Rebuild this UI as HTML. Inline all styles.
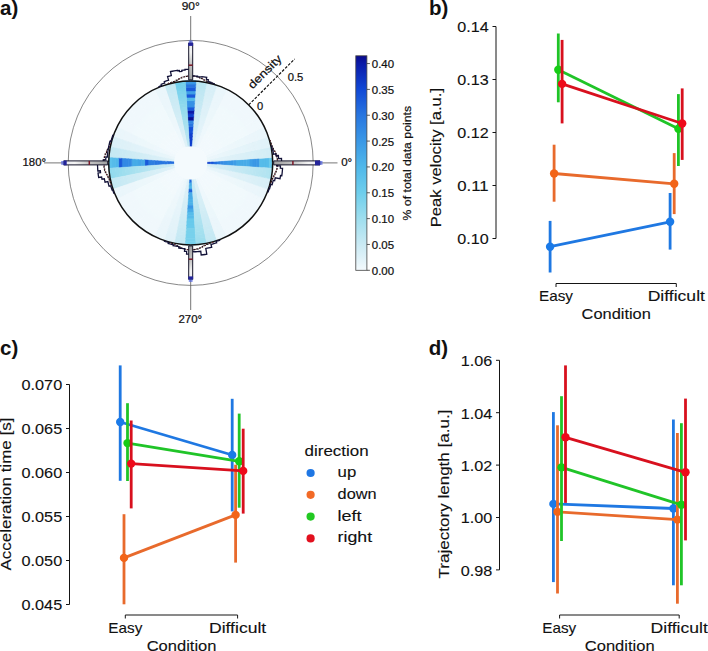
<!DOCTYPE html>
<html><head><meta charset="utf-8"><style>
html,body{margin:0;padding:0;background:#fff;}
svg{display:block;font-family:"Liberation Sans", sans-serif;}
</style></head><body>
<svg width="708" height="651" viewBox="0 0 708 651">
<rect width="708" height="651" fill="#fff"/>
<g>
<path d="M207.16,163.98 L210.73,164.21 L210.73,161.59 L207.16,161.82Z" fill="#0f3fcd" stroke="#0f3fcd" stroke-width="0.4"/>
<path d="M210.43,164.19 L214.00,164.43 L214.00,161.37 L210.43,161.61Z" fill="#1551d8" stroke="#1551d8" stroke-width="0.4"/>
<path d="M213.70,164.41 L217.27,164.64 L217.27,161.16 L213.70,161.39Z" fill="#236dde" stroke="#236dde" stroke-width="0.4"/>
<path d="M216.97,164.62 L220.54,164.86 L220.54,160.94 L216.97,161.18Z" fill="#2c7de1" stroke="#2c7de1" stroke-width="0.4"/>
<path d="M220.24,164.84 L223.80,165.07 L223.80,160.73 L220.24,160.96Z" fill="#338ae4" stroke="#338ae4" stroke-width="0.4"/>
<path d="M223.50,165.05 L227.07,165.28 L227.07,160.52 L223.50,160.75Z" fill="#3691e5" stroke="#3691e5" stroke-width="0.4"/>
<path d="M226.77,165.26 L230.34,165.50 L230.34,160.30 L226.77,160.54Z" fill="#3a98e6" stroke="#3a98e6" stroke-width="0.4"/>
<path d="M230.04,165.48 L233.61,165.71 L233.61,160.09 L230.04,160.32Z" fill="#3a98e6" stroke="#3a98e6" stroke-width="0.4"/>
<path d="M233.31,165.69 L236.88,165.93 L236.88,159.87 L233.31,160.11Z" fill="#3e9ee7" stroke="#3e9ee7" stroke-width="0.4"/>
<path d="M236.58,165.91 L240.14,166.14 L240.14,159.66 L236.58,159.89Z" fill="#47abe8" stroke="#47abe8" stroke-width="0.4"/>
<path d="M239.84,166.12 L243.41,166.35 L243.41,159.45 L239.84,159.68Z" fill="#47abe8" stroke="#47abe8" stroke-width="0.4"/>
<path d="M243.11,166.34 L246.68,166.57 L246.68,159.23 L243.11,159.46Z" fill="#47abe8" stroke="#47abe8" stroke-width="0.4"/>
<path d="M246.38,166.55 L249.95,166.78 L249.95,159.02 L246.38,159.25Z" fill="#47abe8" stroke="#47abe8" stroke-width="0.4"/>
<path d="M249.65,166.76 L253.22,167.00 L253.22,158.80 L249.65,159.04Z" fill="#3e9ee7" stroke="#3e9ee7" stroke-width="0.4"/>
<path d="M252.92,166.98 L256.48,167.21 L256.48,158.59 L252.92,158.82Z" fill="#3a98e6" stroke="#3a98e6" stroke-width="0.4"/>
<path d="M256.18,167.19 L259.75,167.43 L259.75,158.37 L256.18,158.61Z" fill="#3a98e6" stroke="#3a98e6" stroke-width="0.4"/>
<path d="M259.45,167.41 L263.02,167.64 L263.02,158.16 L259.45,158.39Z" fill="#56bcea" stroke="#56bcea" stroke-width="0.4"/>
<path d="M262.72,167.62 L266.29,167.85 L266.29,157.95 L262.72,158.18Z" fill="#56bcea" stroke="#56bcea" stroke-width="0.4"/>
<path d="M265.99,167.83 L269.56,168.07 L269.56,157.73 L265.99,157.97Z" fill="#56bcea" stroke="#56bcea" stroke-width="0.4"/>
<path d="M269.26,168.05 L272.82,168.28 L272.82,157.52 L269.26,157.75Z" fill="#68caec" stroke="#68caec" stroke-width="0.4"/>
<path d="M207.16,161.82 L210.73,161.59 L210.39,158.98 L206.88,159.68Z" fill="#e6f4fa" stroke="#e6f4fa" stroke-width="0.4"/>
<path d="M210.43,161.61 L214.00,161.37 L213.60,158.34 L210.10,159.04Z" fill="#e5f4f9" stroke="#e5f4f9" stroke-width="0.4"/>
<path d="M213.70,161.39 L217.27,161.16 L216.81,157.71 L213.31,158.40Z" fill="#e3f3f9" stroke="#e3f3f9" stroke-width="0.4"/>
<path d="M216.97,161.18 L220.54,160.94 L220.03,157.07 L216.52,157.76Z" fill="#e2f3f9" stroke="#e2f3f9" stroke-width="0.4"/>
<path d="M220.24,160.96 L223.80,160.73 L223.24,156.43 L219.73,157.13Z" fill="#e1f2f9" stroke="#e1f2f9" stroke-width="0.4"/>
<path d="M223.50,160.75 L227.07,160.52 L226.45,155.79 L222.94,156.49Z" fill="#e0f2f9" stroke="#e0f2f9" stroke-width="0.4"/>
<path d="M226.77,160.54 L230.34,160.30 L229.66,155.15 L226.16,155.85Z" fill="#dff1f8" stroke="#dff1f8" stroke-width="0.4"/>
<path d="M230.04,160.32 L233.61,160.09 L232.87,154.51 L229.37,155.21Z" fill="#def1f8" stroke="#def1f8" stroke-width="0.4"/>
<path d="M233.31,160.11 L236.88,159.87 L236.09,153.87 L232.58,154.57Z" fill="#ddf1f8" stroke="#ddf1f8" stroke-width="0.4"/>
<path d="M236.58,159.89 L240.14,159.66 L239.30,153.23 L235.79,153.93Z" fill="#dcf0f8" stroke="#dcf0f8" stroke-width="0.4"/>
<path d="M239.84,159.68 L243.41,159.45 L242.51,152.59 L239.00,153.29Z" fill="#dbf0f7" stroke="#dbf0f7" stroke-width="0.4"/>
<path d="M243.11,159.46 L246.68,159.23 L245.72,151.96 L242.22,152.65Z" fill="#daf0f7" stroke="#daf0f7" stroke-width="0.4"/>
<path d="M246.38,159.25 L249.95,159.02 L248.93,151.32 L245.43,152.01Z" fill="#d9eff7" stroke="#d9eff7" stroke-width="0.4"/>
<path d="M249.65,159.04 L253.22,158.80 L252.15,150.68 L248.64,151.38Z" fill="#d8eff7" stroke="#d8eff7" stroke-width="0.4"/>
<path d="M252.92,158.82 L256.48,158.59 L255.36,150.04 L251.85,150.74Z" fill="#d7eff7" stroke="#d7eff7" stroke-width="0.4"/>
<path d="M256.18,158.61 L259.75,158.37 L258.57,149.40 L255.06,150.10Z" fill="#d6eef6" stroke="#d6eef6" stroke-width="0.4"/>
<path d="M259.45,158.39 L263.02,158.16 L261.78,148.76 L258.28,149.46Z" fill="#d5eef6" stroke="#d5eef6" stroke-width="0.4"/>
<path d="M262.72,158.18 L266.29,157.95 L264.99,148.12 L261.49,148.82Z" fill="#d4eef6" stroke="#d4eef6" stroke-width="0.4"/>
<path d="M265.99,157.97 L269.56,157.73 L268.21,147.48 L264.70,148.18Z" fill="#d3edf6" stroke="#d3edf6" stroke-width="0.4"/>
<path d="M269.26,157.75 L272.82,157.52 L271.42,146.84 L267.91,147.54Z" fill="#d2edf6" stroke="#d2edf6" stroke-width="0.4"/>
<path d="M206.88,159.68 L210.39,158.98 L209.71,156.45 L206.32,157.60Z" fill="#ecf7fb" stroke="#ecf7fb" stroke-width="0.4"/>
<path d="M210.10,159.04 L213.60,158.34 L212.81,155.39 L209.43,156.54Z" fill="#ebf6fb" stroke="#ebf6fb" stroke-width="0.4"/>
<path d="M213.31,158.40 L216.81,157.71 L215.91,154.34 L212.53,155.49Z" fill="#ebf6fb" stroke="#ebf6fb" stroke-width="0.4"/>
<path d="M216.52,157.76 L220.03,157.07 L219.01,153.29 L215.63,154.44Z" fill="#eaf6fb" stroke="#eaf6fb" stroke-width="0.4"/>
<path d="M219.73,157.13 L223.24,156.43 L222.11,152.24 L218.73,153.39Z" fill="#e9f6fb" stroke="#e9f6fb" stroke-width="0.4"/>
<path d="M222.94,156.49 L226.45,155.79 L225.22,151.18 L221.83,152.33Z" fill="#e9f5fa" stroke="#e9f5fa" stroke-width="0.4"/>
<path d="M226.16,155.85 L229.66,155.15 L228.32,150.13 L224.93,151.28Z" fill="#e8f5fa" stroke="#e8f5fa" stroke-width="0.4"/>
<path d="M229.37,155.21 L232.87,154.51 L231.42,149.08 L228.03,150.23Z" fill="#e7f5fa" stroke="#e7f5fa" stroke-width="0.4"/>
<path d="M232.58,154.57 L236.09,153.87 L234.52,148.03 L231.13,149.17Z" fill="#e7f5fa" stroke="#e7f5fa" stroke-width="0.4"/>
<path d="M235.79,153.93 L239.30,153.23 L237.62,146.97 L234.24,148.12Z" fill="#e6f4fa" stroke="#e6f4fa" stroke-width="0.4"/>
<path d="M239.00,153.29 L242.51,152.59 L240.72,145.92 L237.34,147.07Z" fill="#e6f4fa" stroke="#e6f4fa" stroke-width="0.4"/>
<path d="M242.22,152.65 L245.72,151.96 L243.82,144.87 L240.44,146.02Z" fill="#e5f4fa" stroke="#e5f4fa" stroke-width="0.4"/>
<path d="M245.43,152.01 L248.93,151.32 L246.92,143.81 L243.54,144.96Z" fill="#e4f4f9" stroke="#e4f4f9" stroke-width="0.4"/>
<path d="M248.64,151.38 L252.15,150.68 L250.03,142.76 L246.64,143.91Z" fill="#e4f3f9" stroke="#e4f3f9" stroke-width="0.4"/>
<path d="M251.85,150.74 L255.36,150.04 L253.13,141.71 L249.74,142.86Z" fill="#e3f3f9" stroke="#e3f3f9" stroke-width="0.4"/>
<path d="M255.06,150.10 L258.57,149.40 L256.23,140.66 L252.84,141.81Z" fill="#e3f3f9" stroke="#e3f3f9" stroke-width="0.4"/>
<path d="M258.28,149.46 L261.78,148.76 L259.33,139.60 L255.94,140.75Z" fill="#e2f3f9" stroke="#e2f3f9" stroke-width="0.4"/>
<path d="M261.49,148.82 L264.99,148.12 L262.43,138.55 L259.04,139.70Z" fill="#e1f2f9" stroke="#e1f2f9" stroke-width="0.4"/>
<path d="M264.70,148.18 L268.21,147.48 L265.53,137.50 L262.15,138.65Z" fill="#e1f2f9" stroke="#e1f2f9" stroke-width="0.4"/>
<path d="M267.91,147.54 L271.42,146.84 L268.63,136.45 L265.25,137.59Z" fill="#e0f2f8" stroke="#e0f2f8" stroke-width="0.4"/>
<path d="M206.32,157.60 L209.71,156.45 L208.70,154.02 L205.50,155.60Z" fill="#eff8fc" stroke="#eff8fc" stroke-width="0.4"/>
<path d="M209.43,156.54 L212.81,155.39 L211.64,152.57 L208.44,154.15Z" fill="#eff8fc" stroke="#eff8fc" stroke-width="0.4"/>
<path d="M212.53,155.49 L215.91,154.34 L214.58,151.12 L211.37,152.71Z" fill="#eff8fc" stroke="#eff8fc" stroke-width="0.4"/>
<path d="M215.63,154.44 L219.01,153.29 L217.52,149.68 L214.31,151.26Z" fill="#eff8fc" stroke="#eff8fc" stroke-width="0.4"/>
<path d="M218.73,153.39 L222.11,152.24 L220.45,148.23 L217.25,149.81Z" fill="#eef8fc" stroke="#eef8fc" stroke-width="0.4"/>
<path d="M221.83,152.33 L225.22,151.18 L223.39,146.78 L220.18,148.36Z" fill="#eef8fc" stroke="#eef8fc" stroke-width="0.4"/>
<path d="M224.93,151.28 L228.32,150.13 L226.33,145.33 L223.12,146.91Z" fill="#eef7fc" stroke="#eef7fc" stroke-width="0.4"/>
<path d="M228.03,150.23 L231.42,149.08 L229.27,143.88 L226.06,145.46Z" fill="#edf7fb" stroke="#edf7fb" stroke-width="0.4"/>
<path d="M231.13,149.17 L234.52,148.03 L232.20,142.43 L229.00,144.01Z" fill="#edf7fb" stroke="#edf7fb" stroke-width="0.4"/>
<path d="M234.24,148.12 L237.62,146.97 L235.14,140.98 L231.93,142.57Z" fill="#edf7fb" stroke="#edf7fb" stroke-width="0.4"/>
<path d="M237.34,147.07 L240.72,145.92 L238.08,139.54 L234.87,141.12Z" fill="#ecf7fb" stroke="#ecf7fb" stroke-width="0.4"/>
<path d="M240.44,146.02 L243.82,144.87 L241.01,138.09 L237.81,139.67Z" fill="#ecf7fb" stroke="#ecf7fb" stroke-width="0.4"/>
<path d="M243.54,144.96 L246.92,143.81 L243.95,136.64 L240.75,138.22Z" fill="#ecf7fb" stroke="#ecf7fb" stroke-width="0.4"/>
<path d="M246.64,143.91 L250.03,142.76 L246.89,135.19 L243.68,136.77Z" fill="#ebf6fb" stroke="#ebf6fb" stroke-width="0.4"/>
<path d="M249.74,142.86 L253.13,141.71 L249.83,133.74 L246.62,135.32Z" fill="#ebf6fb" stroke="#ebf6fb" stroke-width="0.4"/>
<path d="M252.84,141.81 L256.23,140.66 L252.76,132.29 L249.56,133.87Z" fill="#ebf6fb" stroke="#ebf6fb" stroke-width="0.4"/>
<path d="M255.94,140.75 L259.33,139.60 L255.70,130.85 L252.49,132.43Z" fill="#ebf6fb" stroke="#ebf6fb" stroke-width="0.4"/>
<path d="M259.04,139.70 L262.43,138.55 L258.64,129.40 L255.43,130.98Z" fill="#eaf6fb" stroke="#eaf6fb" stroke-width="0.4"/>
<path d="M262.15,138.65 L265.53,137.50 L261.58,127.95 L258.37,129.53Z" fill="#eaf6fb" stroke="#eaf6fb" stroke-width="0.4"/>
<path d="M265.25,137.59 L268.63,136.45 L264.51,126.50 L261.31,128.08Z" fill="#eaf6fb" stroke="#eaf6fb" stroke-width="0.4"/>
<path d="M205.50,155.60 L208.70,154.02 L207.39,151.75 L204.42,153.73Z" fill="#f2f9fd" stroke="#f2f9fd" stroke-width="0.4"/>
<path d="M208.44,154.15 L211.64,152.57 L210.11,149.93 L207.14,151.91Z" fill="#f2f9fd" stroke="#f2f9fd" stroke-width="0.4"/>
<path d="M211.37,152.71 L214.58,151.12 L212.84,148.11 L209.87,150.09Z" fill="#f2f9fd" stroke="#f2f9fd" stroke-width="0.4"/>
<path d="M214.31,151.26 L217.52,149.68 L215.56,146.29 L212.59,148.27Z" fill="#f2f9fd" stroke="#f2f9fd" stroke-width="0.4"/>
<path d="M217.25,149.81 L220.45,148.23 L218.28,144.47 L215.31,146.46Z" fill="#f2f9fc" stroke="#f2f9fc" stroke-width="0.4"/>
<path d="M220.18,148.36 L223.39,146.78 L221.01,142.65 L218.03,144.64Z" fill="#f2f9fc" stroke="#f2f9fc" stroke-width="0.4"/>
<path d="M223.12,146.91 L226.33,145.33 L223.73,140.83 L220.76,142.82Z" fill="#f1f9fc" stroke="#f1f9fc" stroke-width="0.4"/>
<path d="M226.06,145.46 L229.27,143.88 L226.45,139.01 L223.48,141.00Z" fill="#f1f9fc" stroke="#f1f9fc" stroke-width="0.4"/>
<path d="M229.00,144.01 L232.20,142.43 L229.18,137.19 L226.20,139.18Z" fill="#f1f9fc" stroke="#f1f9fc" stroke-width="0.4"/>
<path d="M231.93,142.57 L235.14,140.98 L231.90,135.37 L228.93,137.36Z" fill="#f1f9fc" stroke="#f1f9fc" stroke-width="0.4"/>
<path d="M234.87,141.12 L238.08,139.54 L234.62,133.55 L231.65,135.54Z" fill="#f1f9fc" stroke="#f1f9fc" stroke-width="0.4"/>
<path d="M237.81,139.67 L241.01,138.09 L237.35,131.73 L234.37,133.72Z" fill="#f1f9fc" stroke="#f1f9fc" stroke-width="0.4"/>
<path d="M240.75,138.22 L243.95,136.64 L240.07,129.91 L237.10,131.90Z" fill="#f1f9fc" stroke="#f1f9fc" stroke-width="0.4"/>
<path d="M243.68,136.77 L246.89,135.19 L242.79,128.09 L239.82,130.08Z" fill="#f1f9fc" stroke="#f1f9fc" stroke-width="0.4"/>
<path d="M246.62,135.32 L249.83,133.74 L245.51,126.27 L242.54,128.26Z" fill="#f0f9fc" stroke="#f0f9fc" stroke-width="0.4"/>
<path d="M249.56,133.87 L252.76,132.29 L248.24,124.45 L245.27,126.44Z" fill="#f0f8fc" stroke="#f0f8fc" stroke-width="0.4"/>
<path d="M252.49,132.43 L255.70,130.85 L250.96,122.64 L247.99,124.62Z" fill="#f0f8fc" stroke="#f0f8fc" stroke-width="0.4"/>
<path d="M255.43,130.98 L258.64,129.40 L253.68,120.82 L250.71,122.80Z" fill="#f0f8fc" stroke="#f0f8fc" stroke-width="0.4"/>
<path d="M258.37,129.53 L261.58,127.95 L256.41,119.00 L253.43,120.98Z" fill="#f0f8fc" stroke="#f0f8fc" stroke-width="0.4"/>
<path d="M261.31,128.08 L264.51,126.50 L259.13,117.18 L256.16,119.16Z" fill="#f0f8fc" stroke="#f0f8fc" stroke-width="0.4"/>
<path d="M204.42,153.73 L207.39,151.75 L205.79,149.66 L203.11,152.02Z" fill="#f2f9fd" stroke="#f2f9fd" stroke-width="0.4"/>
<path d="M207.14,151.91 L210.11,149.93 L208.26,147.50 L205.57,149.86Z" fill="#f2f9fd" stroke="#f2f9fd" stroke-width="0.4"/>
<path d="M209.87,150.09 L212.84,148.11 L210.72,145.34 L208.03,147.70Z" fill="#f2f9fd" stroke="#f2f9fd" stroke-width="0.4"/>
<path d="M212.59,148.27 L215.56,146.29 L213.18,143.19 L210.49,145.54Z" fill="#f2f9fd" stroke="#f2f9fd" stroke-width="0.4"/>
<path d="M215.31,146.46 L218.28,144.47 L215.64,141.03 L212.95,143.38Z" fill="#f2f9fc" stroke="#f2f9fc" stroke-width="0.4"/>
<path d="M218.03,144.64 L221.01,142.65 L218.10,138.87 L215.42,141.22Z" fill="#f2f9fc" stroke="#f2f9fc" stroke-width="0.4"/>
<path d="M220.76,142.82 L223.73,140.83 L220.57,136.71 L217.88,139.06Z" fill="#f1f9fc" stroke="#f1f9fc" stroke-width="0.4"/>
<path d="M223.48,141.00 L226.45,139.01 L223.03,134.55 L220.34,136.91Z" fill="#f1f9fc" stroke="#f1f9fc" stroke-width="0.4"/>
<path d="M226.20,139.18 L229.18,137.19 L225.49,132.39 L222.80,134.75Z" fill="#f1f9fc" stroke="#f1f9fc" stroke-width="0.4"/>
<path d="M228.93,137.36 L231.90,135.37 L227.95,130.23 L225.27,132.59Z" fill="#f1f9fc" stroke="#f1f9fc" stroke-width="0.4"/>
<path d="M231.65,135.54 L234.62,133.55 L230.42,128.07 L227.73,130.43Z" fill="#f1f9fc" stroke="#f1f9fc" stroke-width="0.4"/>
<path d="M234.37,133.72 L237.35,131.73 L232.88,125.91 L230.19,128.27Z" fill="#f1f9fc" stroke="#f1f9fc" stroke-width="0.4"/>
<path d="M237.10,131.90 L240.07,129.91 L235.34,123.75 L232.65,126.11Z" fill="#f1f9fc" stroke="#f1f9fc" stroke-width="0.4"/>
<path d="M239.82,130.08 L242.79,128.09 L237.80,121.59 L235.11,123.95Z" fill="#f1f9fc" stroke="#f1f9fc" stroke-width="0.4"/>
<path d="M242.54,128.26 L245.51,126.27 L240.27,119.43 L237.58,121.79Z" fill="#f0f9fc" stroke="#f0f9fc" stroke-width="0.4"/>
<path d="M245.27,126.44 L248.24,124.45 L242.73,117.27 L240.04,119.63Z" fill="#f0f8fc" stroke="#f0f8fc" stroke-width="0.4"/>
<path d="M247.99,124.62 L250.96,122.64 L245.19,115.11 L242.50,117.47Z" fill="#f0f8fc" stroke="#f0f8fc" stroke-width="0.4"/>
<path d="M250.71,122.80 L253.68,120.82 L247.65,112.95 L244.96,115.31Z" fill="#f0f8fc" stroke="#f0f8fc" stroke-width="0.4"/>
<path d="M253.43,120.98 L256.41,119.00 L250.11,110.80 L247.43,113.15Z" fill="#f0f8fc" stroke="#f0f8fc" stroke-width="0.4"/>
<path d="M256.16,119.16 L259.13,117.18 L252.58,108.64 L249.89,110.99Z" fill="#f0f8fc" stroke="#f0f8fc" stroke-width="0.4"/>
<path d="M203.11,152.02 L205.79,149.66 L203.94,147.81 L201.58,150.49Z" fill="#f2f9fd" stroke="#f2f9fd" stroke-width="0.4"/>
<path d="M205.57,149.86 L208.26,147.50 L206.10,145.34 L203.74,148.03Z" fill="#f2f9fd" stroke="#f2f9fd" stroke-width="0.4"/>
<path d="M208.03,147.70 L210.72,145.34 L208.26,142.88 L205.90,145.57Z" fill="#f2f9fd" stroke="#f2f9fd" stroke-width="0.4"/>
<path d="M210.49,145.54 L213.18,143.19 L210.41,140.42 L208.06,143.11Z" fill="#f2f9fd" stroke="#f2f9fd" stroke-width="0.4"/>
<path d="M212.95,143.38 L215.64,141.03 L212.57,137.96 L210.22,140.65Z" fill="#f2f9fc" stroke="#f2f9fc" stroke-width="0.4"/>
<path d="M215.42,141.22 L218.10,138.87 L214.73,135.50 L212.38,138.18Z" fill="#f2f9fc" stroke="#f2f9fc" stroke-width="0.4"/>
<path d="M217.88,139.06 L220.57,136.71 L216.89,133.03 L214.54,135.72Z" fill="#f1f9fc" stroke="#f1f9fc" stroke-width="0.4"/>
<path d="M220.34,136.91 L223.03,134.55 L219.05,130.57 L216.69,133.26Z" fill="#f1f9fc" stroke="#f1f9fc" stroke-width="0.4"/>
<path d="M222.80,134.75 L225.49,132.39 L221.21,128.11 L218.85,130.80Z" fill="#f1f9fc" stroke="#f1f9fc" stroke-width="0.4"/>
<path d="M225.27,132.59 L227.95,130.23 L223.37,125.65 L221.01,128.33Z" fill="#f1f9fc" stroke="#f1f9fc" stroke-width="0.4"/>
<path d="M227.73,130.43 L230.42,128.07 L225.53,123.18 L223.17,125.87Z" fill="#f1f9fc" stroke="#f1f9fc" stroke-width="0.4"/>
<path d="M230.19,128.27 L232.88,125.91 L227.69,120.72 L225.33,123.41Z" fill="#f1f9fc" stroke="#f1f9fc" stroke-width="0.4"/>
<path d="M232.65,126.11 L235.34,123.75 L229.85,118.26 L227.49,120.95Z" fill="#f1f9fc" stroke="#f1f9fc" stroke-width="0.4"/>
<path d="M235.11,123.95 L237.80,121.59 L232.01,115.80 L229.65,118.49Z" fill="#f1f9fc" stroke="#f1f9fc" stroke-width="0.4"/>
<path d="M237.58,121.79 L240.27,119.43 L234.17,113.33 L231.81,116.02Z" fill="#f0f9fc" stroke="#f0f9fc" stroke-width="0.4"/>
<path d="M240.04,119.63 L242.73,117.27 L236.33,110.87 L233.97,113.56Z" fill="#f0f8fc" stroke="#f0f8fc" stroke-width="0.4"/>
<path d="M242.50,117.47 L245.19,115.11 L238.49,108.41 L236.13,111.10Z" fill="#f0f8fc" stroke="#f0f8fc" stroke-width="0.4"/>
<path d="M244.96,115.31 L247.65,112.95 L240.65,105.95 L238.29,108.64Z" fill="#f0f8fc" stroke="#f0f8fc" stroke-width="0.4"/>
<path d="M247.43,113.15 L250.11,110.80 L242.80,103.49 L240.45,106.17Z" fill="#f0f8fc" stroke="#f0f8fc" stroke-width="0.4"/>
<path d="M249.89,110.99 L252.58,108.64 L244.96,101.02 L242.61,103.71Z" fill="#f0f8fc" stroke="#f0f8fc" stroke-width="0.4"/>
<path d="M201.58,150.49 L203.94,147.81 L201.85,146.21 L199.87,149.18Z" fill="#f2f9fd" stroke="#f2f9fd" stroke-width="0.4"/>
<path d="M203.74,148.03 L206.10,145.34 L203.67,143.49 L201.69,146.46Z" fill="#f2f9fd" stroke="#f2f9fd" stroke-width="0.4"/>
<path d="M205.90,145.57 L208.26,142.88 L205.49,140.76 L203.51,143.73Z" fill="#f2f9fd" stroke="#f2f9fd" stroke-width="0.4"/>
<path d="M208.06,143.11 L210.41,140.42 L207.31,138.04 L205.33,141.01Z" fill="#f2f9fd" stroke="#f2f9fd" stroke-width="0.4"/>
<path d="M210.22,140.65 L212.57,137.96 L209.13,135.32 L207.14,138.29Z" fill="#f2f9fc" stroke="#f2f9fc" stroke-width="0.4"/>
<path d="M212.38,138.18 L214.73,135.50 L210.95,132.59 L208.96,135.57Z" fill="#f2f9fc" stroke="#f2f9fc" stroke-width="0.4"/>
<path d="M214.54,135.72 L216.89,133.03 L212.77,129.87 L210.78,132.84Z" fill="#f1f9fc" stroke="#f1f9fc" stroke-width="0.4"/>
<path d="M216.69,133.26 L219.05,130.57 L214.59,127.15 L212.60,130.12Z" fill="#f1f9fc" stroke="#f1f9fc" stroke-width="0.4"/>
<path d="M218.85,130.80 L221.21,128.11 L216.41,124.42 L214.42,127.40Z" fill="#f1f9fc" stroke="#f1f9fc" stroke-width="0.4"/>
<path d="M221.01,128.33 L223.37,125.65 L218.23,121.70 L216.24,124.67Z" fill="#f1f9fc" stroke="#f1f9fc" stroke-width="0.4"/>
<path d="M223.17,125.87 L225.53,123.18 L220.05,118.98 L218.06,121.95Z" fill="#f1f9fc" stroke="#f1f9fc" stroke-width="0.4"/>
<path d="M225.33,123.41 L227.69,120.72 L221.87,116.25 L219.88,119.23Z" fill="#f1f9fc" stroke="#f1f9fc" stroke-width="0.4"/>
<path d="M227.49,120.95 L229.85,118.26 L223.69,113.53 L221.70,116.50Z" fill="#f1f9fc" stroke="#f1f9fc" stroke-width="0.4"/>
<path d="M229.65,118.49 L232.01,115.80 L225.51,110.81 L223.52,113.78Z" fill="#f1f9fc" stroke="#f1f9fc" stroke-width="0.4"/>
<path d="M231.81,116.02 L234.17,113.33 L227.33,108.09 L225.34,111.06Z" fill="#f0f9fc" stroke="#f0f9fc" stroke-width="0.4"/>
<path d="M233.97,113.56 L236.33,110.87 L229.15,105.36 L227.16,108.33Z" fill="#f0f8fc" stroke="#f0f8fc" stroke-width="0.4"/>
<path d="M236.13,111.10 L238.49,108.41 L230.96,102.64 L228.98,105.61Z" fill="#f0f8fc" stroke="#f0f8fc" stroke-width="0.4"/>
<path d="M238.29,108.64 L240.65,105.95 L232.78,99.92 L230.80,102.89Z" fill="#f0f8fc" stroke="#f0f8fc" stroke-width="0.4"/>
<path d="M240.45,106.17 L242.80,103.49 L234.60,97.19 L232.62,100.17Z" fill="#f0f8fc" stroke="#f0f8fc" stroke-width="0.4"/>
<path d="M242.61,103.71 L244.96,101.02 L236.42,94.47 L234.44,97.44Z" fill="#f0f8fc" stroke="#f0f8fc" stroke-width="0.4"/>
<path d="M199.87,149.18 L201.85,146.21 L199.58,144.90 L198.00,148.10Z" fill="#f2f9fd" stroke="#f2f9fd" stroke-width="0.4"/>
<path d="M201.69,146.46 L203.67,143.49 L201.03,141.96 L199.45,145.16Z" fill="#f2f9fd" stroke="#f2f9fd" stroke-width="0.4"/>
<path d="M203.51,143.73 L205.49,140.76 L202.48,139.02 L200.89,142.23Z" fill="#f2f9fd" stroke="#f2f9fd" stroke-width="0.4"/>
<path d="M205.33,141.01 L207.31,138.04 L203.92,136.08 L202.34,139.29Z" fill="#f2f9fd" stroke="#f2f9fd" stroke-width="0.4"/>
<path d="M207.14,138.29 L209.13,135.32 L205.37,133.15 L203.79,136.35Z" fill="#f2f9fc" stroke="#f2f9fc" stroke-width="0.4"/>
<path d="M208.96,135.57 L210.95,132.59 L206.82,130.21 L205.24,133.42Z" fill="#f2f9fc" stroke="#f2f9fc" stroke-width="0.4"/>
<path d="M210.78,132.84 L212.77,129.87 L208.27,127.27 L206.69,130.48Z" fill="#f1f9fc" stroke="#f1f9fc" stroke-width="0.4"/>
<path d="M212.60,130.12 L214.59,127.15 L209.72,124.33 L208.14,127.54Z" fill="#f1f9fc" stroke="#f1f9fc" stroke-width="0.4"/>
<path d="M214.42,127.40 L216.41,124.42 L211.17,121.40 L209.59,124.60Z" fill="#f1f9fc" stroke="#f1f9fc" stroke-width="0.4"/>
<path d="M216.24,124.67 L218.23,121.70 L212.62,118.46 L211.03,121.67Z" fill="#f1f9fc" stroke="#f1f9fc" stroke-width="0.4"/>
<path d="M218.06,121.95 L220.05,118.98 L214.06,115.52 L212.48,118.73Z" fill="#f1f9fc" stroke="#f1f9fc" stroke-width="0.4"/>
<path d="M219.88,119.23 L221.87,116.25 L215.51,112.59 L213.93,115.79Z" fill="#f1f9fc" stroke="#f1f9fc" stroke-width="0.4"/>
<path d="M221.70,116.50 L223.69,113.53 L216.96,109.65 L215.38,112.85Z" fill="#f1f9fc" stroke="#f1f9fc" stroke-width="0.4"/>
<path d="M223.52,113.78 L225.51,110.81 L218.41,106.71 L216.83,109.92Z" fill="#f1f9fc" stroke="#f1f9fc" stroke-width="0.4"/>
<path d="M225.34,111.06 L227.33,108.09 L219.86,103.77 L218.28,106.98Z" fill="#f0f9fc" stroke="#f0f9fc" stroke-width="0.4"/>
<path d="M227.16,108.33 L229.15,105.36 L221.31,100.84 L219.73,104.04Z" fill="#f0f8fc" stroke="#f0f8fc" stroke-width="0.4"/>
<path d="M228.98,105.61 L230.96,102.64 L222.75,97.90 L221.17,101.11Z" fill="#f0f8fc" stroke="#f0f8fc" stroke-width="0.4"/>
<path d="M230.80,102.89 L232.78,99.92 L224.20,94.96 L222.62,98.17Z" fill="#f0f8fc" stroke="#f0f8fc" stroke-width="0.4"/>
<path d="M232.62,100.17 L234.60,97.19 L225.65,92.02 L224.07,95.23Z" fill="#f0f8fc" stroke="#f0f8fc" stroke-width="0.4"/>
<path d="M234.44,97.44 L236.42,94.47 L227.10,89.09 L225.52,92.29Z" fill="#f0f8fc" stroke="#f0f8fc" stroke-width="0.4"/>
<path d="M198.00,148.10 L199.58,144.90 L197.15,143.89 L196.00,147.28Z" fill="#eff8fc" stroke="#eff8fc" stroke-width="0.4"/>
<path d="M199.45,145.16 L201.03,141.96 L198.21,140.79 L197.06,144.17Z" fill="#eff8fc" stroke="#eff8fc" stroke-width="0.4"/>
<path d="M200.89,142.23 L202.48,139.02 L199.26,137.69 L198.11,141.07Z" fill="#eff8fc" stroke="#eff8fc" stroke-width="0.4"/>
<path d="M202.34,139.29 L203.92,136.08 L200.31,134.59 L199.16,137.97Z" fill="#eff8fc" stroke="#eff8fc" stroke-width="0.4"/>
<path d="M203.79,136.35 L205.37,133.15 L201.36,131.49 L200.21,134.87Z" fill="#eef8fc" stroke="#eef8fc" stroke-width="0.4"/>
<path d="M205.24,133.42 L206.82,130.21 L202.42,128.38 L201.27,131.77Z" fill="#eef8fc" stroke="#eef8fc" stroke-width="0.4"/>
<path d="M206.69,130.48 L208.27,127.27 L203.47,125.28 L202.32,128.67Z" fill="#eef7fc" stroke="#eef7fc" stroke-width="0.4"/>
<path d="M208.14,127.54 L209.72,124.33 L204.52,122.18 L203.37,125.57Z" fill="#edf7fb" stroke="#edf7fb" stroke-width="0.4"/>
<path d="M209.59,124.60 L211.17,121.40 L205.57,119.08 L204.43,122.47Z" fill="#edf7fb" stroke="#edf7fb" stroke-width="0.4"/>
<path d="M211.03,121.67 L212.62,118.46 L206.63,115.98 L205.48,119.36Z" fill="#edf7fb" stroke="#edf7fb" stroke-width="0.4"/>
<path d="M212.48,118.73 L214.06,115.52 L207.68,112.88 L206.53,116.26Z" fill="#ecf7fb" stroke="#ecf7fb" stroke-width="0.4"/>
<path d="M213.93,115.79 L215.51,112.59 L208.73,109.78 L207.58,113.16Z" fill="#ecf7fb" stroke="#ecf7fb" stroke-width="0.4"/>
<path d="M215.38,112.85 L216.96,109.65 L209.79,106.68 L208.64,110.06Z" fill="#ecf7fb" stroke="#ecf7fb" stroke-width="0.4"/>
<path d="M216.83,109.92 L218.41,106.71 L210.84,103.57 L209.69,106.96Z" fill="#ebf6fb" stroke="#ebf6fb" stroke-width="0.4"/>
<path d="M218.28,106.98 L219.86,103.77 L211.89,100.47 L210.74,103.86Z" fill="#ebf6fb" stroke="#ebf6fb" stroke-width="0.4"/>
<path d="M219.73,104.04 L221.31,100.84 L212.94,97.37 L211.79,100.76Z" fill="#ebf6fb" stroke="#ebf6fb" stroke-width="0.4"/>
<path d="M221.17,101.11 L222.75,97.90 L214.00,94.27 L212.85,97.66Z" fill="#ebf6fb" stroke="#ebf6fb" stroke-width="0.4"/>
<path d="M222.62,98.17 L224.20,94.96 L215.05,91.17 L213.90,94.56Z" fill="#eaf6fb" stroke="#eaf6fb" stroke-width="0.4"/>
<path d="M224.07,95.23 L225.65,92.02 L216.10,88.07 L214.95,91.45Z" fill="#eaf6fb" stroke="#eaf6fb" stroke-width="0.4"/>
<path d="M225.52,92.29 L227.10,89.09 L217.15,84.97 L216.01,88.35Z" fill="#eaf6fb" stroke="#eaf6fb" stroke-width="0.4"/>
<path d="M196.00,147.28 L197.15,143.89 L194.62,143.21 L193.92,146.72Z" fill="#e8f5fa" stroke="#e8f5fa" stroke-width="0.4"/>
<path d="M197.06,144.17 L198.21,140.79 L195.26,140.00 L194.56,143.50Z" fill="#e7f5fa" stroke="#e7f5fa" stroke-width="0.4"/>
<path d="M198.11,141.07 L199.26,137.69 L195.89,136.79 L195.20,140.29Z" fill="#e6f4fa" stroke="#e6f4fa" stroke-width="0.4"/>
<path d="M199.16,137.97 L200.31,134.59 L196.53,133.57 L195.84,137.08Z" fill="#e5f4fa" stroke="#e5f4fa" stroke-width="0.4"/>
<path d="M200.21,134.87 L201.36,131.49 L197.17,130.36 L196.47,133.87Z" fill="#e4f3f9" stroke="#e4f3f9" stroke-width="0.4"/>
<path d="M201.27,131.77 L202.42,128.38 L197.81,127.15 L197.11,130.66Z" fill="#e3f3f9" stroke="#e3f3f9" stroke-width="0.4"/>
<path d="M202.32,128.67 L203.47,125.28 L198.45,123.94 L197.75,127.44Z" fill="#e2f3f9" stroke="#e2f3f9" stroke-width="0.4"/>
<path d="M203.37,125.57 L204.52,122.18 L199.09,120.73 L198.39,124.23Z" fill="#e1f2f9" stroke="#e1f2f9" stroke-width="0.4"/>
<path d="M204.43,122.47 L205.57,119.08 L199.73,117.51 L199.03,121.02Z" fill="#e0f2f9" stroke="#e0f2f9" stroke-width="0.4"/>
<path d="M205.48,119.36 L206.63,115.98 L200.37,114.30 L199.67,117.81Z" fill="#dff2f8" stroke="#dff2f8" stroke-width="0.4"/>
<path d="M206.53,116.26 L207.68,112.88 L201.01,111.09 L200.31,114.60Z" fill="#def1f8" stroke="#def1f8" stroke-width="0.4"/>
<path d="M207.58,113.16 L208.73,109.78 L201.64,107.88 L200.95,111.38Z" fill="#def1f8" stroke="#def1f8" stroke-width="0.4"/>
<path d="M208.64,110.06 L209.79,106.68 L202.28,104.67 L201.59,108.17Z" fill="#ddf1f8" stroke="#ddf1f8" stroke-width="0.4"/>
<path d="M209.69,106.96 L210.84,103.57 L202.92,101.45 L202.22,104.96Z" fill="#dcf0f8" stroke="#dcf0f8" stroke-width="0.4"/>
<path d="M210.74,103.86 L211.89,100.47 L203.56,98.24 L202.86,101.75Z" fill="#dbf0f7" stroke="#dbf0f7" stroke-width="0.4"/>
<path d="M211.79,100.76 L212.94,97.37 L204.20,95.03 L203.50,98.54Z" fill="#daf0f7" stroke="#daf0f7" stroke-width="0.4"/>
<path d="M212.85,97.66 L214.00,94.27 L204.84,91.82 L204.14,95.32Z" fill="#d9eff7" stroke="#d9eff7" stroke-width="0.4"/>
<path d="M213.90,94.56 L215.05,91.17 L205.48,88.61 L204.78,92.11Z" fill="#d8eff7" stroke="#d8eff7" stroke-width="0.4"/>
<path d="M214.95,91.45 L216.10,88.07 L206.12,85.39 L205.42,88.90Z" fill="#d8eff7" stroke="#d8eff7" stroke-width="0.4"/>
<path d="M216.01,88.35 L217.15,84.97 L206.76,82.18 L206.06,85.69Z" fill="#d7eef7" stroke="#d7eef7" stroke-width="0.4"/>
<path d="M193.92,146.72 L194.62,143.21 L192.01,142.87 L191.78,146.44Z" fill="#dcf0f8" stroke="#dcf0f8" stroke-width="0.4"/>
<path d="M194.56,143.50 L195.26,140.00 L192.23,139.60 L191.99,143.17Z" fill="#daf0f7" stroke="#daf0f7" stroke-width="0.4"/>
<path d="M195.20,140.29 L195.89,136.79 L192.44,136.33 L192.21,139.90Z" fill="#d8eff7" stroke="#d8eff7" stroke-width="0.4"/>
<path d="M195.84,137.08 L196.53,133.57 L192.66,133.06 L192.42,136.63Z" fill="#d7eef7" stroke="#d7eef7" stroke-width="0.4"/>
<path d="M196.47,133.87 L197.17,130.36 L192.87,129.80 L192.64,133.36Z" fill="#d5eef6" stroke="#d5eef6" stroke-width="0.4"/>
<path d="M197.11,130.66 L197.81,127.15 L193.08,126.53 L192.85,130.10Z" fill="#d3edf6" stroke="#d3edf6" stroke-width="0.4"/>
<path d="M197.75,127.44 L198.45,123.94 L193.30,123.26 L193.06,126.83Z" fill="#d1edf5" stroke="#d1edf5" stroke-width="0.4"/>
<path d="M198.39,124.23 L199.09,120.73 L193.51,119.99 L193.28,123.56Z" fill="#d0ecf5" stroke="#d0ecf5" stroke-width="0.4"/>
<path d="M199.03,121.02 L199.73,117.51 L193.73,116.72 L193.49,120.29Z" fill="#ceebf5" stroke="#ceebf5" stroke-width="0.4"/>
<path d="M199.67,117.81 L200.37,114.30 L193.94,113.46 L193.71,117.02Z" fill="#ccebf4" stroke="#ccebf4" stroke-width="0.4"/>
<path d="M200.31,114.60 L201.01,111.09 L194.15,110.19 L193.92,113.76Z" fill="#cbeaf4" stroke="#cbeaf4" stroke-width="0.4"/>
<path d="M200.95,111.38 L201.64,107.88 L194.37,106.92 L194.14,110.49Z" fill="#c9eaf4" stroke="#c9eaf4" stroke-width="0.4"/>
<path d="M201.59,108.17 L202.28,104.67 L194.58,103.65 L194.35,107.22Z" fill="#c7e9f4" stroke="#c7e9f4" stroke-width="0.4"/>
<path d="M202.22,104.96 L202.92,101.45 L194.80,100.38 L194.56,103.95Z" fill="#c5e9f3" stroke="#c5e9f3" stroke-width="0.4"/>
<path d="M202.86,101.75 L203.56,98.24 L195.01,97.12 L194.78,100.68Z" fill="#c3e8f3" stroke="#c3e8f3" stroke-width="0.4"/>
<path d="M203.50,98.54 L204.20,95.03 L195.23,93.85 L194.99,97.42Z" fill="#c2e8f3" stroke="#c2e8f3" stroke-width="0.4"/>
<path d="M204.14,95.32 L204.84,91.82 L195.44,90.58 L195.21,94.15Z" fill="#c0e7f3" stroke="#c0e7f3" stroke-width="0.4"/>
<path d="M204.78,92.11 L205.48,88.61 L195.65,87.31 L195.42,90.88Z" fill="#bee7f2" stroke="#bee7f2" stroke-width="0.4"/>
<path d="M205.42,88.90 L206.12,85.39 L195.87,84.04 L195.63,87.61Z" fill="#bce6f2" stroke="#bce6f2" stroke-width="0.4"/>
<path d="M206.06,85.69 L206.76,82.18 L196.08,80.78 L195.85,84.34Z" fill="#bae6f2" stroke="#bae6f2" stroke-width="0.4"/>
<path d="M191.78,146.44 L192.01,142.87 L189.39,142.87 L189.62,146.44Z" fill="#0f3fcd" stroke="#0f3fcd" stroke-width="0.4"/>
<path d="M191.99,143.17 L192.23,139.60 L189.17,139.60 L189.41,143.17Z" fill="#0f3fcd" stroke="#0f3fcd" stroke-width="0.4"/>
<path d="M192.21,139.90 L192.44,136.33 L188.96,136.33 L189.19,139.90Z" fill="#0f3fcd" stroke="#0f3fcd" stroke-width="0.4"/>
<path d="M192.42,136.63 L192.66,133.06 L188.74,133.06 L188.98,136.63Z" fill="#0f3fcd" stroke="#0f3fcd" stroke-width="0.4"/>
<path d="M192.64,133.36 L192.87,129.80 L188.53,129.80 L188.76,133.36Z" fill="#1551d8" stroke="#1551d8" stroke-width="0.4"/>
<path d="M192.85,130.10 L193.08,126.53 L188.32,126.53 L188.55,130.10Z" fill="#1551d8" stroke="#1551d8" stroke-width="0.4"/>
<path d="M193.06,126.83 L193.30,123.26 L188.10,123.26 L188.34,126.83Z" fill="#2876e0" stroke="#2876e0" stroke-width="0.4"/>
<path d="M193.28,123.56 L193.51,119.99 L187.89,119.99 L188.12,123.56Z" fill="#2f84e2" stroke="#2f84e2" stroke-width="0.4"/>
<path d="M193.49,120.29 L193.73,116.72 L187.67,116.72 L187.91,120.29Z" fill="#0a0f94" stroke="#0a0f94" stroke-width="0.4"/>
<path d="M193.71,117.02 L193.94,113.46 L187.46,113.46 L187.69,117.02Z" fill="#0f3fcd" stroke="#0f3fcd" stroke-width="0.4"/>
<path d="M193.92,113.76 L194.15,110.19 L187.25,110.19 L187.48,113.76Z" fill="#0a1aa8" stroke="#0a1aa8" stroke-width="0.4"/>
<path d="M194.14,110.49 L194.37,106.92 L187.03,106.92 L187.26,110.49Z" fill="#1a5ada" stroke="#1a5ada" stroke-width="0.4"/>
<path d="M194.35,107.22 L194.58,103.65 L186.82,103.65 L187.05,107.22Z" fill="#3691e5" stroke="#3691e5" stroke-width="0.4"/>
<path d="M194.56,103.95 L194.80,100.38 L186.60,100.38 L186.84,103.95Z" fill="#3691e5" stroke="#3691e5" stroke-width="0.4"/>
<path d="M194.78,100.68 L195.01,97.12 L186.39,97.12 L186.62,100.68Z" fill="#50b8ea" stroke="#50b8ea" stroke-width="0.4"/>
<path d="M194.99,97.42 L195.23,93.85 L186.17,93.85 L186.41,97.42Z" fill="#1a5ada" stroke="#1a5ada" stroke-width="0.4"/>
<path d="M195.21,94.15 L195.44,90.58 L185.96,90.58 L186.19,94.15Z" fill="#3e9ee7" stroke="#3e9ee7" stroke-width="0.4"/>
<path d="M195.42,90.88 L195.65,87.31 L185.75,87.31 L185.98,90.88Z" fill="#1a5ada" stroke="#1a5ada" stroke-width="0.4"/>
<path d="M195.63,87.61 L195.87,84.04 L185.53,84.04 L185.77,87.61Z" fill="#2876e0" stroke="#2876e0" stroke-width="0.4"/>
<path d="M195.85,84.34 L196.08,80.78 L185.32,80.78 L185.55,84.34Z" fill="#3a98e6" stroke="#3a98e6" stroke-width="0.4"/>
<path d="M189.62,146.44 L189.39,142.87 L186.78,143.21 L187.48,146.72Z" fill="#c1e7f3" stroke="#c1e7f3" stroke-width="0.4"/>
<path d="M189.41,143.17 L189.17,139.60 L186.14,140.00 L186.84,143.50Z" fill="#bde6f2" stroke="#bde6f2" stroke-width="0.4"/>
<path d="M189.19,139.90 L188.96,136.33 L185.51,136.79 L186.20,140.29Z" fill="#b9e5f2" stroke="#b9e5f2" stroke-width="0.4"/>
<path d="M188.98,136.63 L188.74,133.06 L184.87,133.57 L185.56,137.08Z" fill="#b5e4f1" stroke="#b5e4f1" stroke-width="0.4"/>
<path d="M188.76,133.36 L188.53,129.80 L184.23,130.36 L184.93,133.87Z" fill="#b1e3f1" stroke="#b1e3f1" stroke-width="0.4"/>
<path d="M188.55,130.10 L188.32,126.53 L183.59,127.15 L184.29,130.66Z" fill="#ace2f0" stroke="#ace2f0" stroke-width="0.4"/>
<path d="M188.34,126.83 L188.10,123.26 L182.95,123.94 L183.65,127.44Z" fill="#a8e1ef" stroke="#a8e1ef" stroke-width="0.4"/>
<path d="M188.12,123.56 L187.89,119.99 L182.31,120.73 L183.01,124.23Z" fill="#a4e0ef" stroke="#a4e0ef" stroke-width="0.4"/>
<path d="M187.91,120.29 L187.67,116.72 L181.67,117.51 L182.37,121.02Z" fill="#a0dfee" stroke="#a0dfee" stroke-width="0.4"/>
<path d="M187.69,117.02 L187.46,113.46 L181.03,114.30 L181.73,117.81Z" fill="#9cddee" stroke="#9cddee" stroke-width="0.4"/>
<path d="M187.48,113.76 L187.25,110.19 L180.39,111.09 L181.09,114.60Z" fill="#98dcee" stroke="#98dcee" stroke-width="0.4"/>
<path d="M187.26,110.49 L187.03,106.92 L179.76,107.88 L180.45,111.38Z" fill="#94dbee" stroke="#94dbee" stroke-width="0.4"/>
<path d="M187.05,107.22 L186.82,103.65 L179.12,104.67 L179.81,108.17Z" fill="#8fd9ed" stroke="#8fd9ed" stroke-width="0.4"/>
<path d="M186.84,103.95 L186.60,100.38 L178.48,101.45 L179.18,104.96Z" fill="#8bd8ed" stroke="#8bd8ed" stroke-width="0.4"/>
<path d="M186.62,100.68 L186.39,97.12 L177.84,98.24 L178.54,101.75Z" fill="#87d6ed" stroke="#87d6ed" stroke-width="0.4"/>
<path d="M186.41,97.42 L186.17,93.85 L177.20,95.03 L177.90,98.54Z" fill="#82d5ed" stroke="#82d5ed" stroke-width="0.4"/>
<path d="M186.19,94.15 L185.96,90.58 L176.56,91.82 L177.26,95.32Z" fill="#7ed3ed" stroke="#7ed3ed" stroke-width="0.4"/>
<path d="M185.98,90.88 L185.75,87.31 L175.92,88.61 L176.62,92.11Z" fill="#79d2ec" stroke="#79d2ec" stroke-width="0.4"/>
<path d="M185.77,87.61 L185.53,84.04 L175.28,85.39 L175.98,88.90Z" fill="#75d0ec" stroke="#75d0ec" stroke-width="0.4"/>
<path d="M185.55,84.34 L185.32,80.78 L174.64,82.18 L175.34,85.69Z" fill="#71cfec" stroke="#71cfec" stroke-width="0.4"/>
<path d="M187.48,146.72 L186.78,143.21 L184.25,143.89 L185.40,147.28Z" fill="#dff2f8" stroke="#dff2f8" stroke-width="0.4"/>
<path d="M186.84,143.50 L186.14,140.00 L183.19,140.79 L184.34,144.17Z" fill="#def1f8" stroke="#def1f8" stroke-width="0.4"/>
<path d="M186.20,140.29 L185.51,136.79 L182.14,137.69 L183.29,141.07Z" fill="#dcf0f8" stroke="#dcf0f8" stroke-width="0.4"/>
<path d="M185.56,137.08 L184.87,133.57 L181.09,134.59 L182.24,137.97Z" fill="#dbf0f7" stroke="#dbf0f7" stroke-width="0.4"/>
<path d="M184.93,133.87 L184.23,130.36 L180.04,131.49 L181.19,134.87Z" fill="#daeff7" stroke="#daeff7" stroke-width="0.4"/>
<path d="M184.29,130.66 L183.59,127.15 L178.98,128.38 L180.13,131.77Z" fill="#d8eff7" stroke="#d8eff7" stroke-width="0.4"/>
<path d="M183.65,127.44 L182.95,123.94 L177.93,125.28 L179.08,128.67Z" fill="#d7eff7" stroke="#d7eff7" stroke-width="0.4"/>
<path d="M183.01,124.23 L182.31,120.73 L176.88,122.18 L178.03,125.57Z" fill="#d6eef6" stroke="#d6eef6" stroke-width="0.4"/>
<path d="M182.37,121.02 L181.67,117.51 L175.83,119.08 L176.97,122.47Z" fill="#d4eef6" stroke="#d4eef6" stroke-width="0.4"/>
<path d="M181.73,117.81 L181.03,114.30 L174.77,115.98 L175.92,119.36Z" fill="#d3edf6" stroke="#d3edf6" stroke-width="0.4"/>
<path d="M181.09,114.60 L180.39,111.09 L173.72,112.88 L174.87,116.26Z" fill="#d1edf5" stroke="#d1edf5" stroke-width="0.4"/>
<path d="M180.45,111.38 L179.76,107.88 L172.67,109.78 L173.82,113.16Z" fill="#d0ecf5" stroke="#d0ecf5" stroke-width="0.4"/>
<path d="M179.81,108.17 L179.12,104.67 L171.61,106.68 L172.76,110.06Z" fill="#ceecf5" stroke="#ceecf5" stroke-width="0.4"/>
<path d="M179.18,104.96 L178.48,101.45 L170.56,103.57 L171.71,106.96Z" fill="#cdebf5" stroke="#cdebf5" stroke-width="0.4"/>
<path d="M178.54,101.75 L177.84,98.24 L169.51,100.47 L170.66,103.86Z" fill="#ccebf4" stroke="#ccebf4" stroke-width="0.4"/>
<path d="M177.90,98.54 L177.20,95.03 L168.46,97.37 L169.61,100.76Z" fill="#caeaf4" stroke="#caeaf4" stroke-width="0.4"/>
<path d="M177.26,95.32 L176.56,91.82 L167.40,94.27 L168.55,97.66Z" fill="#c9eaf4" stroke="#c9eaf4" stroke-width="0.4"/>
<path d="M176.62,92.11 L175.92,88.61 L166.35,91.17 L167.50,94.56Z" fill="#c7e9f4" stroke="#c7e9f4" stroke-width="0.4"/>
<path d="M175.98,88.90 L175.28,85.39 L165.30,88.07 L166.45,91.45Z" fill="#c6e9f3" stroke="#c6e9f3" stroke-width="0.4"/>
<path d="M175.34,85.69 L174.64,82.18 L164.25,84.97 L165.39,88.35Z" fill="#c4e8f3" stroke="#c4e8f3" stroke-width="0.4"/>
<path d="M185.40,147.28 L184.25,143.89 L181.82,144.90 L183.40,148.10Z" fill="#eff8fc" stroke="#eff8fc" stroke-width="0.4"/>
<path d="M184.34,144.17 L183.19,140.79 L180.37,141.96 L181.95,145.16Z" fill="#eff8fc" stroke="#eff8fc" stroke-width="0.4"/>
<path d="M183.29,141.07 L182.14,137.69 L178.92,139.02 L180.51,142.23Z" fill="#eff8fc" stroke="#eff8fc" stroke-width="0.4"/>
<path d="M182.24,137.97 L181.09,134.59 L177.48,136.08 L179.06,139.29Z" fill="#eff8fc" stroke="#eff8fc" stroke-width="0.4"/>
<path d="M181.19,134.87 L180.04,131.49 L176.03,133.15 L177.61,136.35Z" fill="#eef8fc" stroke="#eef8fc" stroke-width="0.4"/>
<path d="M180.13,131.77 L178.98,128.38 L174.58,130.21 L176.16,133.42Z" fill="#eef8fc" stroke="#eef8fc" stroke-width="0.4"/>
<path d="M179.08,128.67 L177.93,125.28 L173.13,127.27 L174.71,130.48Z" fill="#eef7fc" stroke="#eef7fc" stroke-width="0.4"/>
<path d="M178.03,125.57 L176.88,122.18 L171.68,124.33 L173.26,127.54Z" fill="#edf7fb" stroke="#edf7fb" stroke-width="0.4"/>
<path d="M176.97,122.47 L175.83,119.08 L170.23,121.40 L171.81,124.60Z" fill="#edf7fb" stroke="#edf7fb" stroke-width="0.4"/>
<path d="M175.92,119.36 L174.77,115.98 L168.78,118.46 L170.37,121.67Z" fill="#edf7fb" stroke="#edf7fb" stroke-width="0.4"/>
<path d="M174.87,116.26 L173.72,112.88 L167.34,115.52 L168.92,118.73Z" fill="#ecf7fb" stroke="#ecf7fb" stroke-width="0.4"/>
<path d="M173.82,113.16 L172.67,109.78 L165.89,112.59 L167.47,115.79Z" fill="#ecf7fb" stroke="#ecf7fb" stroke-width="0.4"/>
<path d="M172.76,110.06 L171.61,106.68 L164.44,109.65 L166.02,112.85Z" fill="#ecf7fb" stroke="#ecf7fb" stroke-width="0.4"/>
<path d="M171.71,106.96 L170.56,103.57 L162.99,106.71 L164.57,109.92Z" fill="#ebf6fb" stroke="#ebf6fb" stroke-width="0.4"/>
<path d="M170.66,103.86 L169.51,100.47 L161.54,103.77 L163.12,106.98Z" fill="#ebf6fb" stroke="#ebf6fb" stroke-width="0.4"/>
<path d="M169.61,100.76 L168.46,97.37 L160.09,100.84 L161.67,104.04Z" fill="#ebf6fb" stroke="#ebf6fb" stroke-width="0.4"/>
<path d="M168.55,97.66 L167.40,94.27 L158.65,97.90 L160.23,101.11Z" fill="#ebf6fb" stroke="#ebf6fb" stroke-width="0.4"/>
<path d="M167.50,94.56 L166.35,91.17 L157.20,94.96 L158.78,98.17Z" fill="#eaf6fb" stroke="#eaf6fb" stroke-width="0.4"/>
<path d="M166.45,91.45 L165.30,88.07 L155.75,92.02 L157.33,95.23Z" fill="#eaf6fb" stroke="#eaf6fb" stroke-width="0.4"/>
<path d="M165.39,88.35 L164.25,84.97 L154.30,89.09 L155.88,92.29Z" fill="#eaf6fb" stroke="#eaf6fb" stroke-width="0.4"/>
<path d="M183.40,148.10 L181.82,144.90 L179.55,146.21 L181.53,149.18Z" fill="#f2f9fd" stroke="#f2f9fd" stroke-width="0.4"/>
<path d="M181.95,145.16 L180.37,141.96 L177.73,143.49 L179.71,146.46Z" fill="#f2f9fd" stroke="#f2f9fd" stroke-width="0.4"/>
<path d="M180.51,142.23 L178.92,139.02 L175.91,140.76 L177.89,143.73Z" fill="#f2f9fd" stroke="#f2f9fd" stroke-width="0.4"/>
<path d="M179.06,139.29 L177.48,136.08 L174.09,138.04 L176.07,141.01Z" fill="#f2f9fd" stroke="#f2f9fd" stroke-width="0.4"/>
<path d="M177.61,136.35 L176.03,133.15 L172.27,135.32 L174.26,138.29Z" fill="#f2f9fc" stroke="#f2f9fc" stroke-width="0.4"/>
<path d="M176.16,133.42 L174.58,130.21 L170.45,132.59 L172.44,135.57Z" fill="#f2f9fc" stroke="#f2f9fc" stroke-width="0.4"/>
<path d="M174.71,130.48 L173.13,127.27 L168.63,129.87 L170.62,132.84Z" fill="#f1f9fc" stroke="#f1f9fc" stroke-width="0.4"/>
<path d="M173.26,127.54 L171.68,124.33 L166.81,127.15 L168.80,130.12Z" fill="#f1f9fc" stroke="#f1f9fc" stroke-width="0.4"/>
<path d="M171.81,124.60 L170.23,121.40 L164.99,124.42 L166.98,127.40Z" fill="#f1f9fc" stroke="#f1f9fc" stroke-width="0.4"/>
<path d="M170.37,121.67 L168.78,118.46 L163.17,121.70 L165.16,124.67Z" fill="#f1f9fc" stroke="#f1f9fc" stroke-width="0.4"/>
<path d="M168.92,118.73 L167.34,115.52 L161.35,118.98 L163.34,121.95Z" fill="#f1f9fc" stroke="#f1f9fc" stroke-width="0.4"/>
<path d="M167.47,115.79 L165.89,112.59 L159.53,116.25 L161.52,119.23Z" fill="#f1f9fc" stroke="#f1f9fc" stroke-width="0.4"/>
<path d="M166.02,112.85 L164.44,109.65 L157.71,113.53 L159.70,116.50Z" fill="#f1f9fc" stroke="#f1f9fc" stroke-width="0.4"/>
<path d="M164.57,109.92 L162.99,106.71 L155.89,110.81 L157.88,113.78Z" fill="#f1f9fc" stroke="#f1f9fc" stroke-width="0.4"/>
<path d="M163.12,106.98 L161.54,103.77 L154.07,108.09 L156.06,111.06Z" fill="#f0f9fc" stroke="#f0f9fc" stroke-width="0.4"/>
<path d="M161.67,104.04 L160.09,100.84 L152.25,105.36 L154.24,108.33Z" fill="#f0f8fc" stroke="#f0f8fc" stroke-width="0.4"/>
<path d="M160.23,101.11 L158.65,97.90 L150.44,102.64 L152.42,105.61Z" fill="#f0f8fc" stroke="#f0f8fc" stroke-width="0.4"/>
<path d="M158.78,98.17 L157.20,94.96 L148.62,99.92 L150.60,102.89Z" fill="#f0f8fc" stroke="#f0f8fc" stroke-width="0.4"/>
<path d="M157.33,95.23 L155.75,92.02 L146.80,97.19 L148.78,100.17Z" fill="#f0f8fc" stroke="#f0f8fc" stroke-width="0.4"/>
<path d="M155.88,92.29 L154.30,89.09 L144.98,94.47 L146.96,97.44Z" fill="#f0f8fc" stroke="#f0f8fc" stroke-width="0.4"/>
<path d="M181.53,149.18 L179.55,146.21 L177.46,147.81 L179.82,150.49Z" fill="#f2f9fd" stroke="#f2f9fd" stroke-width="0.4"/>
<path d="M179.71,146.46 L177.73,143.49 L175.30,145.34 L177.66,148.03Z" fill="#f2f9fd" stroke="#f2f9fd" stroke-width="0.4"/>
<path d="M177.89,143.73 L175.91,140.76 L173.14,142.88 L175.50,145.57Z" fill="#f2f9fd" stroke="#f2f9fd" stroke-width="0.4"/>
<path d="M176.07,141.01 L174.09,138.04 L170.99,140.42 L173.34,143.11Z" fill="#f2f9fd" stroke="#f2f9fd" stroke-width="0.4"/>
<path d="M174.26,138.29 L172.27,135.32 L168.83,137.96 L171.18,140.65Z" fill="#f2f9fc" stroke="#f2f9fc" stroke-width="0.4"/>
<path d="M172.44,135.57 L170.45,132.59 L166.67,135.50 L169.02,138.18Z" fill="#f2f9fc" stroke="#f2f9fc" stroke-width="0.4"/>
<path d="M170.62,132.84 L168.63,129.87 L164.51,133.03 L166.86,135.72Z" fill="#f1f9fc" stroke="#f1f9fc" stroke-width="0.4"/>
<path d="M168.80,130.12 L166.81,127.15 L162.35,130.57 L164.71,133.26Z" fill="#f1f9fc" stroke="#f1f9fc" stroke-width="0.4"/>
<path d="M166.98,127.40 L164.99,124.42 L160.19,128.11 L162.55,130.80Z" fill="#f1f9fc" stroke="#f1f9fc" stroke-width="0.4"/>
<path d="M165.16,124.67 L163.17,121.70 L158.03,125.65 L160.39,128.33Z" fill="#f1f9fc" stroke="#f1f9fc" stroke-width="0.4"/>
<path d="M163.34,121.95 L161.35,118.98 L155.87,123.18 L158.23,125.87Z" fill="#f1f9fc" stroke="#f1f9fc" stroke-width="0.4"/>
<path d="M161.52,119.23 L159.53,116.25 L153.71,120.72 L156.07,123.41Z" fill="#f1f9fc" stroke="#f1f9fc" stroke-width="0.4"/>
<path d="M159.70,116.50 L157.71,113.53 L151.55,118.26 L153.91,120.95Z" fill="#f1f9fc" stroke="#f1f9fc" stroke-width="0.4"/>
<path d="M157.88,113.78 L155.89,110.81 L149.39,115.80 L151.75,118.49Z" fill="#f1f9fc" stroke="#f1f9fc" stroke-width="0.4"/>
<path d="M156.06,111.06 L154.07,108.09 L147.23,113.33 L149.59,116.02Z" fill="#f0f9fc" stroke="#f0f9fc" stroke-width="0.4"/>
<path d="M154.24,108.33 L152.25,105.36 L145.07,110.87 L147.43,113.56Z" fill="#f0f8fc" stroke="#f0f8fc" stroke-width="0.4"/>
<path d="M152.42,105.61 L150.44,102.64 L142.91,108.41 L145.27,111.10Z" fill="#f0f8fc" stroke="#f0f8fc" stroke-width="0.4"/>
<path d="M150.60,102.89 L148.62,99.92 L140.75,105.95 L143.11,108.64Z" fill="#f0f8fc" stroke="#f0f8fc" stroke-width="0.4"/>
<path d="M148.78,100.17 L146.80,97.19 L138.60,103.49 L140.95,106.17Z" fill="#f0f8fc" stroke="#f0f8fc" stroke-width="0.4"/>
<path d="M146.96,97.44 L144.98,94.47 L136.44,101.02 L138.79,103.71Z" fill="#f0f8fc" stroke="#f0f8fc" stroke-width="0.4"/>
<path d="M179.82,150.49 L177.46,147.81 L175.61,149.66 L178.29,152.02Z" fill="#f2f9fd" stroke="#f2f9fd" stroke-width="0.4"/>
<path d="M177.66,148.03 L175.30,145.34 L173.14,147.50 L175.83,149.86Z" fill="#f2f9fd" stroke="#f2f9fd" stroke-width="0.4"/>
<path d="M175.50,145.57 L173.14,142.88 L170.68,145.34 L173.37,147.70Z" fill="#f2f9fd" stroke="#f2f9fd" stroke-width="0.4"/>
<path d="M173.34,143.11 L170.99,140.42 L168.22,143.19 L170.91,145.54Z" fill="#f2f9fd" stroke="#f2f9fd" stroke-width="0.4"/>
<path d="M171.18,140.65 L168.83,137.96 L165.76,141.03 L168.45,143.38Z" fill="#f2f9fc" stroke="#f2f9fc" stroke-width="0.4"/>
<path d="M169.02,138.18 L166.67,135.50 L163.30,138.87 L165.98,141.22Z" fill="#f2f9fc" stroke="#f2f9fc" stroke-width="0.4"/>
<path d="M166.86,135.72 L164.51,133.03 L160.83,136.71 L163.52,139.06Z" fill="#f1f9fc" stroke="#f1f9fc" stroke-width="0.4"/>
<path d="M164.71,133.26 L162.35,130.57 L158.37,134.55 L161.06,136.91Z" fill="#f1f9fc" stroke="#f1f9fc" stroke-width="0.4"/>
<path d="M162.55,130.80 L160.19,128.11 L155.91,132.39 L158.60,134.75Z" fill="#f1f9fc" stroke="#f1f9fc" stroke-width="0.4"/>
<path d="M160.39,128.33 L158.03,125.65 L153.45,130.23 L156.13,132.59Z" fill="#f1f9fc" stroke="#f1f9fc" stroke-width="0.4"/>
<path d="M158.23,125.87 L155.87,123.18 L150.98,128.07 L153.67,130.43Z" fill="#f1f9fc" stroke="#f1f9fc" stroke-width="0.4"/>
<path d="M156.07,123.41 L153.71,120.72 L148.52,125.91 L151.21,128.27Z" fill="#f1f9fc" stroke="#f1f9fc" stroke-width="0.4"/>
<path d="M153.91,120.95 L151.55,118.26 L146.06,123.75 L148.75,126.11Z" fill="#f1f9fc" stroke="#f1f9fc" stroke-width="0.4"/>
<path d="M151.75,118.49 L149.39,115.80 L143.60,121.59 L146.29,123.95Z" fill="#f1f9fc" stroke="#f1f9fc" stroke-width="0.4"/>
<path d="M149.59,116.02 L147.23,113.33 L141.13,119.43 L143.82,121.79Z" fill="#f0f9fc" stroke="#f0f9fc" stroke-width="0.4"/>
<path d="M147.43,113.56 L145.07,110.87 L138.67,117.27 L141.36,119.63Z" fill="#f0f8fc" stroke="#f0f8fc" stroke-width="0.4"/>
<path d="M145.27,111.10 L142.91,108.41 L136.21,115.11 L138.90,117.47Z" fill="#f0f8fc" stroke="#f0f8fc" stroke-width="0.4"/>
<path d="M143.11,108.64 L140.75,105.95 L133.75,112.95 L136.44,115.31Z" fill="#f0f8fc" stroke="#f0f8fc" stroke-width="0.4"/>
<path d="M140.95,106.17 L138.60,103.49 L131.29,110.80 L133.97,113.15Z" fill="#f0f8fc" stroke="#f0f8fc" stroke-width="0.4"/>
<path d="M138.79,103.71 L136.44,101.02 L128.82,108.64 L131.51,110.99Z" fill="#f0f8fc" stroke="#f0f8fc" stroke-width="0.4"/>
<path d="M178.29,152.02 L175.61,149.66 L174.01,151.75 L176.98,153.73Z" fill="#f2f9fd" stroke="#f2f9fd" stroke-width="0.4"/>
<path d="M175.83,149.86 L173.14,147.50 L171.29,149.93 L174.26,151.91Z" fill="#f2f9fd" stroke="#f2f9fd" stroke-width="0.4"/>
<path d="M173.37,147.70 L170.68,145.34 L168.56,148.11 L171.53,150.09Z" fill="#f2f9fd" stroke="#f2f9fd" stroke-width="0.4"/>
<path d="M170.91,145.54 L168.22,143.19 L165.84,146.29 L168.81,148.27Z" fill="#f2f9fd" stroke="#f2f9fd" stroke-width="0.4"/>
<path d="M168.45,143.38 L165.76,141.03 L163.12,144.47 L166.09,146.46Z" fill="#f2f9fc" stroke="#f2f9fc" stroke-width="0.4"/>
<path d="M165.98,141.22 L163.30,138.87 L160.39,142.65 L163.37,144.64Z" fill="#f2f9fc" stroke="#f2f9fc" stroke-width="0.4"/>
<path d="M163.52,139.06 L160.83,136.71 L157.67,140.83 L160.64,142.82Z" fill="#f1f9fc" stroke="#f1f9fc" stroke-width="0.4"/>
<path d="M161.06,136.91 L158.37,134.55 L154.95,139.01 L157.92,141.00Z" fill="#f1f9fc" stroke="#f1f9fc" stroke-width="0.4"/>
<path d="M158.60,134.75 L155.91,132.39 L152.22,137.19 L155.20,139.18Z" fill="#f1f9fc" stroke="#f1f9fc" stroke-width="0.4"/>
<path d="M156.13,132.59 L153.45,130.23 L149.50,135.37 L152.47,137.36Z" fill="#f1f9fc" stroke="#f1f9fc" stroke-width="0.4"/>
<path d="M153.67,130.43 L150.98,128.07 L146.78,133.55 L149.75,135.54Z" fill="#f1f9fc" stroke="#f1f9fc" stroke-width="0.4"/>
<path d="M151.21,128.27 L148.52,125.91 L144.05,131.73 L147.03,133.72Z" fill="#f1f9fc" stroke="#f1f9fc" stroke-width="0.4"/>
<path d="M148.75,126.11 L146.06,123.75 L141.33,129.91 L144.30,131.90Z" fill="#f1f9fc" stroke="#f1f9fc" stroke-width="0.4"/>
<path d="M146.29,123.95 L143.60,121.59 L138.61,128.09 L141.58,130.08Z" fill="#f1f9fc" stroke="#f1f9fc" stroke-width="0.4"/>
<path d="M143.82,121.79 L141.13,119.43 L135.89,126.27 L138.86,128.26Z" fill="#f0f9fc" stroke="#f0f9fc" stroke-width="0.4"/>
<path d="M141.36,119.63 L138.67,117.27 L133.16,124.45 L136.13,126.44Z" fill="#f0f8fc" stroke="#f0f8fc" stroke-width="0.4"/>
<path d="M138.90,117.47 L136.21,115.11 L130.44,122.64 L133.41,124.62Z" fill="#f0f8fc" stroke="#f0f8fc" stroke-width="0.4"/>
<path d="M136.44,115.31 L133.75,112.95 L127.72,120.82 L130.69,122.80Z" fill="#f0f8fc" stroke="#f0f8fc" stroke-width="0.4"/>
<path d="M133.97,113.15 L131.29,110.80 L124.99,119.00 L127.97,120.98Z" fill="#f0f8fc" stroke="#f0f8fc" stroke-width="0.4"/>
<path d="M131.51,110.99 L128.82,108.64 L122.27,117.18 L125.24,119.16Z" fill="#f0f8fc" stroke="#f0f8fc" stroke-width="0.4"/>
<path d="M176.98,153.73 L174.01,151.75 L172.70,154.02 L175.90,155.60Z" fill="#f2f9fd" stroke="#f2f9fd" stroke-width="0.4"/>
<path d="M174.26,151.91 L171.29,149.93 L169.76,152.57 L172.96,154.15Z" fill="#f2f9fd" stroke="#f2f9fd" stroke-width="0.4"/>
<path d="M171.53,150.09 L168.56,148.11 L166.82,151.12 L170.03,152.71Z" fill="#f2f9fd" stroke="#f2f9fd" stroke-width="0.4"/>
<path d="M168.81,148.27 L165.84,146.29 L163.88,149.68 L167.09,151.26Z" fill="#f2f9fd" stroke="#f2f9fd" stroke-width="0.4"/>
<path d="M166.09,146.46 L163.12,144.47 L160.95,148.23 L164.15,149.81Z" fill="#f2f9fc" stroke="#f2f9fc" stroke-width="0.4"/>
<path d="M163.37,144.64 L160.39,142.65 L158.01,146.78 L161.22,148.36Z" fill="#f2f9fc" stroke="#f2f9fc" stroke-width="0.4"/>
<path d="M160.64,142.82 L157.67,140.83 L155.07,145.33 L158.28,146.91Z" fill="#f1f9fc" stroke="#f1f9fc" stroke-width="0.4"/>
<path d="M157.92,141.00 L154.95,139.01 L152.13,143.88 L155.34,145.46Z" fill="#f1f9fc" stroke="#f1f9fc" stroke-width="0.4"/>
<path d="M155.20,139.18 L152.22,137.19 L149.20,142.43 L152.40,144.01Z" fill="#f1f9fc" stroke="#f1f9fc" stroke-width="0.4"/>
<path d="M152.47,137.36 L149.50,135.37 L146.26,140.98 L149.47,142.57Z" fill="#f1f9fc" stroke="#f1f9fc" stroke-width="0.4"/>
<path d="M149.75,135.54 L146.78,133.55 L143.32,139.54 L146.53,141.12Z" fill="#f1f9fc" stroke="#f1f9fc" stroke-width="0.4"/>
<path d="M147.03,133.72 L144.05,131.73 L140.39,138.09 L143.59,139.67Z" fill="#f1f9fc" stroke="#f1f9fc" stroke-width="0.4"/>
<path d="M144.30,131.90 L141.33,129.91 L137.45,136.64 L140.65,138.22Z" fill="#f1f9fc" stroke="#f1f9fc" stroke-width="0.4"/>
<path d="M141.58,130.08 L138.61,128.09 L134.51,135.19 L137.72,136.77Z" fill="#f1f9fc" stroke="#f1f9fc" stroke-width="0.4"/>
<path d="M138.86,128.26 L135.89,126.27 L131.57,133.74 L134.78,135.32Z" fill="#f0f9fc" stroke="#f0f9fc" stroke-width="0.4"/>
<path d="M136.13,126.44 L133.16,124.45 L128.64,132.29 L131.84,133.87Z" fill="#f0f8fc" stroke="#f0f8fc" stroke-width="0.4"/>
<path d="M133.41,124.62 L130.44,122.64 L125.70,130.85 L128.91,132.43Z" fill="#f0f8fc" stroke="#f0f8fc" stroke-width="0.4"/>
<path d="M130.69,122.80 L127.72,120.82 L122.76,129.40 L125.97,130.98Z" fill="#f0f8fc" stroke="#f0f8fc" stroke-width="0.4"/>
<path d="M127.97,120.98 L124.99,119.00 L119.82,127.95 L123.03,129.53Z" fill="#f0f8fc" stroke="#f0f8fc" stroke-width="0.4"/>
<path d="M125.24,119.16 L122.27,117.18 L116.89,126.50 L120.09,128.08Z" fill="#f0f8fc" stroke="#f0f8fc" stroke-width="0.4"/>
<path d="M175.90,155.60 L172.70,154.02 L171.69,156.45 L175.08,157.60Z" fill="#eff8fc" stroke="#eff8fc" stroke-width="0.4"/>
<path d="M172.96,154.15 L169.76,152.57 L168.59,155.39 L171.97,156.54Z" fill="#eff8fc" stroke="#eff8fc" stroke-width="0.4"/>
<path d="M170.03,152.71 L166.82,151.12 L165.49,154.34 L168.87,155.49Z" fill="#eff8fc" stroke="#eff8fc" stroke-width="0.4"/>
<path d="M167.09,151.26 L163.88,149.68 L162.39,153.29 L165.77,154.44Z" fill="#eff8fc" stroke="#eff8fc" stroke-width="0.4"/>
<path d="M164.15,149.81 L160.95,148.23 L159.29,152.24 L162.67,153.39Z" fill="#eef8fc" stroke="#eef8fc" stroke-width="0.4"/>
<path d="M161.22,148.36 L158.01,146.78 L156.18,151.18 L159.57,152.33Z" fill="#eef8fc" stroke="#eef8fc" stroke-width="0.4"/>
<path d="M158.28,146.91 L155.07,145.33 L153.08,150.13 L156.47,151.28Z" fill="#eef7fc" stroke="#eef7fc" stroke-width="0.4"/>
<path d="M155.34,145.46 L152.13,143.88 L149.98,149.08 L153.37,150.23Z" fill="#edf7fb" stroke="#edf7fb" stroke-width="0.4"/>
<path d="M152.40,144.01 L149.20,142.43 L146.88,148.03 L150.27,149.17Z" fill="#edf7fb" stroke="#edf7fb" stroke-width="0.4"/>
<path d="M149.47,142.57 L146.26,140.98 L143.78,146.97 L147.16,148.12Z" fill="#edf7fb" stroke="#edf7fb" stroke-width="0.4"/>
<path d="M146.53,141.12 L143.32,139.54 L140.68,145.92 L144.06,147.07Z" fill="#ecf7fb" stroke="#ecf7fb" stroke-width="0.4"/>
<path d="M143.59,139.67 L140.39,138.09 L137.58,144.87 L140.96,146.02Z" fill="#ecf7fb" stroke="#ecf7fb" stroke-width="0.4"/>
<path d="M140.65,138.22 L137.45,136.64 L134.48,143.81 L137.86,144.96Z" fill="#ecf7fb" stroke="#ecf7fb" stroke-width="0.4"/>
<path d="M137.72,136.77 L134.51,135.19 L131.37,142.76 L134.76,143.91Z" fill="#ebf6fb" stroke="#ebf6fb" stroke-width="0.4"/>
<path d="M134.78,135.32 L131.57,133.74 L128.27,141.71 L131.66,142.86Z" fill="#ebf6fb" stroke="#ebf6fb" stroke-width="0.4"/>
<path d="M131.84,133.87 L128.64,132.29 L125.17,140.66 L128.56,141.81Z" fill="#ebf6fb" stroke="#ebf6fb" stroke-width="0.4"/>
<path d="M128.91,132.43 L125.70,130.85 L122.07,139.60 L125.46,140.75Z" fill="#ebf6fb" stroke="#ebf6fb" stroke-width="0.4"/>
<path d="M125.97,130.98 L122.76,129.40 L118.97,138.55 L122.36,139.70Z" fill="#eaf6fb" stroke="#eaf6fb" stroke-width="0.4"/>
<path d="M123.03,129.53 L119.82,127.95 L115.87,137.50 L119.25,138.65Z" fill="#eaf6fb" stroke="#eaf6fb" stroke-width="0.4"/>
<path d="M120.09,128.08 L116.89,126.50 L112.77,136.45 L116.15,137.59Z" fill="#eaf6fb" stroke="#eaf6fb" stroke-width="0.4"/>
<path d="M175.08,157.60 L171.69,156.45 L171.01,158.98 L174.52,159.68Z" fill="#eaf6fb" stroke="#eaf6fb" stroke-width="0.4"/>
<path d="M171.97,156.54 L168.59,155.39 L167.80,158.34 L171.30,159.04Z" fill="#e9f5fa" stroke="#e9f5fa" stroke-width="0.4"/>
<path d="M168.87,155.49 L165.49,154.34 L164.59,157.71 L168.09,158.40Z" fill="#e8f5fa" stroke="#e8f5fa" stroke-width="0.4"/>
<path d="M165.77,154.44 L162.39,153.29 L161.37,157.07 L164.88,157.76Z" fill="#e7f5fa" stroke="#e7f5fa" stroke-width="0.4"/>
<path d="M162.67,153.39 L159.29,152.24 L158.16,156.43 L161.67,157.13Z" fill="#e7f5fa" stroke="#e7f5fa" stroke-width="0.4"/>
<path d="M159.57,152.33 L156.18,151.18 L154.95,155.79 L158.46,156.49Z" fill="#e6f4fa" stroke="#e6f4fa" stroke-width="0.4"/>
<path d="M156.47,151.28 L153.08,150.13 L151.74,155.15 L155.24,155.85Z" fill="#e5f4fa" stroke="#e5f4fa" stroke-width="0.4"/>
<path d="M153.37,150.23 L149.98,149.08 L148.53,154.51 L152.03,155.21Z" fill="#e4f4f9" stroke="#e4f4f9" stroke-width="0.4"/>
<path d="M150.27,149.17 L146.88,148.03 L145.31,153.87 L148.82,154.57Z" fill="#e4f3f9" stroke="#e4f3f9" stroke-width="0.4"/>
<path d="M147.16,148.12 L143.78,146.97 L142.10,153.23 L145.61,153.93Z" fill="#e3f3f9" stroke="#e3f3f9" stroke-width="0.4"/>
<path d="M144.06,147.07 L140.68,145.92 L138.89,152.59 L142.40,153.29Z" fill="#e2f3f9" stroke="#e2f3f9" stroke-width="0.4"/>
<path d="M140.96,146.02 L137.58,144.87 L135.68,151.96 L139.18,152.65Z" fill="#e1f2f9" stroke="#e1f2f9" stroke-width="0.4"/>
<path d="M137.86,144.96 L134.48,143.81 L132.47,151.32 L135.97,152.01Z" fill="#e0f2f9" stroke="#e0f2f9" stroke-width="0.4"/>
<path d="M134.76,143.91 L131.37,142.76 L129.25,150.68 L132.76,151.38Z" fill="#e0f2f8" stroke="#e0f2f8" stroke-width="0.4"/>
<path d="M131.66,142.86 L128.27,141.71 L126.04,150.04 L129.55,150.74Z" fill="#dff1f8" stroke="#dff1f8" stroke-width="0.4"/>
<path d="M128.56,141.81 L125.17,140.66 L122.83,149.40 L126.34,150.10Z" fill="#def1f8" stroke="#def1f8" stroke-width="0.4"/>
<path d="M125.46,140.75 L122.07,139.60 L119.62,148.76 L123.12,149.46Z" fill="#ddf1f8" stroke="#ddf1f8" stroke-width="0.4"/>
<path d="M122.36,139.70 L118.97,138.55 L116.41,148.12 L119.91,148.82Z" fill="#ddf1f8" stroke="#ddf1f8" stroke-width="0.4"/>
<path d="M119.25,138.65 L115.87,137.50 L113.19,147.48 L116.70,148.18Z" fill="#dcf0f8" stroke="#dcf0f8" stroke-width="0.4"/>
<path d="M116.15,137.59 L112.77,136.45 L109.98,146.84 L113.49,147.54Z" fill="#dbf0f7" stroke="#dbf0f7" stroke-width="0.4"/>
<path d="M174.52,159.68 L171.01,158.98 L170.67,161.59 L174.24,161.82Z" fill="#dff2f8" stroke="#dff2f8" stroke-width="0.4"/>
<path d="M171.30,159.04 L167.80,158.34 L167.40,161.37 L170.97,161.61Z" fill="#def1f8" stroke="#def1f8" stroke-width="0.4"/>
<path d="M168.09,158.40 L164.59,157.71 L164.13,161.16 L167.70,161.39Z" fill="#dcf0f8" stroke="#dcf0f8" stroke-width="0.4"/>
<path d="M164.88,157.76 L161.37,157.07 L160.86,160.94 L164.43,161.18Z" fill="#dbf0f7" stroke="#dbf0f7" stroke-width="0.4"/>
<path d="M161.67,157.13 L158.16,156.43 L157.60,160.73 L161.16,160.96Z" fill="#daeff7" stroke="#daeff7" stroke-width="0.4"/>
<path d="M158.46,156.49 L154.95,155.79 L154.33,160.52 L157.90,160.75Z" fill="#d8eff7" stroke="#d8eff7" stroke-width="0.4"/>
<path d="M155.24,155.85 L151.74,155.15 L151.06,160.30 L154.63,160.54Z" fill="#d7eff7" stroke="#d7eff7" stroke-width="0.4"/>
<path d="M152.03,155.21 L148.53,154.51 L147.79,160.09 L151.36,160.32Z" fill="#d6eef6" stroke="#d6eef6" stroke-width="0.4"/>
<path d="M148.82,154.57 L145.31,153.87 L144.52,159.87 L148.09,160.11Z" fill="#d4eef6" stroke="#d4eef6" stroke-width="0.4"/>
<path d="M145.61,153.93 L142.10,153.23 L141.26,159.66 L144.82,159.89Z" fill="#d3edf6" stroke="#d3edf6" stroke-width="0.4"/>
<path d="M142.40,153.29 L138.89,152.59 L137.99,159.45 L141.56,159.68Z" fill="#d1edf5" stroke="#d1edf5" stroke-width="0.4"/>
<path d="M139.18,152.65 L135.68,151.96 L134.72,159.23 L138.29,159.46Z" fill="#d0ecf5" stroke="#d0ecf5" stroke-width="0.4"/>
<path d="M135.97,152.01 L132.47,151.32 L131.45,159.02 L135.02,159.25Z" fill="#ceecf5" stroke="#ceecf5" stroke-width="0.4"/>
<path d="M132.76,151.38 L129.25,150.68 L128.18,158.80 L131.75,159.04Z" fill="#cdebf5" stroke="#cdebf5" stroke-width="0.4"/>
<path d="M129.55,150.74 L126.04,150.04 L124.92,158.59 L128.48,158.82Z" fill="#ccebf4" stroke="#ccebf4" stroke-width="0.4"/>
<path d="M126.34,150.10 L122.83,149.40 L121.65,158.37 L125.22,158.61Z" fill="#caeaf4" stroke="#caeaf4" stroke-width="0.4"/>
<path d="M123.12,149.46 L119.62,148.76 L118.38,158.16 L121.95,158.39Z" fill="#c9eaf4" stroke="#c9eaf4" stroke-width="0.4"/>
<path d="M119.91,148.82 L116.41,148.12 L115.11,157.95 L118.68,158.18Z" fill="#c7e9f4" stroke="#c7e9f4" stroke-width="0.4"/>
<path d="M116.70,148.18 L113.19,147.48 L111.84,157.73 L115.41,157.97Z" fill="#c6e9f3" stroke="#c6e9f3" stroke-width="0.4"/>
<path d="M113.49,147.54 L109.98,146.84 L108.58,157.52 L112.14,157.75Z" fill="#c4e8f3" stroke="#c4e8f3" stroke-width="0.4"/>
<path d="M174.24,161.82 L170.67,161.59 L170.67,164.21 L174.24,163.98Z" fill="#236dde" stroke="#236dde" stroke-width="0.4"/>
<path d="M170.97,161.61 L167.40,161.37 L167.40,164.43 L170.97,164.19Z" fill="#236dde" stroke="#236dde" stroke-width="0.4"/>
<path d="M167.70,161.39 L164.13,161.16 L164.13,164.64 L167.70,164.41Z" fill="#2876e0" stroke="#2876e0" stroke-width="0.4"/>
<path d="M164.43,161.18 L160.86,160.94 L160.86,164.86 L164.43,164.62Z" fill="#2876e0" stroke="#2876e0" stroke-width="0.4"/>
<path d="M161.16,160.96 L157.60,160.73 L157.60,165.07 L161.16,164.84Z" fill="#2876e0" stroke="#2876e0" stroke-width="0.4"/>
<path d="M157.90,160.75 L154.33,160.52 L154.33,165.28 L157.90,165.05Z" fill="#2876e0" stroke="#2876e0" stroke-width="0.4"/>
<path d="M154.63,160.54 L151.06,160.30 L151.06,165.50 L154.63,165.26Z" fill="#2c7de1" stroke="#2c7de1" stroke-width="0.4"/>
<path d="M151.36,160.32 L147.79,160.09 L147.79,165.71 L151.36,165.48Z" fill="#2c7de1" stroke="#2c7de1" stroke-width="0.4"/>
<path d="M148.09,160.11 L144.52,159.87 L144.52,165.93 L148.09,165.69Z" fill="#1a5ada" stroke="#1a5ada" stroke-width="0.4"/>
<path d="M144.82,159.89 L141.26,159.66 L141.26,166.14 L144.82,165.91Z" fill="#47abe8" stroke="#47abe8" stroke-width="0.4"/>
<path d="M141.56,159.68 L137.99,159.45 L137.99,166.35 L141.56,166.12Z" fill="#43a5e8" stroke="#43a5e8" stroke-width="0.4"/>
<path d="M138.29,159.46 L134.72,159.23 L134.72,166.57 L138.29,166.34Z" fill="#47abe8" stroke="#47abe8" stroke-width="0.4"/>
<path d="M135.02,159.25 L131.45,159.02 L131.45,166.78 L135.02,166.55Z" fill="#47abe8" stroke="#47abe8" stroke-width="0.4"/>
<path d="M131.75,159.04 L128.18,158.80 L128.18,167.00 L131.75,166.76Z" fill="#338ae4" stroke="#338ae4" stroke-width="0.4"/>
<path d="M128.48,158.82 L124.92,158.59 L124.92,167.21 L128.48,166.98Z" fill="#338ae4" stroke="#338ae4" stroke-width="0.4"/>
<path d="M125.22,158.61 L121.65,158.37 L121.65,167.43 L125.22,167.19Z" fill="#338ae4" stroke="#338ae4" stroke-width="0.4"/>
<path d="M121.95,158.39 L118.38,158.16 L118.38,167.64 L121.95,167.41Z" fill="#1a5ada" stroke="#1a5ada" stroke-width="0.4"/>
<path d="M118.68,158.18 L115.11,157.95 L115.11,167.85 L118.68,167.62Z" fill="#50b8ea" stroke="#50b8ea" stroke-width="0.4"/>
<path d="M115.41,157.97 L111.84,157.73 L111.84,168.07 L115.41,167.83Z" fill="#56bcea" stroke="#56bcea" stroke-width="0.4"/>
<path d="M112.14,157.75 L108.58,157.52 L108.58,168.28 L112.14,168.05Z" fill="#5cc1eb" stroke="#5cc1eb" stroke-width="0.4"/>
<path d="M174.24,163.98 L170.67,164.21 L171.01,166.82 L174.52,166.12Z" fill="#cdebf5" stroke="#cdebf5" stroke-width="0.4"/>
<path d="M170.97,164.19 L167.40,164.43 L167.80,167.46 L171.30,166.76Z" fill="#caeaf4" stroke="#caeaf4" stroke-width="0.4"/>
<path d="M167.70,164.41 L164.13,164.64 L164.59,168.09 L168.09,167.40Z" fill="#c7e9f4" stroke="#c7e9f4" stroke-width="0.4"/>
<path d="M164.43,164.62 L160.86,164.86 L161.37,168.73 L164.88,168.04Z" fill="#c4e8f3" stroke="#c4e8f3" stroke-width="0.4"/>
<path d="M161.16,164.84 L157.60,165.07 L158.16,169.37 L161.67,168.67Z" fill="#c1e7f3" stroke="#c1e7f3" stroke-width="0.4"/>
<path d="M157.90,165.05 L154.33,165.28 L154.95,170.01 L158.46,169.31Z" fill="#bde7f2" stroke="#bde7f2" stroke-width="0.4"/>
<path d="M154.63,165.26 L151.06,165.50 L151.74,170.65 L155.24,169.95Z" fill="#bae6f2" stroke="#bae6f2" stroke-width="0.4"/>
<path d="M151.36,165.48 L147.79,165.71 L148.53,171.29 L152.03,170.59Z" fill="#b7e5f1" stroke="#b7e5f1" stroke-width="0.4"/>
<path d="M148.09,165.69 L144.52,165.93 L145.31,171.93 L148.82,171.23Z" fill="#b4e4f1" stroke="#b4e4f1" stroke-width="0.4"/>
<path d="M144.82,165.91 L141.26,166.14 L142.10,172.57 L145.61,171.87Z" fill="#b1e3f1" stroke="#b1e3f1" stroke-width="0.4"/>
<path d="M141.56,166.12 L137.99,166.35 L138.89,173.21 L142.40,172.51Z" fill="#aee2f0" stroke="#aee2f0" stroke-width="0.4"/>
<path d="M138.29,166.34 L134.72,166.57 L135.68,173.84 L139.18,173.15Z" fill="#abe2f0" stroke="#abe2f0" stroke-width="0.4"/>
<path d="M135.02,166.55 L131.45,166.78 L132.47,174.48 L135.97,173.79Z" fill="#a8e1ef" stroke="#a8e1ef" stroke-width="0.4"/>
<path d="M131.75,166.76 L128.18,167.00 L129.25,175.12 L132.76,174.42Z" fill="#a5e0ef" stroke="#a5e0ef" stroke-width="0.4"/>
<path d="M128.48,166.98 L124.92,167.21 L126.04,175.76 L129.55,175.06Z" fill="#a2dfef" stroke="#a2dfef" stroke-width="0.4"/>
<path d="M125.22,167.19 L121.65,167.43 L122.83,176.40 L126.34,175.70Z" fill="#9fdeee" stroke="#9fdeee" stroke-width="0.4"/>
<path d="M121.95,167.41 L118.38,167.64 L119.62,177.04 L123.12,176.34Z" fill="#9bddee" stroke="#9bddee" stroke-width="0.4"/>
<path d="M118.68,167.62 L115.11,167.85 L116.41,177.68 L119.91,176.98Z" fill="#98dcee" stroke="#98dcee" stroke-width="0.4"/>
<path d="M115.41,167.83 L111.84,168.07 L113.19,178.32 L116.70,177.62Z" fill="#95dbee" stroke="#95dbee" stroke-width="0.4"/>
<path d="M112.14,168.05 L108.58,168.28 L109.98,178.96 L113.49,178.26Z" fill="#91daed" stroke="#91daed" stroke-width="0.4"/>
<path d="M174.52,166.12 L171.01,166.82 L171.69,169.35 L175.08,168.20Z" fill="#dff2f8" stroke="#dff2f8" stroke-width="0.4"/>
<path d="M171.30,166.76 L167.80,167.46 L168.59,170.41 L171.97,169.26Z" fill="#def1f8" stroke="#def1f8" stroke-width="0.4"/>
<path d="M168.09,167.40 L164.59,168.09 L165.49,171.46 L168.87,170.31Z" fill="#dcf0f8" stroke="#dcf0f8" stroke-width="0.4"/>
<path d="M164.88,168.04 L161.37,168.73 L162.39,172.51 L165.77,171.36Z" fill="#dbf0f7" stroke="#dbf0f7" stroke-width="0.4"/>
<path d="M161.67,168.67 L158.16,169.37 L159.29,173.56 L162.67,172.41Z" fill="#daeff7" stroke="#daeff7" stroke-width="0.4"/>
<path d="M158.46,169.31 L154.95,170.01 L156.18,174.62 L159.57,173.47Z" fill="#d8eff7" stroke="#d8eff7" stroke-width="0.4"/>
<path d="M155.24,169.95 L151.74,170.65 L153.08,175.67 L156.47,174.52Z" fill="#d7eff7" stroke="#d7eff7" stroke-width="0.4"/>
<path d="M152.03,170.59 L148.53,171.29 L149.98,176.72 L153.37,175.57Z" fill="#d6eef6" stroke="#d6eef6" stroke-width="0.4"/>
<path d="M148.82,171.23 L145.31,171.93 L146.88,177.77 L150.27,176.63Z" fill="#d4eef6" stroke="#d4eef6" stroke-width="0.4"/>
<path d="M145.61,171.87 L142.10,172.57 L143.78,178.83 L147.16,177.68Z" fill="#d3edf6" stroke="#d3edf6" stroke-width="0.4"/>
<path d="M142.40,172.51 L138.89,173.21 L140.68,179.88 L144.06,178.73Z" fill="#d1edf5" stroke="#d1edf5" stroke-width="0.4"/>
<path d="M139.18,173.15 L135.68,173.84 L137.58,180.93 L140.96,179.78Z" fill="#d0ecf5" stroke="#d0ecf5" stroke-width="0.4"/>
<path d="M135.97,173.79 L132.47,174.48 L134.48,181.99 L137.86,180.84Z" fill="#ceecf5" stroke="#ceecf5" stroke-width="0.4"/>
<path d="M132.76,174.42 L129.25,175.12 L131.37,183.04 L134.76,181.89Z" fill="#cdebf5" stroke="#cdebf5" stroke-width="0.4"/>
<path d="M129.55,175.06 L126.04,175.76 L128.27,184.09 L131.66,182.94Z" fill="#ccebf4" stroke="#ccebf4" stroke-width="0.4"/>
<path d="M126.34,175.70 L122.83,176.40 L125.17,185.14 L128.56,183.99Z" fill="#caeaf4" stroke="#caeaf4" stroke-width="0.4"/>
<path d="M123.12,176.34 L119.62,177.04 L122.07,186.20 L125.46,185.05Z" fill="#c9eaf4" stroke="#c9eaf4" stroke-width="0.4"/>
<path d="M119.91,176.98 L116.41,177.68 L118.97,187.25 L122.36,186.10Z" fill="#c7e9f4" stroke="#c7e9f4" stroke-width="0.4"/>
<path d="M116.70,177.62 L113.19,178.32 L115.87,188.30 L119.25,187.15Z" fill="#c6e9f3" stroke="#c6e9f3" stroke-width="0.4"/>
<path d="M113.49,178.26 L109.98,178.96 L112.77,189.35 L116.15,188.21Z" fill="#c4e8f3" stroke="#c4e8f3" stroke-width="0.4"/>
<path d="M175.08,168.20 L171.69,169.35 L172.70,171.78 L175.90,170.20Z" fill="#eff8fc" stroke="#eff8fc" stroke-width="0.4"/>
<path d="M171.97,169.26 L168.59,170.41 L169.76,173.23 L172.96,171.65Z" fill="#eff8fc" stroke="#eff8fc" stroke-width="0.4"/>
<path d="M168.87,170.31 L165.49,171.46 L166.82,174.68 L170.03,173.09Z" fill="#eff8fc" stroke="#eff8fc" stroke-width="0.4"/>
<path d="M165.77,171.36 L162.39,172.51 L163.88,176.12 L167.09,174.54Z" fill="#eff8fc" stroke="#eff8fc" stroke-width="0.4"/>
<path d="M162.67,172.41 L159.29,173.56 L160.95,177.57 L164.15,175.99Z" fill="#eef8fc" stroke="#eef8fc" stroke-width="0.4"/>
<path d="M159.57,173.47 L156.18,174.62 L158.01,179.02 L161.22,177.44Z" fill="#eef8fc" stroke="#eef8fc" stroke-width="0.4"/>
<path d="M156.47,174.52 L153.08,175.67 L155.07,180.47 L158.28,178.89Z" fill="#eef7fc" stroke="#eef7fc" stroke-width="0.4"/>
<path d="M153.37,175.57 L149.98,176.72 L152.13,181.92 L155.34,180.34Z" fill="#edf7fb" stroke="#edf7fb" stroke-width="0.4"/>
<path d="M150.27,176.63 L146.88,177.77 L149.20,183.37 L152.40,181.79Z" fill="#edf7fb" stroke="#edf7fb" stroke-width="0.4"/>
<path d="M147.16,177.68 L143.78,178.83 L146.26,184.82 L149.47,183.23Z" fill="#edf7fb" stroke="#edf7fb" stroke-width="0.4"/>
<path d="M144.06,178.73 L140.68,179.88 L143.32,186.26 L146.53,184.68Z" fill="#ecf7fb" stroke="#ecf7fb" stroke-width="0.4"/>
<path d="M140.96,179.78 L137.58,180.93 L140.39,187.71 L143.59,186.13Z" fill="#ecf7fb" stroke="#ecf7fb" stroke-width="0.4"/>
<path d="M137.86,180.84 L134.48,181.99 L137.45,189.16 L140.65,187.58Z" fill="#ecf7fb" stroke="#ecf7fb" stroke-width="0.4"/>
<path d="M134.76,181.89 L131.37,183.04 L134.51,190.61 L137.72,189.03Z" fill="#ebf6fb" stroke="#ebf6fb" stroke-width="0.4"/>
<path d="M131.66,182.94 L128.27,184.09 L131.57,192.06 L134.78,190.48Z" fill="#ebf6fb" stroke="#ebf6fb" stroke-width="0.4"/>
<path d="M128.56,183.99 L125.17,185.14 L128.64,193.51 L131.84,191.93Z" fill="#ebf6fb" stroke="#ebf6fb" stroke-width="0.4"/>
<path d="M125.46,185.05 L122.07,186.20 L125.70,194.95 L128.91,193.37Z" fill="#ebf6fb" stroke="#ebf6fb" stroke-width="0.4"/>
<path d="M122.36,186.10 L118.97,187.25 L122.76,196.40 L125.97,194.82Z" fill="#eaf6fb" stroke="#eaf6fb" stroke-width="0.4"/>
<path d="M119.25,187.15 L115.87,188.30 L119.82,197.85 L123.03,196.27Z" fill="#eaf6fb" stroke="#eaf6fb" stroke-width="0.4"/>
<path d="M116.15,188.21 L112.77,189.35 L116.89,199.30 L120.09,197.72Z" fill="#eaf6fb" stroke="#eaf6fb" stroke-width="0.4"/>
<path d="M175.90,170.20 L172.70,171.78 L174.01,174.05 L176.98,172.07Z" fill="#f2f9fd" stroke="#f2f9fd" stroke-width="0.4"/>
<path d="M172.96,171.65 L169.76,173.23 L171.29,175.87 L174.26,173.89Z" fill="#f2f9fd" stroke="#f2f9fd" stroke-width="0.4"/>
<path d="M170.03,173.09 L166.82,174.68 L168.56,177.69 L171.53,175.71Z" fill="#f2f9fd" stroke="#f2f9fd" stroke-width="0.4"/>
<path d="M167.09,174.54 L163.88,176.12 L165.84,179.51 L168.81,177.53Z" fill="#f2f9fd" stroke="#f2f9fd" stroke-width="0.4"/>
<path d="M164.15,175.99 L160.95,177.57 L163.12,181.33 L166.09,179.34Z" fill="#f2f9fc" stroke="#f2f9fc" stroke-width="0.4"/>
<path d="M161.22,177.44 L158.01,179.02 L160.39,183.15 L163.37,181.16Z" fill="#f2f9fc" stroke="#f2f9fc" stroke-width="0.4"/>
<path d="M158.28,178.89 L155.07,180.47 L157.67,184.97 L160.64,182.98Z" fill="#f1f9fc" stroke="#f1f9fc" stroke-width="0.4"/>
<path d="M155.34,180.34 L152.13,181.92 L154.95,186.79 L157.92,184.80Z" fill="#f1f9fc" stroke="#f1f9fc" stroke-width="0.4"/>
<path d="M152.40,181.79 L149.20,183.37 L152.22,188.61 L155.20,186.62Z" fill="#f1f9fc" stroke="#f1f9fc" stroke-width="0.4"/>
<path d="M149.47,183.23 L146.26,184.82 L149.50,190.43 L152.47,188.44Z" fill="#f1f9fc" stroke="#f1f9fc" stroke-width="0.4"/>
<path d="M146.53,184.68 L143.32,186.26 L146.78,192.25 L149.75,190.26Z" fill="#f1f9fc" stroke="#f1f9fc" stroke-width="0.4"/>
<path d="M143.59,186.13 L140.39,187.71 L144.05,194.07 L147.03,192.08Z" fill="#f1f9fc" stroke="#f1f9fc" stroke-width="0.4"/>
<path d="M140.65,187.58 L137.45,189.16 L141.33,195.89 L144.30,193.90Z" fill="#f1f9fc" stroke="#f1f9fc" stroke-width="0.4"/>
<path d="M137.72,189.03 L134.51,190.61 L138.61,197.71 L141.58,195.72Z" fill="#f1f9fc" stroke="#f1f9fc" stroke-width="0.4"/>
<path d="M134.78,190.48 L131.57,192.06 L135.89,199.53 L138.86,197.54Z" fill="#f0f9fc" stroke="#f0f9fc" stroke-width="0.4"/>
<path d="M131.84,191.93 L128.64,193.51 L133.16,201.35 L136.13,199.36Z" fill="#f0f8fc" stroke="#f0f8fc" stroke-width="0.4"/>
<path d="M128.91,193.37 L125.70,194.95 L130.44,203.16 L133.41,201.18Z" fill="#f0f8fc" stroke="#f0f8fc" stroke-width="0.4"/>
<path d="M125.97,194.82 L122.76,196.40 L127.72,204.98 L130.69,203.00Z" fill="#f0f8fc" stroke="#f0f8fc" stroke-width="0.4"/>
<path d="M123.03,196.27 L119.82,197.85 L124.99,206.80 L127.97,204.82Z" fill="#f0f8fc" stroke="#f0f8fc" stroke-width="0.4"/>
<path d="M120.09,197.72 L116.89,199.30 L122.27,208.62 L125.24,206.64Z" fill="#f0f8fc" stroke="#f0f8fc" stroke-width="0.4"/>
<path d="M176.98,172.07 L174.01,174.05 L175.61,176.14 L178.29,173.78Z" fill="#f2f9fd" stroke="#f2f9fd" stroke-width="0.4"/>
<path d="M174.26,173.89 L171.29,175.87 L173.14,178.30 L175.83,175.94Z" fill="#f2f9fd" stroke="#f2f9fd" stroke-width="0.4"/>
<path d="M171.53,175.71 L168.56,177.69 L170.68,180.46 L173.37,178.10Z" fill="#f2f9fd" stroke="#f2f9fd" stroke-width="0.4"/>
<path d="M168.81,177.53 L165.84,179.51 L168.22,182.61 L170.91,180.26Z" fill="#f2f9fd" stroke="#f2f9fd" stroke-width="0.4"/>
<path d="M166.09,179.34 L163.12,181.33 L165.76,184.77 L168.45,182.42Z" fill="#f2f9fc" stroke="#f2f9fc" stroke-width="0.4"/>
<path d="M163.37,181.16 L160.39,183.15 L163.30,186.93 L165.98,184.58Z" fill="#f2f9fc" stroke="#f2f9fc" stroke-width="0.4"/>
<path d="M160.64,182.98 L157.67,184.97 L160.83,189.09 L163.52,186.74Z" fill="#f1f9fc" stroke="#f1f9fc" stroke-width="0.4"/>
<path d="M157.92,184.80 L154.95,186.79 L158.37,191.25 L161.06,188.89Z" fill="#f1f9fc" stroke="#f1f9fc" stroke-width="0.4"/>
<path d="M155.20,186.62 L152.22,188.61 L155.91,193.41 L158.60,191.05Z" fill="#f1f9fc" stroke="#f1f9fc" stroke-width="0.4"/>
<path d="M152.47,188.44 L149.50,190.43 L153.45,195.57 L156.13,193.21Z" fill="#f1f9fc" stroke="#f1f9fc" stroke-width="0.4"/>
<path d="M149.75,190.26 L146.78,192.25 L150.98,197.73 L153.67,195.37Z" fill="#f1f9fc" stroke="#f1f9fc" stroke-width="0.4"/>
<path d="M147.03,192.08 L144.05,194.07 L148.52,199.89 L151.21,197.53Z" fill="#f1f9fc" stroke="#f1f9fc" stroke-width="0.4"/>
<path d="M144.30,193.90 L141.33,195.89 L146.06,202.05 L148.75,199.69Z" fill="#f1f9fc" stroke="#f1f9fc" stroke-width="0.4"/>
<path d="M141.58,195.72 L138.61,197.71 L143.60,204.21 L146.29,201.85Z" fill="#f1f9fc" stroke="#f1f9fc" stroke-width="0.4"/>
<path d="M138.86,197.54 L135.89,199.53 L141.13,206.37 L143.82,204.01Z" fill="#f0f9fc" stroke="#f0f9fc" stroke-width="0.4"/>
<path d="M136.13,199.36 L133.16,201.35 L138.67,208.53 L141.36,206.17Z" fill="#f0f8fc" stroke="#f0f8fc" stroke-width="0.4"/>
<path d="M133.41,201.18 L130.44,203.16 L136.21,210.69 L138.90,208.33Z" fill="#f0f8fc" stroke="#f0f8fc" stroke-width="0.4"/>
<path d="M130.69,203.00 L127.72,204.98 L133.75,212.85 L136.44,210.49Z" fill="#f0f8fc" stroke="#f0f8fc" stroke-width="0.4"/>
<path d="M127.97,204.82 L124.99,206.80 L131.29,215.00 L133.97,212.65Z" fill="#f0f8fc" stroke="#f0f8fc" stroke-width="0.4"/>
<path d="M125.24,206.64 L122.27,208.62 L128.82,217.16 L131.51,214.81Z" fill="#f0f8fc" stroke="#f0f8fc" stroke-width="0.4"/>
<path d="M178.29,173.78 L175.61,176.14 L177.46,177.99 L179.82,175.31Z" fill="#f2f9fd" stroke="#f2f9fd" stroke-width="0.4"/>
<path d="M175.83,175.94 L173.14,178.30 L175.30,180.46 L177.66,177.77Z" fill="#f2f9fd" stroke="#f2f9fd" stroke-width="0.4"/>
<path d="M173.37,178.10 L170.68,180.46 L173.14,182.92 L175.50,180.23Z" fill="#f2f9fd" stroke="#f2f9fd" stroke-width="0.4"/>
<path d="M170.91,180.26 L168.22,182.61 L170.99,185.38 L173.34,182.69Z" fill="#f2f9fd" stroke="#f2f9fd" stroke-width="0.4"/>
<path d="M168.45,182.42 L165.76,184.77 L168.83,187.84 L171.18,185.15Z" fill="#f2f9fc" stroke="#f2f9fc" stroke-width="0.4"/>
<path d="M165.98,184.58 L163.30,186.93 L166.67,190.30 L169.02,187.62Z" fill="#f2f9fc" stroke="#f2f9fc" stroke-width="0.4"/>
<path d="M163.52,186.74 L160.83,189.09 L164.51,192.77 L166.86,190.08Z" fill="#f1f9fc" stroke="#f1f9fc" stroke-width="0.4"/>
<path d="M161.06,188.89 L158.37,191.25 L162.35,195.23 L164.71,192.54Z" fill="#f1f9fc" stroke="#f1f9fc" stroke-width="0.4"/>
<path d="M158.60,191.05 L155.91,193.41 L160.19,197.69 L162.55,195.00Z" fill="#f1f9fc" stroke="#f1f9fc" stroke-width="0.4"/>
<path d="M156.13,193.21 L153.45,195.57 L158.03,200.15 L160.39,197.47Z" fill="#f1f9fc" stroke="#f1f9fc" stroke-width="0.4"/>
<path d="M153.67,195.37 L150.98,197.73 L155.87,202.62 L158.23,199.93Z" fill="#f1f9fc" stroke="#f1f9fc" stroke-width="0.4"/>
<path d="M151.21,197.53 L148.52,199.89 L153.71,205.08 L156.07,202.39Z" fill="#f1f9fc" stroke="#f1f9fc" stroke-width="0.4"/>
<path d="M148.75,199.69 L146.06,202.05 L151.55,207.54 L153.91,204.85Z" fill="#f1f9fc" stroke="#f1f9fc" stroke-width="0.4"/>
<path d="M146.29,201.85 L143.60,204.21 L149.39,210.00 L151.75,207.31Z" fill="#f1f9fc" stroke="#f1f9fc" stroke-width="0.4"/>
<path d="M143.82,204.01 L141.13,206.37 L147.23,212.47 L149.59,209.78Z" fill="#f0f9fc" stroke="#f0f9fc" stroke-width="0.4"/>
<path d="M141.36,206.17 L138.67,208.53 L145.07,214.93 L147.43,212.24Z" fill="#f0f8fc" stroke="#f0f8fc" stroke-width="0.4"/>
<path d="M138.90,208.33 L136.21,210.69 L142.91,217.39 L145.27,214.70Z" fill="#f0f8fc" stroke="#f0f8fc" stroke-width="0.4"/>
<path d="M136.44,210.49 L133.75,212.85 L140.75,219.85 L143.11,217.16Z" fill="#f0f8fc" stroke="#f0f8fc" stroke-width="0.4"/>
<path d="M133.97,212.65 L131.29,215.00 L138.60,222.31 L140.95,219.63Z" fill="#f0f8fc" stroke="#f0f8fc" stroke-width="0.4"/>
<path d="M131.51,214.81 L128.82,217.16 L136.44,224.78 L138.79,222.09Z" fill="#f0f8fc" stroke="#f0f8fc" stroke-width="0.4"/>
<path d="M179.82,175.31 L177.46,177.99 L179.55,179.59 L181.53,176.62Z" fill="#f2f9fd" stroke="#f2f9fd" stroke-width="0.4"/>
<path d="M177.66,177.77 L175.30,180.46 L177.73,182.31 L179.71,179.34Z" fill="#f2f9fd" stroke="#f2f9fd" stroke-width="0.4"/>
<path d="M175.50,180.23 L173.14,182.92 L175.91,185.04 L177.89,182.07Z" fill="#f2f9fd" stroke="#f2f9fd" stroke-width="0.4"/>
<path d="M173.34,182.69 L170.99,185.38 L174.09,187.76 L176.07,184.79Z" fill="#f2f9fd" stroke="#f2f9fd" stroke-width="0.4"/>
<path d="M171.18,185.15 L168.83,187.84 L172.27,190.48 L174.26,187.51Z" fill="#f2f9fc" stroke="#f2f9fc" stroke-width="0.4"/>
<path d="M169.02,187.62 L166.67,190.30 L170.45,193.21 L172.44,190.23Z" fill="#f2f9fc" stroke="#f2f9fc" stroke-width="0.4"/>
<path d="M166.86,190.08 L164.51,192.77 L168.63,195.93 L170.62,192.96Z" fill="#f1f9fc" stroke="#f1f9fc" stroke-width="0.4"/>
<path d="M164.71,192.54 L162.35,195.23 L166.81,198.65 L168.80,195.68Z" fill="#f1f9fc" stroke="#f1f9fc" stroke-width="0.4"/>
<path d="M162.55,195.00 L160.19,197.69 L164.99,201.38 L166.98,198.40Z" fill="#f1f9fc" stroke="#f1f9fc" stroke-width="0.4"/>
<path d="M160.39,197.47 L158.03,200.15 L163.17,204.10 L165.16,201.13Z" fill="#f1f9fc" stroke="#f1f9fc" stroke-width="0.4"/>
<path d="M158.23,199.93 L155.87,202.62 L161.35,206.82 L163.34,203.85Z" fill="#f1f9fc" stroke="#f1f9fc" stroke-width="0.4"/>
<path d="M156.07,202.39 L153.71,205.08 L159.53,209.55 L161.52,206.57Z" fill="#f1f9fc" stroke="#f1f9fc" stroke-width="0.4"/>
<path d="M153.91,204.85 L151.55,207.54 L157.71,212.27 L159.70,209.30Z" fill="#f1f9fc" stroke="#f1f9fc" stroke-width="0.4"/>
<path d="M151.75,207.31 L149.39,210.00 L155.89,214.99 L157.88,212.02Z" fill="#f1f9fc" stroke="#f1f9fc" stroke-width="0.4"/>
<path d="M149.59,209.78 L147.23,212.47 L154.07,217.71 L156.06,214.74Z" fill="#f0f9fc" stroke="#f0f9fc" stroke-width="0.4"/>
<path d="M147.43,212.24 L145.07,214.93 L152.25,220.44 L154.24,217.47Z" fill="#f0f8fc" stroke="#f0f8fc" stroke-width="0.4"/>
<path d="M145.27,214.70 L142.91,217.39 L150.44,223.16 L152.42,220.19Z" fill="#f0f8fc" stroke="#f0f8fc" stroke-width="0.4"/>
<path d="M143.11,217.16 L140.75,219.85 L148.62,225.88 L150.60,222.91Z" fill="#f0f8fc" stroke="#f0f8fc" stroke-width="0.4"/>
<path d="M140.95,219.63 L138.60,222.31 L146.80,228.61 L148.78,225.63Z" fill="#f0f8fc" stroke="#f0f8fc" stroke-width="0.4"/>
<path d="M138.79,222.09 L136.44,224.78 L144.98,231.33 L146.96,228.36Z" fill="#f0f8fc" stroke="#f0f8fc" stroke-width="0.4"/>
<path d="M181.53,176.62 L179.55,179.59 L181.82,180.90 L183.40,177.70Z" fill="#f2f9fd" stroke="#f2f9fd" stroke-width="0.4"/>
<path d="M179.71,179.34 L177.73,182.31 L180.37,183.84 L181.95,180.64Z" fill="#f2f9fd" stroke="#f2f9fd" stroke-width="0.4"/>
<path d="M177.89,182.07 L175.91,185.04 L178.92,186.78 L180.51,183.57Z" fill="#f2f9fd" stroke="#f2f9fd" stroke-width="0.4"/>
<path d="M176.07,184.79 L174.09,187.76 L177.48,189.72 L179.06,186.51Z" fill="#f2f9fd" stroke="#f2f9fd" stroke-width="0.4"/>
<path d="M174.26,187.51 L172.27,190.48 L176.03,192.65 L177.61,189.45Z" fill="#f2f9fc" stroke="#f2f9fc" stroke-width="0.4"/>
<path d="M172.44,190.23 L170.45,193.21 L174.58,195.59 L176.16,192.38Z" fill="#f2f9fc" stroke="#f2f9fc" stroke-width="0.4"/>
<path d="M170.62,192.96 L168.63,195.93 L173.13,198.53 L174.71,195.32Z" fill="#f1f9fc" stroke="#f1f9fc" stroke-width="0.4"/>
<path d="M168.80,195.68 L166.81,198.65 L171.68,201.47 L173.26,198.26Z" fill="#f1f9fc" stroke="#f1f9fc" stroke-width="0.4"/>
<path d="M166.98,198.40 L164.99,201.38 L170.23,204.40 L171.81,201.20Z" fill="#f1f9fc" stroke="#f1f9fc" stroke-width="0.4"/>
<path d="M165.16,201.13 L163.17,204.10 L168.78,207.34 L170.37,204.13Z" fill="#f1f9fc" stroke="#f1f9fc" stroke-width="0.4"/>
<path d="M163.34,203.85 L161.35,206.82 L167.34,210.28 L168.92,207.07Z" fill="#f1f9fc" stroke="#f1f9fc" stroke-width="0.4"/>
<path d="M161.52,206.57 L159.53,209.55 L165.89,213.21 L167.47,210.01Z" fill="#f1f9fc" stroke="#f1f9fc" stroke-width="0.4"/>
<path d="M159.70,209.30 L157.71,212.27 L164.44,216.15 L166.02,212.95Z" fill="#f1f9fc" stroke="#f1f9fc" stroke-width="0.4"/>
<path d="M157.88,212.02 L155.89,214.99 L162.99,219.09 L164.57,215.88Z" fill="#f1f9fc" stroke="#f1f9fc" stroke-width="0.4"/>
<path d="M156.06,214.74 L154.07,217.71 L161.54,222.03 L163.12,218.82Z" fill="#f0f9fc" stroke="#f0f9fc" stroke-width="0.4"/>
<path d="M154.24,217.47 L152.25,220.44 L160.09,224.96 L161.67,221.76Z" fill="#f0f8fc" stroke="#f0f8fc" stroke-width="0.4"/>
<path d="M152.42,220.19 L150.44,223.16 L158.65,227.90 L160.23,224.69Z" fill="#f0f8fc" stroke="#f0f8fc" stroke-width="0.4"/>
<path d="M150.60,222.91 L148.62,225.88 L157.20,230.84 L158.78,227.63Z" fill="#f0f8fc" stroke="#f0f8fc" stroke-width="0.4"/>
<path d="M148.78,225.63 L146.80,228.61 L155.75,233.78 L157.33,230.57Z" fill="#f0f8fc" stroke="#f0f8fc" stroke-width="0.4"/>
<path d="M146.96,228.36 L144.98,231.33 L154.30,236.71 L155.88,233.51Z" fill="#f0f8fc" stroke="#f0f8fc" stroke-width="0.4"/>
<path d="M183.40,177.70 L181.82,180.90 L184.25,181.91 L185.40,178.52Z" fill="#eff8fc" stroke="#eff8fc" stroke-width="0.4"/>
<path d="M181.95,180.64 L180.37,183.84 L183.19,185.01 L184.34,181.63Z" fill="#eff8fc" stroke="#eff8fc" stroke-width="0.4"/>
<path d="M180.51,183.57 L178.92,186.78 L182.14,188.11 L183.29,184.73Z" fill="#eff8fc" stroke="#eff8fc" stroke-width="0.4"/>
<path d="M179.06,186.51 L177.48,189.72 L181.09,191.21 L182.24,187.83Z" fill="#eff8fc" stroke="#eff8fc" stroke-width="0.4"/>
<path d="M177.61,189.45 L176.03,192.65 L180.04,194.31 L181.19,190.93Z" fill="#eef8fc" stroke="#eef8fc" stroke-width="0.4"/>
<path d="M176.16,192.38 L174.58,195.59 L178.98,197.42 L180.13,194.03Z" fill="#eef8fc" stroke="#eef8fc" stroke-width="0.4"/>
<path d="M174.71,195.32 L173.13,198.53 L177.93,200.52 L179.08,197.13Z" fill="#eef7fc" stroke="#eef7fc" stroke-width="0.4"/>
<path d="M173.26,198.26 L171.68,201.47 L176.88,203.62 L178.03,200.23Z" fill="#edf7fb" stroke="#edf7fb" stroke-width="0.4"/>
<path d="M171.81,201.20 L170.23,204.40 L175.83,206.72 L176.97,203.33Z" fill="#edf7fb" stroke="#edf7fb" stroke-width="0.4"/>
<path d="M170.37,204.13 L168.78,207.34 L174.77,209.82 L175.92,206.44Z" fill="#edf7fb" stroke="#edf7fb" stroke-width="0.4"/>
<path d="M168.92,207.07 L167.34,210.28 L173.72,212.92 L174.87,209.54Z" fill="#ecf7fb" stroke="#ecf7fb" stroke-width="0.4"/>
<path d="M167.47,210.01 L165.89,213.21 L172.67,216.02 L173.82,212.64Z" fill="#ecf7fb" stroke="#ecf7fb" stroke-width="0.4"/>
<path d="M166.02,212.95 L164.44,216.15 L171.61,219.12 L172.76,215.74Z" fill="#ecf7fb" stroke="#ecf7fb" stroke-width="0.4"/>
<path d="M164.57,215.88 L162.99,219.09 L170.56,222.23 L171.71,218.84Z" fill="#ebf6fb" stroke="#ebf6fb" stroke-width="0.4"/>
<path d="M163.12,218.82 L161.54,222.03 L169.51,225.33 L170.66,221.94Z" fill="#ebf6fb" stroke="#ebf6fb" stroke-width="0.4"/>
<path d="M161.67,221.76 L160.09,224.96 L168.46,228.43 L169.61,225.04Z" fill="#ebf6fb" stroke="#ebf6fb" stroke-width="0.4"/>
<path d="M160.23,224.69 L158.65,227.90 L167.40,231.53 L168.55,228.14Z" fill="#ebf6fb" stroke="#ebf6fb" stroke-width="0.4"/>
<path d="M158.78,227.63 L157.20,230.84 L166.35,234.63 L167.50,231.24Z" fill="#eaf6fb" stroke="#eaf6fb" stroke-width="0.4"/>
<path d="M157.33,230.57 L155.75,233.78 L165.30,237.73 L166.45,234.35Z" fill="#eaf6fb" stroke="#eaf6fb" stroke-width="0.4"/>
<path d="M155.88,233.51 L154.30,236.71 L164.25,240.83 L165.39,237.45Z" fill="#eaf6fb" stroke="#eaf6fb" stroke-width="0.4"/>
<path d="M185.40,178.52 L184.25,181.91 L186.78,182.59 L187.48,179.08Z" fill="#ecf7fb" stroke="#ecf7fb" stroke-width="0.4"/>
<path d="M184.34,181.63 L183.19,185.01 L186.14,185.80 L186.84,182.30Z" fill="#ebf6fb" stroke="#ebf6fb" stroke-width="0.4"/>
<path d="M183.29,184.73 L182.14,188.11 L185.51,189.01 L186.20,185.51Z" fill="#ebf6fb" stroke="#ebf6fb" stroke-width="0.4"/>
<path d="M182.24,187.83 L181.09,191.21 L184.87,192.23 L185.56,188.72Z" fill="#eaf6fb" stroke="#eaf6fb" stroke-width="0.4"/>
<path d="M181.19,190.93 L180.04,194.31 L184.23,195.44 L184.93,191.93Z" fill="#e9f6fb" stroke="#e9f6fb" stroke-width="0.4"/>
<path d="M180.13,194.03 L178.98,197.42 L183.59,198.65 L184.29,195.14Z" fill="#e9f5fa" stroke="#e9f5fa" stroke-width="0.4"/>
<path d="M179.08,197.13 L177.93,200.52 L182.95,201.86 L183.65,198.36Z" fill="#e8f5fa" stroke="#e8f5fa" stroke-width="0.4"/>
<path d="M178.03,200.23 L176.88,203.62 L182.31,205.07 L183.01,201.57Z" fill="#e7f5fa" stroke="#e7f5fa" stroke-width="0.4"/>
<path d="M176.97,203.33 L175.83,206.72 L181.67,208.29 L182.37,204.78Z" fill="#e7f5fa" stroke="#e7f5fa" stroke-width="0.4"/>
<path d="M175.92,206.44 L174.77,209.82 L181.03,211.50 L181.73,207.99Z" fill="#e6f4fa" stroke="#e6f4fa" stroke-width="0.4"/>
<path d="M174.87,209.54 L173.72,212.92 L180.39,214.71 L181.09,211.20Z" fill="#e6f4fa" stroke="#e6f4fa" stroke-width="0.4"/>
<path d="M173.82,212.64 L172.67,216.02 L179.76,217.92 L180.45,214.42Z" fill="#e5f4fa" stroke="#e5f4fa" stroke-width="0.4"/>
<path d="M172.76,215.74 L171.61,219.12 L179.12,221.13 L179.81,217.63Z" fill="#e4f4f9" stroke="#e4f4f9" stroke-width="0.4"/>
<path d="M171.71,218.84 L170.56,222.23 L178.48,224.35 L179.18,220.84Z" fill="#e4f3f9" stroke="#e4f3f9" stroke-width="0.4"/>
<path d="M170.66,221.94 L169.51,225.33 L177.84,227.56 L178.54,224.05Z" fill="#e3f3f9" stroke="#e3f3f9" stroke-width="0.4"/>
<path d="M169.61,225.04 L168.46,228.43 L177.20,230.77 L177.90,227.26Z" fill="#e3f3f9" stroke="#e3f3f9" stroke-width="0.4"/>
<path d="M168.55,228.14 L167.40,231.53 L176.56,233.98 L177.26,230.48Z" fill="#e2f3f9" stroke="#e2f3f9" stroke-width="0.4"/>
<path d="M167.50,231.24 L166.35,234.63 L175.92,237.19 L176.62,233.69Z" fill="#e1f2f9" stroke="#e1f2f9" stroke-width="0.4"/>
<path d="M166.45,234.35 L165.30,237.73 L175.28,240.41 L175.98,236.90Z" fill="#e1f2f9" stroke="#e1f2f9" stroke-width="0.4"/>
<path d="M165.39,237.45 L164.25,240.83 L174.64,243.62 L175.34,240.11Z" fill="#e0f2f8" stroke="#e0f2f8" stroke-width="0.4"/>
<path d="M187.48,179.08 L186.78,182.59 L189.39,182.93 L189.62,179.36Z" fill="#dff2f8" stroke="#dff2f8" stroke-width="0.4"/>
<path d="M186.84,182.30 L186.14,185.80 L189.17,186.20 L189.41,182.63Z" fill="#def1f8" stroke="#def1f8" stroke-width="0.4"/>
<path d="M186.20,185.51 L185.51,189.01 L188.96,189.47 L189.19,185.90Z" fill="#dcf0f8" stroke="#dcf0f8" stroke-width="0.4"/>
<path d="M185.56,188.72 L184.87,192.23 L188.74,192.74 L188.98,189.17Z" fill="#dbf0f7" stroke="#dbf0f7" stroke-width="0.4"/>
<path d="M184.93,191.93 L184.23,195.44 L188.53,196.00 L188.76,192.44Z" fill="#daeff7" stroke="#daeff7" stroke-width="0.4"/>
<path d="M184.29,195.14 L183.59,198.65 L188.32,199.27 L188.55,195.70Z" fill="#d8eff7" stroke="#d8eff7" stroke-width="0.4"/>
<path d="M183.65,198.36 L182.95,201.86 L188.10,202.54 L188.34,198.97Z" fill="#d7eff7" stroke="#d7eff7" stroke-width="0.4"/>
<path d="M183.01,201.57 L182.31,205.07 L187.89,205.81 L188.12,202.24Z" fill="#d6eef6" stroke="#d6eef6" stroke-width="0.4"/>
<path d="M182.37,204.78 L181.67,208.29 L187.67,209.08 L187.91,205.51Z" fill="#d4eef6" stroke="#d4eef6" stroke-width="0.4"/>
<path d="M181.73,207.99 L181.03,211.50 L187.46,212.34 L187.69,208.78Z" fill="#d3edf6" stroke="#d3edf6" stroke-width="0.4"/>
<path d="M181.09,211.20 L180.39,214.71 L187.25,215.61 L187.48,212.04Z" fill="#d1edf5" stroke="#d1edf5" stroke-width="0.4"/>
<path d="M180.45,214.42 L179.76,217.92 L187.03,218.88 L187.26,215.31Z" fill="#d0ecf5" stroke="#d0ecf5" stroke-width="0.4"/>
<path d="M179.81,217.63 L179.12,221.13 L186.82,222.15 L187.05,218.58Z" fill="#ceecf5" stroke="#ceecf5" stroke-width="0.4"/>
<path d="M179.18,220.84 L178.48,224.35 L186.60,225.42 L186.84,221.85Z" fill="#cdebf5" stroke="#cdebf5" stroke-width="0.4"/>
<path d="M178.54,224.05 L177.84,227.56 L186.39,228.68 L186.62,225.12Z" fill="#ccebf4" stroke="#ccebf4" stroke-width="0.4"/>
<path d="M177.90,227.26 L177.20,230.77 L186.17,231.95 L186.41,228.38Z" fill="#caeaf4" stroke="#caeaf4" stroke-width="0.4"/>
<path d="M177.26,230.48 L176.56,233.98 L185.96,235.22 L186.19,231.65Z" fill="#c9eaf4" stroke="#c9eaf4" stroke-width="0.4"/>
<path d="M176.62,233.69 L175.92,237.19 L185.75,238.49 L185.98,234.92Z" fill="#c7e9f4" stroke="#c7e9f4" stroke-width="0.4"/>
<path d="M175.98,236.90 L175.28,240.41 L185.53,241.76 L185.77,238.19Z" fill="#c6e9f3" stroke="#c6e9f3" stroke-width="0.4"/>
<path d="M175.34,240.11 L174.64,243.62 L185.32,245.02 L185.55,241.46Z" fill="#c4e8f3" stroke="#c4e8f3" stroke-width="0.4"/>
<path d="M189.62,179.36 L189.39,182.93 L192.01,182.93 L191.78,179.36Z" fill="#236dde" stroke="#236dde" stroke-width="0.4"/>
<path d="M189.41,182.63 L189.17,186.20 L192.23,186.20 L191.99,182.63Z" fill="#47abe8" stroke="#47abe8" stroke-width="0.4"/>
<path d="M189.19,185.90 L188.96,189.47 L192.44,189.47 L192.21,185.90Z" fill="#50b8ea" stroke="#50b8ea" stroke-width="0.4"/>
<path d="M188.98,189.17 L188.74,192.74 L192.66,192.74 L192.42,189.17Z" fill="#1e64dc" stroke="#1e64dc" stroke-width="0.4"/>
<path d="M188.76,192.44 L188.53,196.00 L192.87,196.00 L192.64,192.44Z" fill="#47abe8" stroke="#47abe8" stroke-width="0.4"/>
<path d="M188.55,195.70 L188.32,199.27 L193.08,199.27 L192.85,195.70Z" fill="#47abe8" stroke="#47abe8" stroke-width="0.4"/>
<path d="M188.34,198.97 L188.10,202.54 L193.30,202.54 L193.06,198.97Z" fill="#4cb2e9" stroke="#4cb2e9" stroke-width="0.4"/>
<path d="M188.12,202.24 L187.89,205.81 L193.51,205.81 L193.28,202.24Z" fill="#4cb2e9" stroke="#4cb2e9" stroke-width="0.4"/>
<path d="M187.91,205.51 L187.67,209.08 L193.73,209.08 L193.49,205.51Z" fill="#3a98e6" stroke="#3a98e6" stroke-width="0.4"/>
<path d="M187.69,208.78 L187.46,212.34 L193.94,212.34 L193.71,208.78Z" fill="#47abe8" stroke="#47abe8" stroke-width="0.4"/>
<path d="M187.48,212.04 L187.25,215.61 L194.15,215.61 L193.92,212.04Z" fill="#56bcea" stroke="#56bcea" stroke-width="0.4"/>
<path d="M187.26,215.31 L187.03,218.88 L194.37,218.88 L194.14,215.31Z" fill="#56bcea" stroke="#56bcea" stroke-width="0.4"/>
<path d="M187.05,218.58 L186.82,222.15 L194.58,222.15 L194.35,218.58Z" fill="#68caec" stroke="#68caec" stroke-width="0.4"/>
<path d="M186.84,221.85 L186.60,225.42 L194.80,225.42 L194.56,221.85Z" fill="#68caec" stroke="#68caec" stroke-width="0.4"/>
<path d="M186.62,225.12 L186.39,228.68 L195.01,228.68 L194.78,225.12Z" fill="#68caec" stroke="#68caec" stroke-width="0.4"/>
<path d="M186.41,228.38 L186.17,231.95 L195.23,231.95 L194.99,228.38Z" fill="#78d1ec" stroke="#78d1ec" stroke-width="0.4"/>
<path d="M186.19,231.65 L185.96,235.22 L195.44,235.22 L195.21,231.65Z" fill="#78d1ec" stroke="#78d1ec" stroke-width="0.4"/>
<path d="M185.98,234.92 L185.75,238.49 L195.65,238.49 L195.42,234.92Z" fill="#78d1ec" stroke="#78d1ec" stroke-width="0.4"/>
<path d="M185.77,238.19 L185.53,241.76 L195.87,241.76 L195.63,238.19Z" fill="#78d1ec" stroke="#78d1ec" stroke-width="0.4"/>
<path d="M185.55,241.46 L185.32,245.02 L196.08,245.02 L195.85,241.46Z" fill="#78d1ec" stroke="#78d1ec" stroke-width="0.4"/>
<path d="M191.78,179.36 L192.01,182.93 L194.62,182.59 L193.92,179.08Z" fill="#d0ecf5" stroke="#d0ecf5" stroke-width="0.4"/>
<path d="M191.99,182.63 L192.23,186.20 L195.26,185.80 L194.56,182.30Z" fill="#ceebf5" stroke="#ceebf5" stroke-width="0.4"/>
<path d="M192.21,185.90 L192.44,189.47 L195.89,189.01 L195.20,185.51Z" fill="#cbeaf4" stroke="#cbeaf4" stroke-width="0.4"/>
<path d="M192.42,189.17 L192.66,192.74 L196.53,192.23 L195.84,188.72Z" fill="#c9eaf4" stroke="#c9eaf4" stroke-width="0.4"/>
<path d="M192.64,192.44 L192.87,196.00 L197.17,195.44 L196.47,191.93Z" fill="#c6e9f3" stroke="#c6e9f3" stroke-width="0.4"/>
<path d="M192.85,195.70 L193.08,199.27 L197.81,198.65 L197.11,195.14Z" fill="#c3e8f3" stroke="#c3e8f3" stroke-width="0.4"/>
<path d="M193.06,198.97 L193.30,202.54 L198.45,201.86 L197.75,198.36Z" fill="#c0e7f3" stroke="#c0e7f3" stroke-width="0.4"/>
<path d="M193.28,202.24 L193.51,205.81 L199.09,205.07 L198.39,201.57Z" fill="#bee7f2" stroke="#bee7f2" stroke-width="0.4"/>
<path d="M193.49,205.51 L193.73,209.08 L199.73,208.29 L199.03,204.78Z" fill="#bbe6f2" stroke="#bbe6f2" stroke-width="0.4"/>
<path d="M193.71,208.78 L193.94,212.34 L200.37,211.50 L199.67,207.99Z" fill="#b8e5f2" stroke="#b8e5f2" stroke-width="0.4"/>
<path d="M193.92,212.04 L194.15,215.61 L201.01,214.71 L200.31,211.20Z" fill="#b5e4f1" stroke="#b5e4f1" stroke-width="0.4"/>
<path d="M194.14,215.31 L194.37,218.88 L201.64,217.92 L200.95,214.42Z" fill="#b2e4f1" stroke="#b2e4f1" stroke-width="0.4"/>
<path d="M194.35,218.58 L194.58,222.15 L202.28,221.13 L201.59,217.63Z" fill="#b0e3f0" stroke="#b0e3f0" stroke-width="0.4"/>
<path d="M194.56,221.85 L194.80,225.42 L202.92,224.35 L202.22,220.84Z" fill="#ade2f0" stroke="#ade2f0" stroke-width="0.4"/>
<path d="M194.78,225.12 L195.01,228.68 L203.56,227.56 L202.86,224.05Z" fill="#aae1f0" stroke="#aae1f0" stroke-width="0.4"/>
<path d="M194.99,228.38 L195.23,231.95 L204.20,230.77 L203.50,227.26Z" fill="#a7e1ef" stroke="#a7e1ef" stroke-width="0.4"/>
<path d="M195.21,231.65 L195.44,235.22 L204.84,233.98 L204.14,230.48Z" fill="#a5e0ef" stroke="#a5e0ef" stroke-width="0.4"/>
<path d="M195.42,234.92 L195.65,238.49 L205.48,237.19 L204.78,233.69Z" fill="#a2dfef" stroke="#a2dfef" stroke-width="0.4"/>
<path d="M195.63,238.19 L195.87,241.76 L206.12,240.41 L205.42,236.90Z" fill="#9fdeee" stroke="#9fdeee" stroke-width="0.4"/>
<path d="M195.85,241.46 L196.08,245.02 L206.76,243.62 L206.06,240.11Z" fill="#9cddee" stroke="#9cddee" stroke-width="0.4"/>
<path d="M193.92,179.08 L194.62,182.59 L197.15,181.91 L196.00,178.52Z" fill="#dff2f8" stroke="#dff2f8" stroke-width="0.4"/>
<path d="M194.56,182.30 L195.26,185.80 L198.21,185.01 L197.06,181.63Z" fill="#def1f8" stroke="#def1f8" stroke-width="0.4"/>
<path d="M195.20,185.51 L195.89,189.01 L199.26,188.11 L198.11,184.73Z" fill="#dcf0f8" stroke="#dcf0f8" stroke-width="0.4"/>
<path d="M195.84,188.72 L196.53,192.23 L200.31,191.21 L199.16,187.83Z" fill="#dbf0f7" stroke="#dbf0f7" stroke-width="0.4"/>
<path d="M196.47,191.93 L197.17,195.44 L201.36,194.31 L200.21,190.93Z" fill="#daeff7" stroke="#daeff7" stroke-width="0.4"/>
<path d="M197.11,195.14 L197.81,198.65 L202.42,197.42 L201.27,194.03Z" fill="#d8eff7" stroke="#d8eff7" stroke-width="0.4"/>
<path d="M197.75,198.36 L198.45,201.86 L203.47,200.52 L202.32,197.13Z" fill="#d7eff7" stroke="#d7eff7" stroke-width="0.4"/>
<path d="M198.39,201.57 L199.09,205.07 L204.52,203.62 L203.37,200.23Z" fill="#d6eef6" stroke="#d6eef6" stroke-width="0.4"/>
<path d="M199.03,204.78 L199.73,208.29 L205.57,206.72 L204.43,203.33Z" fill="#d4eef6" stroke="#d4eef6" stroke-width="0.4"/>
<path d="M199.67,207.99 L200.37,211.50 L206.63,209.82 L205.48,206.44Z" fill="#d3edf6" stroke="#d3edf6" stroke-width="0.4"/>
<path d="M200.31,211.20 L201.01,214.71 L207.68,212.92 L206.53,209.54Z" fill="#d1edf5" stroke="#d1edf5" stroke-width="0.4"/>
<path d="M200.95,214.42 L201.64,217.92 L208.73,216.02 L207.58,212.64Z" fill="#d0ecf5" stroke="#d0ecf5" stroke-width="0.4"/>
<path d="M201.59,217.63 L202.28,221.13 L209.79,219.12 L208.64,215.74Z" fill="#ceecf5" stroke="#ceecf5" stroke-width="0.4"/>
<path d="M202.22,220.84 L202.92,224.35 L210.84,222.23 L209.69,218.84Z" fill="#cdebf5" stroke="#cdebf5" stroke-width="0.4"/>
<path d="M202.86,224.05 L203.56,227.56 L211.89,225.33 L210.74,221.94Z" fill="#ccebf4" stroke="#ccebf4" stroke-width="0.4"/>
<path d="M203.50,227.26 L204.20,230.77 L212.94,228.43 L211.79,225.04Z" fill="#caeaf4" stroke="#caeaf4" stroke-width="0.4"/>
<path d="M204.14,230.48 L204.84,233.98 L214.00,231.53 L212.85,228.14Z" fill="#c9eaf4" stroke="#c9eaf4" stroke-width="0.4"/>
<path d="M204.78,233.69 L205.48,237.19 L215.05,234.63 L213.90,231.24Z" fill="#c7e9f4" stroke="#c7e9f4" stroke-width="0.4"/>
<path d="M205.42,236.90 L206.12,240.41 L216.10,237.73 L214.95,234.35Z" fill="#c6e9f3" stroke="#c6e9f3" stroke-width="0.4"/>
<path d="M206.06,240.11 L206.76,243.62 L217.15,240.83 L216.01,237.45Z" fill="#c4e8f3" stroke="#c4e8f3" stroke-width="0.4"/>
<path d="M196.00,178.52 L197.15,181.91 L199.58,180.90 L198.00,177.70Z" fill="#eff8fc" stroke="#eff8fc" stroke-width="0.4"/>
<path d="M197.06,181.63 L198.21,185.01 L201.03,183.84 L199.45,180.64Z" fill="#eff8fc" stroke="#eff8fc" stroke-width="0.4"/>
<path d="M198.11,184.73 L199.26,188.11 L202.48,186.78 L200.89,183.57Z" fill="#eff8fc" stroke="#eff8fc" stroke-width="0.4"/>
<path d="M199.16,187.83 L200.31,191.21 L203.92,189.72 L202.34,186.51Z" fill="#eff8fc" stroke="#eff8fc" stroke-width="0.4"/>
<path d="M200.21,190.93 L201.36,194.31 L205.37,192.65 L203.79,189.45Z" fill="#eef8fc" stroke="#eef8fc" stroke-width="0.4"/>
<path d="M201.27,194.03 L202.42,197.42 L206.82,195.59 L205.24,192.38Z" fill="#eef8fc" stroke="#eef8fc" stroke-width="0.4"/>
<path d="M202.32,197.13 L203.47,200.52 L208.27,198.53 L206.69,195.32Z" fill="#eef7fc" stroke="#eef7fc" stroke-width="0.4"/>
<path d="M203.37,200.23 L204.52,203.62 L209.72,201.47 L208.14,198.26Z" fill="#edf7fb" stroke="#edf7fb" stroke-width="0.4"/>
<path d="M204.43,203.33 L205.57,206.72 L211.17,204.40 L209.59,201.20Z" fill="#edf7fb" stroke="#edf7fb" stroke-width="0.4"/>
<path d="M205.48,206.44 L206.63,209.82 L212.62,207.34 L211.03,204.13Z" fill="#edf7fb" stroke="#edf7fb" stroke-width="0.4"/>
<path d="M206.53,209.54 L207.68,212.92 L214.06,210.28 L212.48,207.07Z" fill="#ecf7fb" stroke="#ecf7fb" stroke-width="0.4"/>
<path d="M207.58,212.64 L208.73,216.02 L215.51,213.21 L213.93,210.01Z" fill="#ecf7fb" stroke="#ecf7fb" stroke-width="0.4"/>
<path d="M208.64,215.74 L209.79,219.12 L216.96,216.15 L215.38,212.95Z" fill="#ecf7fb" stroke="#ecf7fb" stroke-width="0.4"/>
<path d="M209.69,218.84 L210.84,222.23 L218.41,219.09 L216.83,215.88Z" fill="#ebf6fb" stroke="#ebf6fb" stroke-width="0.4"/>
<path d="M210.74,221.94 L211.89,225.33 L219.86,222.03 L218.28,218.82Z" fill="#ebf6fb" stroke="#ebf6fb" stroke-width="0.4"/>
<path d="M211.79,225.04 L212.94,228.43 L221.31,224.96 L219.73,221.76Z" fill="#ebf6fb" stroke="#ebf6fb" stroke-width="0.4"/>
<path d="M212.85,228.14 L214.00,231.53 L222.75,227.90 L221.17,224.69Z" fill="#ebf6fb" stroke="#ebf6fb" stroke-width="0.4"/>
<path d="M213.90,231.24 L215.05,234.63 L224.20,230.84 L222.62,227.63Z" fill="#eaf6fb" stroke="#eaf6fb" stroke-width="0.4"/>
<path d="M214.95,234.35 L216.10,237.73 L225.65,233.78 L224.07,230.57Z" fill="#eaf6fb" stroke="#eaf6fb" stroke-width="0.4"/>
<path d="M216.01,237.45 L217.15,240.83 L227.10,236.71 L225.52,233.51Z" fill="#eaf6fb" stroke="#eaf6fb" stroke-width="0.4"/>
<path d="M198.00,177.70 L199.58,180.90 L201.85,179.59 L199.87,176.62Z" fill="#f2f9fd" stroke="#f2f9fd" stroke-width="0.4"/>
<path d="M199.45,180.64 L201.03,183.84 L203.67,182.31 L201.69,179.34Z" fill="#f2f9fd" stroke="#f2f9fd" stroke-width="0.4"/>
<path d="M200.89,183.57 L202.48,186.78 L205.49,185.04 L203.51,182.07Z" fill="#f2f9fd" stroke="#f2f9fd" stroke-width="0.4"/>
<path d="M202.34,186.51 L203.92,189.72 L207.31,187.76 L205.33,184.79Z" fill="#f2f9fd" stroke="#f2f9fd" stroke-width="0.4"/>
<path d="M203.79,189.45 L205.37,192.65 L209.13,190.48 L207.14,187.51Z" fill="#f2f9fc" stroke="#f2f9fc" stroke-width="0.4"/>
<path d="M205.24,192.38 L206.82,195.59 L210.95,193.21 L208.96,190.23Z" fill="#f2f9fc" stroke="#f2f9fc" stroke-width="0.4"/>
<path d="M206.69,195.32 L208.27,198.53 L212.77,195.93 L210.78,192.96Z" fill="#f1f9fc" stroke="#f1f9fc" stroke-width="0.4"/>
<path d="M208.14,198.26 L209.72,201.47 L214.59,198.65 L212.60,195.68Z" fill="#f1f9fc" stroke="#f1f9fc" stroke-width="0.4"/>
<path d="M209.59,201.20 L211.17,204.40 L216.41,201.38 L214.42,198.40Z" fill="#f1f9fc" stroke="#f1f9fc" stroke-width="0.4"/>
<path d="M211.03,204.13 L212.62,207.34 L218.23,204.10 L216.24,201.13Z" fill="#f1f9fc" stroke="#f1f9fc" stroke-width="0.4"/>
<path d="M212.48,207.07 L214.06,210.28 L220.05,206.82 L218.06,203.85Z" fill="#f1f9fc" stroke="#f1f9fc" stroke-width="0.4"/>
<path d="M213.93,210.01 L215.51,213.21 L221.87,209.55 L219.88,206.57Z" fill="#f1f9fc" stroke="#f1f9fc" stroke-width="0.4"/>
<path d="M215.38,212.95 L216.96,216.15 L223.69,212.27 L221.70,209.30Z" fill="#f1f9fc" stroke="#f1f9fc" stroke-width="0.4"/>
<path d="M216.83,215.88 L218.41,219.09 L225.51,214.99 L223.52,212.02Z" fill="#f1f9fc" stroke="#f1f9fc" stroke-width="0.4"/>
<path d="M218.28,218.82 L219.86,222.03 L227.33,217.71 L225.34,214.74Z" fill="#f0f9fc" stroke="#f0f9fc" stroke-width="0.4"/>
<path d="M219.73,221.76 L221.31,224.96 L229.15,220.44 L227.16,217.47Z" fill="#f0f8fc" stroke="#f0f8fc" stroke-width="0.4"/>
<path d="M221.17,224.69 L222.75,227.90 L230.96,223.16 L228.98,220.19Z" fill="#f0f8fc" stroke="#f0f8fc" stroke-width="0.4"/>
<path d="M222.62,227.63 L224.20,230.84 L232.78,225.88 L230.80,222.91Z" fill="#f0f8fc" stroke="#f0f8fc" stroke-width="0.4"/>
<path d="M224.07,230.57 L225.65,233.78 L234.60,228.61 L232.62,225.63Z" fill="#f0f8fc" stroke="#f0f8fc" stroke-width="0.4"/>
<path d="M225.52,233.51 L227.10,236.71 L236.42,231.33 L234.44,228.36Z" fill="#f0f8fc" stroke="#f0f8fc" stroke-width="0.4"/>
<path d="M199.87,176.62 L201.85,179.59 L203.94,177.99 L201.58,175.31Z" fill="#f2f9fd" stroke="#f2f9fd" stroke-width="0.4"/>
<path d="M201.69,179.34 L203.67,182.31 L206.10,180.46 L203.74,177.77Z" fill="#f2f9fd" stroke="#f2f9fd" stroke-width="0.4"/>
<path d="M203.51,182.07 L205.49,185.04 L208.26,182.92 L205.90,180.23Z" fill="#f2f9fd" stroke="#f2f9fd" stroke-width="0.4"/>
<path d="M205.33,184.79 L207.31,187.76 L210.41,185.38 L208.06,182.69Z" fill="#f2f9fd" stroke="#f2f9fd" stroke-width="0.4"/>
<path d="M207.14,187.51 L209.13,190.48 L212.57,187.84 L210.22,185.15Z" fill="#f2f9fc" stroke="#f2f9fc" stroke-width="0.4"/>
<path d="M208.96,190.23 L210.95,193.21 L214.73,190.30 L212.38,187.62Z" fill="#f2f9fc" stroke="#f2f9fc" stroke-width="0.4"/>
<path d="M210.78,192.96 L212.77,195.93 L216.89,192.77 L214.54,190.08Z" fill="#f1f9fc" stroke="#f1f9fc" stroke-width="0.4"/>
<path d="M212.60,195.68 L214.59,198.65 L219.05,195.23 L216.69,192.54Z" fill="#f1f9fc" stroke="#f1f9fc" stroke-width="0.4"/>
<path d="M214.42,198.40 L216.41,201.38 L221.21,197.69 L218.85,195.00Z" fill="#f1f9fc" stroke="#f1f9fc" stroke-width="0.4"/>
<path d="M216.24,201.13 L218.23,204.10 L223.37,200.15 L221.01,197.47Z" fill="#f1f9fc" stroke="#f1f9fc" stroke-width="0.4"/>
<path d="M218.06,203.85 L220.05,206.82 L225.53,202.62 L223.17,199.93Z" fill="#f1f9fc" stroke="#f1f9fc" stroke-width="0.4"/>
<path d="M219.88,206.57 L221.87,209.55 L227.69,205.08 L225.33,202.39Z" fill="#f1f9fc" stroke="#f1f9fc" stroke-width="0.4"/>
<path d="M221.70,209.30 L223.69,212.27 L229.85,207.54 L227.49,204.85Z" fill="#f1f9fc" stroke="#f1f9fc" stroke-width="0.4"/>
<path d="M223.52,212.02 L225.51,214.99 L232.01,210.00 L229.65,207.31Z" fill="#f1f9fc" stroke="#f1f9fc" stroke-width="0.4"/>
<path d="M225.34,214.74 L227.33,217.71 L234.17,212.47 L231.81,209.78Z" fill="#f0f9fc" stroke="#f0f9fc" stroke-width="0.4"/>
<path d="M227.16,217.47 L229.15,220.44 L236.33,214.93 L233.97,212.24Z" fill="#f0f8fc" stroke="#f0f8fc" stroke-width="0.4"/>
<path d="M228.98,220.19 L230.96,223.16 L238.49,217.39 L236.13,214.70Z" fill="#f0f8fc" stroke="#f0f8fc" stroke-width="0.4"/>
<path d="M230.80,222.91 L232.78,225.88 L240.65,219.85 L238.29,217.16Z" fill="#f0f8fc" stroke="#f0f8fc" stroke-width="0.4"/>
<path d="M232.62,225.63 L234.60,228.61 L242.80,222.31 L240.45,219.63Z" fill="#f0f8fc" stroke="#f0f8fc" stroke-width="0.4"/>
<path d="M234.44,228.36 L236.42,231.33 L244.96,224.78 L242.61,222.09Z" fill="#f0f8fc" stroke="#f0f8fc" stroke-width="0.4"/>
<path d="M201.58,175.31 L203.94,177.99 L205.79,176.14 L203.11,173.78Z" fill="#f2f9fd" stroke="#f2f9fd" stroke-width="0.4"/>
<path d="M203.74,177.77 L206.10,180.46 L208.26,178.30 L205.57,175.94Z" fill="#f2f9fd" stroke="#f2f9fd" stroke-width="0.4"/>
<path d="M205.90,180.23 L208.26,182.92 L210.72,180.46 L208.03,178.10Z" fill="#f2f9fd" stroke="#f2f9fd" stroke-width="0.4"/>
<path d="M208.06,182.69 L210.41,185.38 L213.18,182.61 L210.49,180.26Z" fill="#f2f9fd" stroke="#f2f9fd" stroke-width="0.4"/>
<path d="M210.22,185.15 L212.57,187.84 L215.64,184.77 L212.95,182.42Z" fill="#f2f9fc" stroke="#f2f9fc" stroke-width="0.4"/>
<path d="M212.38,187.62 L214.73,190.30 L218.10,186.93 L215.42,184.58Z" fill="#f2f9fc" stroke="#f2f9fc" stroke-width="0.4"/>
<path d="M214.54,190.08 L216.89,192.77 L220.57,189.09 L217.88,186.74Z" fill="#f1f9fc" stroke="#f1f9fc" stroke-width="0.4"/>
<path d="M216.69,192.54 L219.05,195.23 L223.03,191.25 L220.34,188.89Z" fill="#f1f9fc" stroke="#f1f9fc" stroke-width="0.4"/>
<path d="M218.85,195.00 L221.21,197.69 L225.49,193.41 L222.80,191.05Z" fill="#f1f9fc" stroke="#f1f9fc" stroke-width="0.4"/>
<path d="M221.01,197.47 L223.37,200.15 L227.95,195.57 L225.27,193.21Z" fill="#f1f9fc" stroke="#f1f9fc" stroke-width="0.4"/>
<path d="M223.17,199.93 L225.53,202.62 L230.42,197.73 L227.73,195.37Z" fill="#f1f9fc" stroke="#f1f9fc" stroke-width="0.4"/>
<path d="M225.33,202.39 L227.69,205.08 L232.88,199.89 L230.19,197.53Z" fill="#f1f9fc" stroke="#f1f9fc" stroke-width="0.4"/>
<path d="M227.49,204.85 L229.85,207.54 L235.34,202.05 L232.65,199.69Z" fill="#f1f9fc" stroke="#f1f9fc" stroke-width="0.4"/>
<path d="M229.65,207.31 L232.01,210.00 L237.80,204.21 L235.11,201.85Z" fill="#f1f9fc" stroke="#f1f9fc" stroke-width="0.4"/>
<path d="M231.81,209.78 L234.17,212.47 L240.27,206.37 L237.58,204.01Z" fill="#f0f9fc" stroke="#f0f9fc" stroke-width="0.4"/>
<path d="M233.97,212.24 L236.33,214.93 L242.73,208.53 L240.04,206.17Z" fill="#f0f8fc" stroke="#f0f8fc" stroke-width="0.4"/>
<path d="M236.13,214.70 L238.49,217.39 L245.19,210.69 L242.50,208.33Z" fill="#f0f8fc" stroke="#f0f8fc" stroke-width="0.4"/>
<path d="M238.29,217.16 L240.65,219.85 L247.65,212.85 L244.96,210.49Z" fill="#f0f8fc" stroke="#f0f8fc" stroke-width="0.4"/>
<path d="M240.45,219.63 L242.80,222.31 L250.11,215.00 L247.43,212.65Z" fill="#f0f8fc" stroke="#f0f8fc" stroke-width="0.4"/>
<path d="M242.61,222.09 L244.96,224.78 L252.58,217.16 L249.89,214.81Z" fill="#f0f8fc" stroke="#f0f8fc" stroke-width="0.4"/>
<path d="M203.11,173.78 L205.79,176.14 L207.39,174.05 L204.42,172.07Z" fill="#f2f9fd" stroke="#f2f9fd" stroke-width="0.4"/>
<path d="M205.57,175.94 L208.26,178.30 L210.11,175.87 L207.14,173.89Z" fill="#f2f9fd" stroke="#f2f9fd" stroke-width="0.4"/>
<path d="M208.03,178.10 L210.72,180.46 L212.84,177.69 L209.87,175.71Z" fill="#f2f9fd" stroke="#f2f9fd" stroke-width="0.4"/>
<path d="M210.49,180.26 L213.18,182.61 L215.56,179.51 L212.59,177.53Z" fill="#f2f9fd" stroke="#f2f9fd" stroke-width="0.4"/>
<path d="M212.95,182.42 L215.64,184.77 L218.28,181.33 L215.31,179.34Z" fill="#f2f9fc" stroke="#f2f9fc" stroke-width="0.4"/>
<path d="M215.42,184.58 L218.10,186.93 L221.01,183.15 L218.03,181.16Z" fill="#f2f9fc" stroke="#f2f9fc" stroke-width="0.4"/>
<path d="M217.88,186.74 L220.57,189.09 L223.73,184.97 L220.76,182.98Z" fill="#f1f9fc" stroke="#f1f9fc" stroke-width="0.4"/>
<path d="M220.34,188.89 L223.03,191.25 L226.45,186.79 L223.48,184.80Z" fill="#f1f9fc" stroke="#f1f9fc" stroke-width="0.4"/>
<path d="M222.80,191.05 L225.49,193.41 L229.18,188.61 L226.20,186.62Z" fill="#f1f9fc" stroke="#f1f9fc" stroke-width="0.4"/>
<path d="M225.27,193.21 L227.95,195.57 L231.90,190.43 L228.93,188.44Z" fill="#f1f9fc" stroke="#f1f9fc" stroke-width="0.4"/>
<path d="M227.73,195.37 L230.42,197.73 L234.62,192.25 L231.65,190.26Z" fill="#f1f9fc" stroke="#f1f9fc" stroke-width="0.4"/>
<path d="M230.19,197.53 L232.88,199.89 L237.35,194.07 L234.37,192.08Z" fill="#f1f9fc" stroke="#f1f9fc" stroke-width="0.4"/>
<path d="M232.65,199.69 L235.34,202.05 L240.07,195.89 L237.10,193.90Z" fill="#f1f9fc" stroke="#f1f9fc" stroke-width="0.4"/>
<path d="M235.11,201.85 L237.80,204.21 L242.79,197.71 L239.82,195.72Z" fill="#f1f9fc" stroke="#f1f9fc" stroke-width="0.4"/>
<path d="M237.58,204.01 L240.27,206.37 L245.51,199.53 L242.54,197.54Z" fill="#f0f9fc" stroke="#f0f9fc" stroke-width="0.4"/>
<path d="M240.04,206.17 L242.73,208.53 L248.24,201.35 L245.27,199.36Z" fill="#f0f8fc" stroke="#f0f8fc" stroke-width="0.4"/>
<path d="M242.50,208.33 L245.19,210.69 L250.96,203.16 L247.99,201.18Z" fill="#f0f8fc" stroke="#f0f8fc" stroke-width="0.4"/>
<path d="M244.96,210.49 L247.65,212.85 L253.68,204.98 L250.71,203.00Z" fill="#f0f8fc" stroke="#f0f8fc" stroke-width="0.4"/>
<path d="M247.43,212.65 L250.11,215.00 L256.41,206.80 L253.43,204.82Z" fill="#f0f8fc" stroke="#f0f8fc" stroke-width="0.4"/>
<path d="M249.89,214.81 L252.58,217.16 L259.13,208.62 L256.16,206.64Z" fill="#f0f8fc" stroke="#f0f8fc" stroke-width="0.4"/>
<path d="M204.42,172.07 L207.39,174.05 L208.70,171.78 L205.50,170.20Z" fill="#f2f9fd" stroke="#f2f9fd" stroke-width="0.4"/>
<path d="M207.14,173.89 L210.11,175.87 L211.64,173.23 L208.44,171.65Z" fill="#f2f9fd" stroke="#f2f9fd" stroke-width="0.4"/>
<path d="M209.87,175.71 L212.84,177.69 L214.58,174.68 L211.37,173.09Z" fill="#f2f9fd" stroke="#f2f9fd" stroke-width="0.4"/>
<path d="M212.59,177.53 L215.56,179.51 L217.52,176.12 L214.31,174.54Z" fill="#f2f9fd" stroke="#f2f9fd" stroke-width="0.4"/>
<path d="M215.31,179.34 L218.28,181.33 L220.45,177.57 L217.25,175.99Z" fill="#f2f9fc" stroke="#f2f9fc" stroke-width="0.4"/>
<path d="M218.03,181.16 L221.01,183.15 L223.39,179.02 L220.18,177.44Z" fill="#f2f9fc" stroke="#f2f9fc" stroke-width="0.4"/>
<path d="M220.76,182.98 L223.73,184.97 L226.33,180.47 L223.12,178.89Z" fill="#f1f9fc" stroke="#f1f9fc" stroke-width="0.4"/>
<path d="M223.48,184.80 L226.45,186.79 L229.27,181.92 L226.06,180.34Z" fill="#f1f9fc" stroke="#f1f9fc" stroke-width="0.4"/>
<path d="M226.20,186.62 L229.18,188.61 L232.20,183.37 L229.00,181.79Z" fill="#f1f9fc" stroke="#f1f9fc" stroke-width="0.4"/>
<path d="M228.93,188.44 L231.90,190.43 L235.14,184.82 L231.93,183.23Z" fill="#f1f9fc" stroke="#f1f9fc" stroke-width="0.4"/>
<path d="M231.65,190.26 L234.62,192.25 L238.08,186.26 L234.87,184.68Z" fill="#f1f9fc" stroke="#f1f9fc" stroke-width="0.4"/>
<path d="M234.37,192.08 L237.35,194.07 L241.01,187.71 L237.81,186.13Z" fill="#f1f9fc" stroke="#f1f9fc" stroke-width="0.4"/>
<path d="M237.10,193.90 L240.07,195.89 L243.95,189.16 L240.75,187.58Z" fill="#f1f9fc" stroke="#f1f9fc" stroke-width="0.4"/>
<path d="M239.82,195.72 L242.79,197.71 L246.89,190.61 L243.68,189.03Z" fill="#f1f9fc" stroke="#f1f9fc" stroke-width="0.4"/>
<path d="M242.54,197.54 L245.51,199.53 L249.83,192.06 L246.62,190.48Z" fill="#f0f9fc" stroke="#f0f9fc" stroke-width="0.4"/>
<path d="M245.27,199.36 L248.24,201.35 L252.76,193.51 L249.56,191.93Z" fill="#f0f8fc" stroke="#f0f8fc" stroke-width="0.4"/>
<path d="M247.99,201.18 L250.96,203.16 L255.70,194.95 L252.49,193.37Z" fill="#f0f8fc" stroke="#f0f8fc" stroke-width="0.4"/>
<path d="M250.71,203.00 L253.68,204.98 L258.64,196.40 L255.43,194.82Z" fill="#f0f8fc" stroke="#f0f8fc" stroke-width="0.4"/>
<path d="M253.43,204.82 L256.41,206.80 L261.58,197.85 L258.37,196.27Z" fill="#f0f8fc" stroke="#f0f8fc" stroke-width="0.4"/>
<path d="M256.16,206.64 L259.13,208.62 L264.51,199.30 L261.31,197.72Z" fill="#f0f8fc" stroke="#f0f8fc" stroke-width="0.4"/>
<path d="M205.50,170.20 L208.70,171.78 L209.71,169.35 L206.32,168.20Z" fill="#eff8fc" stroke="#eff8fc" stroke-width="0.4"/>
<path d="M208.44,171.65 L211.64,173.23 L212.81,170.41 L209.43,169.26Z" fill="#eff8fc" stroke="#eff8fc" stroke-width="0.4"/>
<path d="M211.37,173.09 L214.58,174.68 L215.91,171.46 L212.53,170.31Z" fill="#eff8fc" stroke="#eff8fc" stroke-width="0.4"/>
<path d="M214.31,174.54 L217.52,176.12 L219.01,172.51 L215.63,171.36Z" fill="#eff8fc" stroke="#eff8fc" stroke-width="0.4"/>
<path d="M217.25,175.99 L220.45,177.57 L222.11,173.56 L218.73,172.41Z" fill="#eef8fc" stroke="#eef8fc" stroke-width="0.4"/>
<path d="M220.18,177.44 L223.39,179.02 L225.22,174.62 L221.83,173.47Z" fill="#eef8fc" stroke="#eef8fc" stroke-width="0.4"/>
<path d="M223.12,178.89 L226.33,180.47 L228.32,175.67 L224.93,174.52Z" fill="#eef7fc" stroke="#eef7fc" stroke-width="0.4"/>
<path d="M226.06,180.34 L229.27,181.92 L231.42,176.72 L228.03,175.57Z" fill="#edf7fb" stroke="#edf7fb" stroke-width="0.4"/>
<path d="M229.00,181.79 L232.20,183.37 L234.52,177.77 L231.13,176.63Z" fill="#edf7fb" stroke="#edf7fb" stroke-width="0.4"/>
<path d="M231.93,183.23 L235.14,184.82 L237.62,178.83 L234.24,177.68Z" fill="#edf7fb" stroke="#edf7fb" stroke-width="0.4"/>
<path d="M234.87,184.68 L238.08,186.26 L240.72,179.88 L237.34,178.73Z" fill="#ecf7fb" stroke="#ecf7fb" stroke-width="0.4"/>
<path d="M237.81,186.13 L241.01,187.71 L243.82,180.93 L240.44,179.78Z" fill="#ecf7fb" stroke="#ecf7fb" stroke-width="0.4"/>
<path d="M240.75,187.58 L243.95,189.16 L246.92,181.99 L243.54,180.84Z" fill="#ecf7fb" stroke="#ecf7fb" stroke-width="0.4"/>
<path d="M243.68,189.03 L246.89,190.61 L250.03,183.04 L246.64,181.89Z" fill="#ebf6fb" stroke="#ebf6fb" stroke-width="0.4"/>
<path d="M246.62,190.48 L249.83,192.06 L253.13,184.09 L249.74,182.94Z" fill="#ebf6fb" stroke="#ebf6fb" stroke-width="0.4"/>
<path d="M249.56,191.93 L252.76,193.51 L256.23,185.14 L252.84,183.99Z" fill="#ebf6fb" stroke="#ebf6fb" stroke-width="0.4"/>
<path d="M252.49,193.37 L255.70,194.95 L259.33,186.20 L255.94,185.05Z" fill="#ebf6fb" stroke="#ebf6fb" stroke-width="0.4"/>
<path d="M255.43,194.82 L258.64,196.40 L262.43,187.25 L259.04,186.10Z" fill="#eaf6fb" stroke="#eaf6fb" stroke-width="0.4"/>
<path d="M258.37,196.27 L261.58,197.85 L265.53,188.30 L262.15,187.15Z" fill="#eaf6fb" stroke="#eaf6fb" stroke-width="0.4"/>
<path d="M261.31,197.72 L264.51,199.30 L268.63,189.35 L265.25,188.21Z" fill="#eaf6fb" stroke="#eaf6fb" stroke-width="0.4"/>
<path d="M206.32,168.20 L209.71,169.35 L210.39,166.82 L206.88,166.12Z" fill="#e8f5fa" stroke="#e8f5fa" stroke-width="0.4"/>
<path d="M209.43,169.26 L212.81,170.41 L213.60,167.46 L210.10,166.76Z" fill="#e7f5fa" stroke="#e7f5fa" stroke-width="0.4"/>
<path d="M212.53,170.31 L215.91,171.46 L216.81,168.09 L213.31,167.40Z" fill="#e6f4fa" stroke="#e6f4fa" stroke-width="0.4"/>
<path d="M215.63,171.36 L219.01,172.51 L220.03,168.73 L216.52,168.04Z" fill="#e5f4fa" stroke="#e5f4fa" stroke-width="0.4"/>
<path d="M218.73,172.41 L222.11,173.56 L223.24,169.37 L219.73,168.67Z" fill="#e4f3f9" stroke="#e4f3f9" stroke-width="0.4"/>
<path d="M221.83,173.47 L225.22,174.62 L226.45,170.01 L222.94,169.31Z" fill="#e3f3f9" stroke="#e3f3f9" stroke-width="0.4"/>
<path d="M224.93,174.52 L228.32,175.67 L229.66,170.65 L226.16,169.95Z" fill="#e2f3f9" stroke="#e2f3f9" stroke-width="0.4"/>
<path d="M228.03,175.57 L231.42,176.72 L232.87,171.29 L229.37,170.59Z" fill="#e1f2f9" stroke="#e1f2f9" stroke-width="0.4"/>
<path d="M231.13,176.63 L234.52,177.77 L236.09,171.93 L232.58,171.23Z" fill="#e0f2f9" stroke="#e0f2f9" stroke-width="0.4"/>
<path d="M234.24,177.68 L237.62,178.83 L239.30,172.57 L235.79,171.87Z" fill="#dff2f8" stroke="#dff2f8" stroke-width="0.4"/>
<path d="M237.34,178.73 L240.72,179.88 L242.51,173.21 L239.00,172.51Z" fill="#def1f8" stroke="#def1f8" stroke-width="0.4"/>
<path d="M240.44,179.78 L243.82,180.93 L245.72,173.84 L242.22,173.15Z" fill="#def1f8" stroke="#def1f8" stroke-width="0.4"/>
<path d="M243.54,180.84 L246.92,181.99 L248.93,174.48 L245.43,173.79Z" fill="#ddf1f8" stroke="#ddf1f8" stroke-width="0.4"/>
<path d="M246.64,181.89 L250.03,183.04 L252.15,175.12 L248.64,174.42Z" fill="#dcf0f8" stroke="#dcf0f8" stroke-width="0.4"/>
<path d="M249.74,182.94 L253.13,184.09 L255.36,175.76 L251.85,175.06Z" fill="#dbf0f7" stroke="#dbf0f7" stroke-width="0.4"/>
<path d="M252.84,183.99 L256.23,185.14 L258.57,176.40 L255.06,175.70Z" fill="#daf0f7" stroke="#daf0f7" stroke-width="0.4"/>
<path d="M255.94,185.05 L259.33,186.20 L261.78,177.04 L258.28,176.34Z" fill="#d9eff7" stroke="#d9eff7" stroke-width="0.4"/>
<path d="M259.04,186.10 L262.43,187.25 L264.99,177.68 L261.49,176.98Z" fill="#d8eff7" stroke="#d8eff7" stroke-width="0.4"/>
<path d="M262.15,187.15 L265.53,188.30 L268.21,178.32 L264.70,177.62Z" fill="#d8eff7" stroke="#d8eff7" stroke-width="0.4"/>
<path d="M265.25,188.21 L268.63,189.35 L271.42,178.96 L267.91,178.26Z" fill="#d7eef7" stroke="#d7eef7" stroke-width="0.4"/>
<path d="M206.88,166.12 L210.39,166.82 L210.73,164.21 L207.16,163.98Z" fill="#d8eff7" stroke="#d8eff7" stroke-width="0.4"/>
<path d="M210.10,166.76 L213.60,167.46 L214.00,164.43 L210.43,164.19Z" fill="#d6eef6" stroke="#d6eef6" stroke-width="0.4"/>
<path d="M213.31,167.40 L216.81,168.09 L217.27,164.64 L213.70,164.41Z" fill="#d4edf6" stroke="#d4edf6" stroke-width="0.4"/>
<path d="M216.52,168.04 L220.03,168.73 L220.54,164.86 L216.97,164.62Z" fill="#d2edf6" stroke="#d2edf6" stroke-width="0.4"/>
<path d="M219.73,168.67 L223.24,169.37 L223.80,165.07 L220.24,164.84Z" fill="#d0ecf5" stroke="#d0ecf5" stroke-width="0.4"/>
<path d="M222.94,169.31 L226.45,170.01 L227.07,165.28 L223.50,165.05Z" fill="#ceebf5" stroke="#ceebf5" stroke-width="0.4"/>
<path d="M226.16,169.95 L229.66,170.65 L230.34,165.50 L226.77,165.26Z" fill="#ccebf4" stroke="#ccebf4" stroke-width="0.4"/>
<path d="M229.37,170.59 L232.87,171.29 L233.61,165.71 L230.04,165.48Z" fill="#caeaf4" stroke="#caeaf4" stroke-width="0.4"/>
<path d="M232.58,171.23 L236.09,171.93 L236.88,165.93 L233.31,165.69Z" fill="#c8e9f4" stroke="#c8e9f4" stroke-width="0.4"/>
<path d="M235.79,171.87 L239.30,172.57 L240.14,166.14 L236.58,165.91Z" fill="#c6e9f3" stroke="#c6e9f3" stroke-width="0.4"/>
<path d="M239.00,172.51 L242.51,173.21 L243.41,166.35 L239.84,166.12Z" fill="#c4e8f3" stroke="#c4e8f3" stroke-width="0.4"/>
<path d="M242.22,173.15 L245.72,173.84 L246.68,166.57 L243.11,166.34Z" fill="#c1e8f3" stroke="#c1e8f3" stroke-width="0.4"/>
<path d="M245.43,173.79 L248.93,174.48 L249.95,166.78 L246.38,166.55Z" fill="#bfe7f3" stroke="#bfe7f3" stroke-width="0.4"/>
<path d="M248.64,174.42 L252.15,175.12 L253.22,167.00 L249.65,166.76Z" fill="#bde7f2" stroke="#bde7f2" stroke-width="0.4"/>
<path d="M251.85,175.06 L255.36,175.76 L256.48,167.21 L252.92,166.98Z" fill="#bbe6f2" stroke="#bbe6f2" stroke-width="0.4"/>
<path d="M255.06,175.70 L258.57,176.40 L259.75,167.43 L256.18,167.19Z" fill="#b9e5f2" stroke="#b9e5f2" stroke-width="0.4"/>
<path d="M258.28,176.34 L261.78,177.04 L263.02,167.64 L259.45,167.41Z" fill="#b7e5f1" stroke="#b7e5f1" stroke-width="0.4"/>
<path d="M261.49,176.98 L264.99,177.68 L266.29,167.85 L262.72,167.62Z" fill="#b5e4f1" stroke="#b5e4f1" stroke-width="0.4"/>
<path d="M264.70,177.62 L268.21,178.32 L269.56,168.07 L265.99,167.83Z" fill="#b2e4f1" stroke="#b2e4f1" stroke-width="0.4"/>
<path d="M267.91,178.26 L271.42,178.96 L272.82,168.28 L269.26,168.05Z" fill="#b0e3f0" stroke="#b0e3f0" stroke-width="0.4"/>
<circle cx="190.7" cy="162.9" r="16.5" fill="#f4fafd"/>
<circle cx="190.7" cy="162.9" r="82.0" fill="none" stroke="#111" stroke-width="1.5"/>
<circle cx="190.7" cy="162.9" r="122.5" fill="none" stroke="#555" stroke-width="0.7"/>
<path d="M190.7,16 V80.9 M190.7,244.9 V310 M44,162.9 H108.69999999999999 M272.7,162.9 H337.5" stroke="#666" stroke-width="0.9" fill="none"/>
<path d="M213.47,83.48 L212.09,83.09 L212.10,83.05 L210.70,82.69 L210.72,82.61 L209.31,82.28 L209.35,82.14 L207.93,81.82 L207.98,81.59 L206.56,81.31 L206.62,80.98 L205.19,80.71 L205.27,80.28 L203.82,80.04 L203.90,79.53 L202.45,79.31 L202.52,78.77 L201.05,78.58 L201.12,78.06 L199.64,77.89 L199.68,77.43 L198.19,77.28 L198.22,76.92 L196.72,76.80 L196.74,76.55 L195.23,76.46 L195.24,76.31 L193.73,76.24 L193.73,76.17 L192.21,76.13 L192.21,76.11 L190.70,76.10 L190.70,76.10 L189.19,76.11 L189.19,76.13 L187.67,76.17 L187.67,76.24 L186.16,76.31 L186.17,76.46 L184.66,76.55 L184.68,76.80 L183.18,76.92 L183.21,77.28 L181.72,77.43 L181.76,77.89 L180.28,78.06 L180.35,78.58 L178.88,78.77 L178.95,79.31 L177.50,79.53 L177.58,80.04 L176.13,80.28 L176.21,80.71 L174.78,80.98 L174.84,81.31 L173.42,81.59 L173.47,81.82 L172.05,82.14 L172.09,82.28 L170.68,82.61 L170.70,82.69 L169.30,83.05 L169.31,83.09 L167.93,83.48" fill="none" stroke="#111" stroke-width="1.15" stroke-dasharray="2.2,1.2"/>
<path d="M213.47,83.48 L212.09,83.09 L212.10,83.05 L210.70,82.69 L210.72,82.61 L209.31,82.28 L209.35,82.14 L207.93,81.82 L207.98,81.59 L206.56,81.31 L206.62,80.98 L205.19,80.71 L205.27,80.28 L203.82,80.04 L203.90,79.53 L202.45,79.31 L202.52,78.77 L201.05,78.58 L201.12,78.06 L199.64,77.89 L199.68,77.43 L198.19,77.28 L198.22,76.92 L196.72,76.80 L196.74,76.55 L195.23,76.46 L195.24,76.31 L193.73,76.24 L193.73,76.17 L192.21,76.13 L192.21,76.11 L190.70,76.10 L190.70,76.10 L189.19,76.11 L189.19,76.13 L187.67,76.17 L187.67,76.24 L186.16,76.31 L186.17,76.46 L184.66,76.55 L184.68,76.80 L183.18,76.92 L183.21,77.28 L181.72,77.43 L181.76,77.89 L180.28,78.06 L180.35,78.58 L178.88,78.77 L178.95,79.31 L177.50,79.53 L177.58,80.04 L176.13,80.28 L176.21,80.71 L174.78,80.98 L174.84,81.31 L173.42,81.59 L173.47,81.82 L172.05,82.14 L172.09,82.28 L170.68,82.61 L170.70,82.69 L169.30,83.05 L169.31,83.09 L167.93,83.48" fill="none" stroke="#9a3040" stroke-width="1.0" stroke-dasharray="0.8,2.6"/>
<path d="M214.85,83.91 L213.47,83.50 L212.08,83.11 L210.68,82.75 L210.83,82.17 L209.42,81.83 L208.00,81.52 L208.37,79.76 L206.34,79.35 L206.70,77.38 L205.16,77.11 L203.61,76.86 L202.06,76.64 L201.99,77.14 L200.49,76.96 L198.99,76.80 L197.49,76.67 L197.53,76.17 L195.82,76.05 L194.12,75.97 L192.41,75.92 L190.70,75.90 L190.70,69.30 L188.79,69.32 L186.89,69.38 L184.99,69.47 L185.02,70.07 L183.40,70.19 L181.79,70.33 L181.88,71.32 L179.49,71.59 L179.37,70.59 L177.76,70.81 L177.69,70.31 L175.87,70.58 L174.06,70.89 L172.26,71.24 L170.46,71.62 L171.35,75.62 L169.45,76.06 L167.56,76.55 L168.57,80.31 L167.13,80.71 L165.70,81.14 L164.28,81.58 L164.74,83.01 L162.94,83.62 L161.15,84.27 L161.64,85.58 L160.03,86.21 L158.43,86.87" fill="none" stroke="#121238" stroke-width="1.3"/>
<path d="M270.12,185.67 L270.51,184.29 L270.55,184.30 L270.91,182.90 L270.99,182.92 L271.32,181.51 L271.46,181.55 L271.78,180.13 L272.01,180.18 L272.29,178.76 L272.62,178.82 L272.89,177.39 L273.32,177.47 L273.56,176.02 L274.07,176.10 L274.29,174.65 L274.83,174.72 L275.02,173.25 L275.54,173.32 L275.71,171.84 L276.17,171.88 L276.32,170.39 L276.68,170.42 L276.80,168.92 L277.05,168.94 L277.14,167.43 L277.29,167.44 L277.36,165.93 L277.43,165.93 L277.47,164.41 L277.49,164.41 L277.50,162.90 L277.50,162.90 L277.49,161.39 L277.47,161.39 L277.43,159.87 L277.36,159.87 L277.29,158.36 L277.14,158.37 L277.05,156.86 L276.80,156.88 L276.68,155.38 L276.32,155.41 L276.17,153.92 L275.71,153.96 L275.54,152.48 L275.02,152.55 L274.83,151.08 L274.29,151.15 L274.07,149.70 L273.56,149.78 L273.32,148.33 L272.89,148.41 L272.62,146.98 L272.29,147.04 L272.01,145.62 L271.78,145.67 L271.46,144.25 L271.32,144.29 L270.99,142.88 L270.91,142.90 L270.55,141.50 L270.51,141.51 L270.12,140.13" fill="none" stroke="#111" stroke-width="1.15" stroke-dasharray="2.2,1.2"/>
<path d="M270.12,185.67 L270.51,184.29 L270.55,184.30 L270.91,182.90 L270.99,182.92 L271.32,181.51 L271.46,181.55 L271.78,180.13 L272.01,180.18 L272.29,178.76 L272.62,178.82 L272.89,177.39 L273.32,177.47 L273.56,176.02 L274.07,176.10 L274.29,174.65 L274.83,174.72 L275.02,173.25 L275.54,173.32 L275.71,171.84 L276.17,171.88 L276.32,170.39 L276.68,170.42 L276.80,168.92 L277.05,168.94 L277.14,167.43 L277.29,167.44 L277.36,165.93 L277.43,165.93 L277.47,164.41 L277.49,164.41 L277.50,162.90 L277.50,162.90 L277.49,161.39 L277.47,161.39 L277.43,159.87 L277.36,159.87 L277.29,158.36 L277.14,158.37 L277.05,156.86 L276.80,156.88 L276.68,155.38 L276.32,155.41 L276.17,153.92 L275.71,153.96 L275.54,152.48 L275.02,152.55 L274.83,151.08 L274.29,151.15 L274.07,149.70 L273.56,149.78 L273.32,148.33 L272.89,148.41 L272.62,146.98 L272.29,147.04 L272.01,145.62 L271.78,145.67 L271.46,144.25 L271.32,144.29 L270.99,142.88 L270.91,142.90 L270.55,141.50 L270.51,141.51 L270.12,140.13" fill="none" stroke="#9a3040" stroke-width="1.0" stroke-dasharray="0.8,2.6"/>
<path d="M267.81,192.50 L268.32,191.15 L268.80,189.79 L269.26,188.42 L269.64,188.55 L270.07,187.17 L270.48,185.78 L270.87,184.38 L272.13,184.72 L272.50,183.29 L272.84,181.86 L273.16,180.43 L274.63,180.74 L274.92,179.27 L275.20,177.80 L280.02,178.65 L280.28,177.09 L280.52,175.52 L281.80,175.70 L282.04,173.87 L282.25,172.04 L282.41,170.20 L282.54,168.36 L280.34,168.23 L280.45,165.88 L276.65,165.75 L276.70,162.90 L281.60,162.90 L281.57,160.68 L281.49,158.46 L278.59,158.60 L278.51,157.07 L278.39,155.54 L276.00,155.74 L275.83,153.95 L273.44,154.20 L273.28,152.76 L273.09,151.32 L272.88,149.88 L272.28,149.98 L272.05,148.56 L271.78,147.14 L271.49,145.73" fill="none" stroke="#121238" stroke-width="1.3"/>
<path d="M111.28,140.13 L110.89,141.51 L110.85,141.50 L110.49,142.90 L110.41,142.88 L110.08,144.29 L109.94,144.25 L109.62,145.67 L109.39,145.62 L109.11,147.04 L108.78,146.98 L108.51,148.41 L108.08,148.33 L107.84,149.78 L107.33,149.70 L107.11,151.15 L106.57,151.08 L106.38,152.55 L105.86,152.48 L105.69,153.96 L105.23,153.92 L105.08,155.41 L104.72,155.38 L104.60,156.88 L104.35,156.86 L104.26,158.37 L104.11,158.36 L104.04,159.87 L103.97,159.87 L103.93,161.39 L103.91,161.39 L103.90,162.90 L103.90,162.90 L103.91,164.41 L103.93,164.41 L103.97,165.93 L104.04,165.93 L104.11,167.44 L104.26,167.43 L104.35,168.94 L104.60,168.92 L104.72,170.42 L105.08,170.39 L105.23,171.88 L105.69,171.84 L105.86,173.32 L106.38,173.25 L106.57,174.72 L107.11,174.65 L107.33,176.10 L107.84,176.02 L108.08,177.47 L108.51,177.39 L108.78,178.82 L109.11,178.76 L109.39,180.18 L109.62,180.13 L109.94,181.55 L110.08,181.51 L110.41,182.92 L110.49,182.90 L110.85,184.30 L110.89,184.29 L111.28,185.67" fill="none" stroke="#111" stroke-width="1.15" stroke-dasharray="2.2,1.2"/>
<path d="M111.28,140.13 L110.89,141.51 L110.85,141.50 L110.49,142.90 L110.41,142.88 L110.08,144.29 L109.94,144.25 L109.62,145.67 L109.39,145.62 L109.11,147.04 L108.78,146.98 L108.51,148.41 L108.08,148.33 L107.84,149.78 L107.33,149.70 L107.11,151.15 L106.57,151.08 L106.38,152.55 L105.86,152.48 L105.69,153.96 L105.23,153.92 L105.08,155.41 L104.72,155.38 L104.60,156.88 L104.35,156.86 L104.26,158.37 L104.11,158.36 L104.04,159.87 L103.97,159.87 L103.93,161.39 L103.91,161.39 L103.90,162.90 L103.90,162.90 L103.91,164.41 L103.93,164.41 L103.97,165.93 L104.04,165.93 L104.11,167.44 L104.26,167.43 L104.35,168.94 L104.60,168.92 L104.72,170.42 L105.08,170.39 L105.23,171.88 L105.69,171.84 L105.86,173.32 L106.38,173.25 L106.57,174.72 L107.11,174.65 L107.33,176.10 L107.84,176.02 L108.08,177.47 L108.51,177.39 L108.78,178.82 L109.11,178.76 L109.39,180.18 L109.62,180.13 L109.94,181.55 L110.08,181.51 L110.41,182.92 L110.49,182.90 L110.85,184.30 L110.89,184.29 L111.28,185.67" fill="none" stroke="#9a3040" stroke-width="1.0" stroke-dasharray="0.8,2.6"/>
<path d="M113.08,134.65 L112.60,136.01 L112.14,137.38 L111.71,138.75 L111.30,140.13 L110.91,141.52 L109.95,141.26 L109.58,142.68 L109.24,144.09 L108.93,145.52 L108.64,146.95 L108.37,148.38 L108.13,149.82 L107.91,151.27 L107.72,152.71 L107.56,154.16 L107.42,155.61 L107.30,157.07 L105.91,156.97 L105.82,158.45 L105.75,159.93 L103.25,159.85 L103.21,161.37 L103.20,162.90 L97.50,162.90 L97.51,164.53 L97.56,166.15 L97.63,167.78 L97.73,169.40 L97.85,171.02 L100.35,170.81 L100.53,172.70 L98.05,172.97 L98.32,175.23 L98.65,177.48 L101.61,177.01 L101.98,179.18 L104.34,178.75 L104.68,180.48 L105.05,182.20 L107.88,181.56 L108.25,183.15 L108.65,184.73 L109.09,186.30 L110.72,185.83 L111.14,187.23 L111.57,188.61 L112.03,189.99 L112.60,189.79 L113.08,191.15 L113.59,192.50 L114.11,193.84" fill="none" stroke="#121238" stroke-width="1.3"/>
<path d="M167.93,242.32 L169.31,242.71 L169.30,242.75 L170.70,243.11 L170.68,243.19 L172.09,243.52 L172.05,243.66 L173.47,243.98 L173.42,244.21 L174.84,244.49 L174.78,244.82 L176.21,245.09 L176.13,245.52 L177.58,245.76 L177.50,246.27 L178.95,246.49 L178.88,247.03 L180.35,247.22 L180.28,247.74 L181.76,247.91 L181.72,248.37 L183.21,248.52 L183.18,248.88 L184.68,249.00 L184.66,249.25 L186.17,249.34 L186.16,249.49 L187.67,249.56 L187.67,249.63 L189.19,249.67 L189.19,249.69 L190.70,249.70 L190.70,249.70 L192.21,249.69 L192.21,249.67 L193.73,249.63 L193.73,249.56 L195.24,249.49 L195.23,249.34 L196.74,249.25 L196.72,249.00 L198.22,248.88 L198.19,248.52 L199.68,248.37 L199.64,247.91 L201.12,247.74 L201.05,247.22 L202.52,247.03 L202.45,246.49 L203.90,246.27 L203.82,245.76 L205.27,245.52 L205.19,245.09 L206.62,244.82 L206.56,244.49 L207.98,244.21 L207.93,243.98 L209.35,243.66 L209.31,243.52 L210.72,243.19 L210.70,243.11 L212.10,242.75 L212.09,242.71 L213.47,242.32" fill="none" stroke="#111" stroke-width="1.15" stroke-dasharray="2.2,1.2"/>
<path d="M167.93,242.32 L169.31,242.71 L169.30,242.75 L170.70,243.11 L170.68,243.19 L172.09,243.52 L172.05,243.66 L173.47,243.98 L173.42,244.21 L174.84,244.49 L174.78,244.82 L176.21,245.09 L176.13,245.52 L177.58,245.76 L177.50,246.27 L178.95,246.49 L178.88,247.03 L180.35,247.22 L180.28,247.74 L181.76,247.91 L181.72,248.37 L183.21,248.52 L183.18,248.88 L184.68,249.00 L184.66,249.25 L186.17,249.34 L186.16,249.49 L187.67,249.56 L187.67,249.63 L189.19,249.67 L189.19,249.69 L190.70,249.70 L190.70,249.70 L192.21,249.69 L192.21,249.67 L193.73,249.63 L193.73,249.56 L195.24,249.49 L195.23,249.34 L196.74,249.25 L196.72,249.00 L198.22,248.88 L198.19,248.52 L199.68,248.37 L199.64,247.91 L201.12,247.74 L201.05,247.22 L202.52,247.03 L202.45,246.49 L203.90,246.27 L203.82,245.76 L205.27,245.52 L205.19,245.09 L206.62,244.82 L206.56,244.49 L207.98,244.21 L207.93,243.98 L209.35,243.66 L209.31,243.52 L210.72,243.19 L210.70,243.11 L212.10,242.75 L212.09,242.71 L213.47,242.32" fill="none" stroke="#9a3040" stroke-width="1.0" stroke-dasharray="0.8,2.6"/>
<path d="M163.81,241.00 L165.36,241.52 L166.92,242.00 L168.49,242.46 L168.19,243.52 L169.88,243.97 L171.59,244.39 L173.30,244.77 L173.11,245.65 L174.56,245.95 L176.01,246.21 L177.47,246.46 L178.93,246.68 L178.73,248.06 L180.22,248.26 L181.71,248.43 L183.20,248.57 L184.70,248.69 L184.52,251.28 L186.68,251.41 L186.56,254.11 L188.63,254.18 L190.70,254.20 L190.70,251.40 L192.24,251.39 L193.79,251.35 L193.81,251.85 L195.55,251.77 L197.30,251.66 L199.04,251.51 L200.78,251.33 L201.19,255.00 L203.07,254.77 L204.94,254.50 L206.80,254.19 L205.79,248.48 L207.28,248.20 L208.77,247.90 L210.25,247.57 L211.72,247.22 L211.02,244.40 L212.44,244.04 L213.85,243.65 L215.26,243.23 L216.66,242.79 L216.22,241.46 L217.59,241.00 L218.95,240.52 L220.30,240.01" fill="none" stroke="#121238" stroke-width="1.3"/>
<defs><linearGradient id="bx0" gradientUnits="userSpaceOnUse" x1="273.70" y1="162.90" x2="320.00" y2="162.90"><stop offset="0" stop-color="#a0a0a0"/><stop offset="0.45" stop-color="#c8c8c8"/><stop offset="0.75" stop-color="#f4f4f4"/><stop offset="1" stop-color="#e8e8f0"/></linearGradient></defs>
<path d="M273.70,160.90 L320.00,160.90 L320.00,164.90 L273.70,164.90Z" fill="url(#bx0)" stroke="#15152a" stroke-width="1.0"/>
<line x1="292.90" y1="160.90" x2="292.90" y2="164.90" stroke="#7a1828" stroke-width="1.5"/>
<path d="M315.00,160.50 L320.00,160.50 L320.00,165.30 L315.00,165.30Z" fill="#24249a"/>
<path d="M320.00,161.00 L322.50,161.00 L322.50,164.80 L320.00,164.80Z" fill="#5566e0" opacity="0.75"/>
<defs><linearGradient id="bx90" gradientUnits="userSpaceOnUse" x1="190.70" y1="79.90" x2="190.70" y2="42.90"><stop offset="0" stop-color="#a0a0a0"/><stop offset="0.45" stop-color="#c8c8c8"/><stop offset="0.75" stop-color="#f4f4f4"/><stop offset="1" stop-color="#e8e8f0"/></linearGradient></defs>
<path d="M188.70,79.90 L188.70,42.90 L192.70,42.90 L192.70,79.90Z" fill="url(#bx90)" stroke="#15152a" stroke-width="1.0"/>
<line x1="188.70" y1="65.20" x2="192.70" y2="65.20" stroke="#7a1828" stroke-width="1.5"/>
<path d="M188.30,45.90 L188.30,42.90 L193.10,42.90 L193.10,45.90Z" fill="#24249a"/>
<path d="M188.80,42.90 L188.80,40.40 L192.60,40.40 L192.60,42.90Z" fill="#5566e0" opacity="0.75"/>
<defs><linearGradient id="bx180" gradientUnits="userSpaceOnUse" x1="107.70" y1="162.90" x2="63.70" y2="162.90"><stop offset="0" stop-color="#a0a0a0"/><stop offset="0.45" stop-color="#c8c8c8"/><stop offset="0.75" stop-color="#f4f4f4"/><stop offset="1" stop-color="#e8e8f0"/></linearGradient></defs>
<path d="M107.70,164.90 L63.70,164.90 L63.70,160.90 L107.70,160.90Z" fill="url(#bx180)" stroke="#15152a" stroke-width="1.0"/>
<line x1="89.30" y1="164.90" x2="89.30" y2="160.90" stroke="#7a1828" stroke-width="1.5"/>
<path d="M66.70,165.30 L63.70,165.30 L63.70,160.50 L66.70,160.50Z" fill="#24249a"/>
<path d="M63.70,164.80 L61.20,164.80 L61.20,161.00 L63.70,161.00Z" fill="#5566e0" opacity="0.75"/>
<defs><linearGradient id="bx270" gradientUnits="userSpaceOnUse" x1="190.70" y1="245.90" x2="190.70" y2="279.40"><stop offset="0" stop-color="#a0a0a0"/><stop offset="0.45" stop-color="#c8c8c8"/><stop offset="0.75" stop-color="#f4f4f4"/><stop offset="1" stop-color="#e8e8f0"/></linearGradient></defs>
<path d="M192.70,245.90 L192.70,279.40 L188.70,279.40 L188.70,245.90Z" fill="url(#bx270)" stroke="#15152a" stroke-width="1.0"/>
<line x1="192.70" y1="259.20" x2="188.70" y2="259.20" stroke="#7a1828" stroke-width="1.5"/>
<path d="M193.10,276.40 L193.10,279.40 L188.30,279.40 L188.30,276.40Z" fill="#24249a"/>
<path d="M192.60,279.40 L192.60,281.90 L188.80,281.90 L188.80,279.40Z" fill="#5566e0" opacity="0.75"/>
<line x1="248.68" y1="104.92" x2="294.64" y2="58.96" stroke="#111" stroke-width="1.2" stroke-dasharray="2.8,1.5"/>
</g>
<text x="0.0" y="15.0" font-size="20.5" text-anchor="start" font-weight="bold" fill="#111" stroke="#111" stroke-width="0">a)</text>
<text x="190.7" y="9.8" font-size="10.7" text-anchor="middle" textLength="18.1" lengthAdjust="spacingAndGlyphs" fill="#111" stroke="#111" stroke-width="0.22">90°</text>
<text x="22.5" y="166.0" font-size="10.7" text-anchor="start" textLength="23.5" lengthAdjust="spacingAndGlyphs" fill="#111" stroke="#111" stroke-width="0.22">180°</text>
<text x="341.2" y="166.2" font-size="10.7" text-anchor="start" textLength="11.0" lengthAdjust="spacingAndGlyphs" fill="#111" stroke="#111" stroke-width="0.22">0°</text>
<text x="178.4" y="322.7" font-size="10.7" text-anchor="start" textLength="23.7" lengthAdjust="spacingAndGlyphs" fill="#111" stroke="#111" stroke-width="0.22">270°</text>
<text x="257.0" y="110.3" font-size="10.7" text-anchor="start" textLength="6.2" lengthAdjust="spacingAndGlyphs" fill="#111" stroke="#111" stroke-width="0.22">0</text>
<text x="287.7" y="80.5" font-size="10.7" text-anchor="start" textLength="15.6" lengthAdjust="spacingAndGlyphs" fill="#111" stroke="#111" stroke-width="0.22">0.5</text>
<text x="252.5" y="89.5" font-size="11.3" text-anchor="start" textLength="42.5" lengthAdjust="spacingAndGlyphs" transform="rotate(-45 252.5 89.5)" fill="#111" stroke="#111" stroke-width="0.22">density</text>
<defs><linearGradient id="cb" x1="0" y1="1" x2="0" y2="0">
<stop offset="0.0000" stop-color="#f4fafd"/>
<stop offset="0.0602" stop-color="#def1f8"/>
<stop offset="0.1205" stop-color="#caeaf4"/>
<stop offset="0.2410" stop-color="#9edeee"/>
<stop offset="0.3614" stop-color="#6eceec"/>
<stop offset="0.4819" stop-color="#50b8ea"/>
<stop offset="0.6024" stop-color="#3a98e6"/>
<stop offset="0.7229" stop-color="#2876e0"/>
<stop offset="0.8434" stop-color="#1048d6"/>
<stop offset="0.9639" stop-color="#0a1aa8"/>
<stop offset="1.0000" stop-color="#0a0a8a"/>
</linearGradient></defs>
<rect x="355.8" y="55.8" width="11.1" height="214.5" fill="url(#cb)" stroke="#444" stroke-width="0.8"/>
<line x1="366.9" y1="270.30" x2="369.9" y2="270.30" stroke="#333" stroke-width="0.8"/>
<text x="371.8" y="274.8" font-size="10.7" text-anchor="start" textLength="22.3" lengthAdjust="spacingAndGlyphs" fill="#111" stroke="#111" stroke-width="0.22">0.00</text>
<line x1="366.9" y1="244.46" x2="369.9" y2="244.46" stroke="#333" stroke-width="0.8"/>
<text x="371.8" y="249.0" font-size="10.7" text-anchor="start" textLength="22.3" lengthAdjust="spacingAndGlyphs" fill="#111" stroke="#111" stroke-width="0.22">0.05</text>
<line x1="366.9" y1="218.61" x2="369.9" y2="218.61" stroke="#333" stroke-width="0.8"/>
<text x="371.8" y="223.1" font-size="10.7" text-anchor="start" textLength="22.3" lengthAdjust="spacingAndGlyphs" fill="#111" stroke="#111" stroke-width="0.22">0.10</text>
<line x1="366.9" y1="192.77" x2="369.9" y2="192.77" stroke="#333" stroke-width="0.8"/>
<text x="371.8" y="197.3" font-size="10.7" text-anchor="start" textLength="22.3" lengthAdjust="spacingAndGlyphs" fill="#111" stroke="#111" stroke-width="0.22">0.15</text>
<line x1="366.9" y1="166.93" x2="369.9" y2="166.93" stroke="#333" stroke-width="0.8"/>
<text x="371.8" y="171.4" font-size="10.7" text-anchor="start" textLength="22.3" lengthAdjust="spacingAndGlyphs" fill="#111" stroke="#111" stroke-width="0.22">0.20</text>
<line x1="366.9" y1="141.08" x2="369.9" y2="141.08" stroke="#333" stroke-width="0.8"/>
<text x="371.8" y="145.6" font-size="10.7" text-anchor="start" textLength="22.3" lengthAdjust="spacingAndGlyphs" fill="#111" stroke="#111" stroke-width="0.22">0.25</text>
<line x1="366.9" y1="115.24" x2="369.9" y2="115.24" stroke="#333" stroke-width="0.8"/>
<text x="371.8" y="119.7" font-size="10.7" text-anchor="start" textLength="22.3" lengthAdjust="spacingAndGlyphs" fill="#111" stroke="#111" stroke-width="0.22">0.30</text>
<line x1="366.9" y1="89.40" x2="369.9" y2="89.40" stroke="#333" stroke-width="0.8"/>
<text x="371.8" y="93.9" font-size="10.7" text-anchor="start" textLength="22.3" lengthAdjust="spacingAndGlyphs" fill="#111" stroke="#111" stroke-width="0.22">0.35</text>
<line x1="366.9" y1="63.55" x2="369.9" y2="63.55" stroke="#333" stroke-width="0.8"/>
<text x="371.8" y="68.1" font-size="10.7" text-anchor="start" textLength="22.3" lengthAdjust="spacingAndGlyphs" fill="#111" stroke="#111" stroke-width="0.22">0.40</text>
<text x="411.2" y="163.2" font-size="10.7" text-anchor="middle" textLength="114.5" lengthAdjust="spacingAndGlyphs" transform="rotate(-90 411.2 163.2)" fill="#111" stroke="#111" stroke-width="0.22">% of total data points</text>
<text x="429.0" y="15.2" font-size="20.5" text-anchor="start" font-weight="bold" fill="#111" stroke="#111" stroke-width="0">b)</text>
<line x1="496.0" y1="26.5" x2="496.0" y2="238.50000000000003" stroke="#151515" stroke-width="1"/>
<line x1="492.5" y1="26.5" x2="496.0" y2="26.5" stroke="#151515" stroke-width="1"/>
<text x="488.7" y="32.3" font-size="14.8" text-anchor="end" textLength="31.4" lengthAdjust="spacingAndGlyphs" fill="#111" stroke="#111" stroke-width="0.12">0.14</text>
<line x1="492.5" y1="79.50000000000006" x2="496.0" y2="79.50000000000006" stroke="#151515" stroke-width="1"/>
<text x="488.7" y="85.3" font-size="14.8" text-anchor="end" textLength="31.4" lengthAdjust="spacingAndGlyphs" fill="#111" stroke="#111" stroke-width="0.12">0.13</text>
<line x1="492.5" y1="132.5000000000001" x2="496.0" y2="132.5000000000001" stroke="#151515" stroke-width="1"/>
<text x="488.7" y="138.3" font-size="14.8" text-anchor="end" textLength="31.4" lengthAdjust="spacingAndGlyphs" fill="#111" stroke="#111" stroke-width="0.12">0.12</text>
<line x1="492.5" y1="185.50000000000006" x2="496.0" y2="185.50000000000006" stroke="#151515" stroke-width="1"/>
<text x="488.7" y="191.3" font-size="14.8" text-anchor="end" textLength="31.4" lengthAdjust="spacingAndGlyphs" fill="#111" stroke="#111" stroke-width="0.12">0.11</text>
<line x1="492.5" y1="238.50000000000003" x2="496.0" y2="238.50000000000003" stroke="#151515" stroke-width="1"/>
<text x="488.7" y="244.3" font-size="14.8" text-anchor="end" textLength="31.4" lengthAdjust="spacingAndGlyphs" fill="#111" stroke="#111" stroke-width="0.12">0.10</text>
<path d="M556.0,287.0 V283.5 H676.3 V287.0" stroke="#151515" stroke-width="1" fill="none"/>
<text x="556.0" y="300.5" font-size="14.8" text-anchor="middle" textLength="34.0" lengthAdjust="spacingAndGlyphs" fill="#111" stroke="#111" stroke-width="0.12">Easy</text>
<text x="676.3" y="300.5" font-size="14.8" text-anchor="middle" textLength="57.3" lengthAdjust="spacingAndGlyphs" fill="#111" stroke="#111" stroke-width="0.12">Difficult</text>
<text x="616.2" y="319.1" font-size="14.8" text-anchor="middle" textLength="69.3" lengthAdjust="spacingAndGlyphs" fill="#111" stroke="#111" stroke-width="0.12">Condition</text>
<text x="441.4" y="157.6" font-size="14.8" text-anchor="middle" textLength="139.2" lengthAdjust="spacingAndGlyphs" transform="rotate(-90 441.4 157.6)" fill="#111" stroke="#111" stroke-width="0.12">Peak velocity [a.u.]</text>
<polyline points="550.1,246.7 670.1,221.8" fill="none" stroke="#1f78e2" stroke-width="2.8"/>
<line x1="550.1" y1="220.9" x2="550.1" y2="272.5" stroke="#1f78e2" stroke-width="2.8"/>
<circle cx="550.1" cy="246.7" r="4.2" fill="#1a7ae8"/>
<line x1="670.1" y1="193.0" x2="670.1" y2="249.6" stroke="#1f78e2" stroke-width="2.8"/>
<circle cx="670.1" cy="221.8" r="4.2" fill="#1a7ae8"/>
<polyline points="554.1,173.5 674.2,183.8" fill="none" stroke="#e86a2c" stroke-width="2.8"/>
<line x1="554.1" y1="144.7" x2="554.1" y2="201.7" stroke="#e86a2c" stroke-width="2.8"/>
<circle cx="554.1" cy="173.5" r="4.2" fill="#f26418"/>
<line x1="674.2" y1="153.1" x2="674.2" y2="214.1" stroke="#e86a2c" stroke-width="2.8"/>
<circle cx="674.2" cy="183.8" r="4.2" fill="#f26418"/>
<polyline points="558.3,69.8 678.4,128.8" fill="none" stroke="#20c428" stroke-width="2.8"/>
<line x1="558.3" y1="33.5" x2="558.3" y2="102.3" stroke="#20c428" stroke-width="2.8"/>
<circle cx="558.3" cy="69.8" r="4.2" fill="#16cc16"/>
<line x1="678.4" y1="94.1" x2="678.4" y2="166.0" stroke="#20c428" stroke-width="2.8"/>
<circle cx="678.4" cy="128.8" r="4.2" fill="#16cc16"/>
<polyline points="562.1,83.9 682.2,123.5" fill="none" stroke="#d8101e" stroke-width="2.8"/>
<line x1="562.1" y1="39.9" x2="562.1" y2="123.4" stroke="#d8101e" stroke-width="2.8"/>
<circle cx="562.1" cy="83.9" r="4.2" fill="#ee0a1a"/>
<line x1="682.2" y1="88.4" x2="682.2" y2="159.9" stroke="#d8101e" stroke-width="2.8"/>
<circle cx="682.2" cy="123.5" r="4.2" fill="#ee0a1a"/>
<text x="0.0" y="354.6" font-size="20.5" text-anchor="start" font-weight="bold" fill="#111" stroke="#111" stroke-width="0">c)</text>
<line x1="69.5" y1="384.5" x2="69.5" y2="604.5000000000001" stroke="#151515" stroke-width="1"/>
<line x1="66.0" y1="384.5" x2="69.5" y2="384.5" stroke="#151515" stroke-width="1"/>
<text x="62.2" y="390.3" font-size="14.8" text-anchor="end" textLength="40.7" lengthAdjust="spacingAndGlyphs" fill="#111" stroke="#111" stroke-width="0.12">0.070</text>
<line x1="66.0" y1="428.50000000000006" x2="69.5" y2="428.50000000000006" stroke="#151515" stroke-width="1"/>
<text x="62.2" y="434.3" font-size="14.8" text-anchor="end" textLength="40.7" lengthAdjust="spacingAndGlyphs" fill="#111" stroke="#111" stroke-width="0.12">0.065</text>
<line x1="66.0" y1="472.5000000000001" x2="69.5" y2="472.5000000000001" stroke="#151515" stroke-width="1"/>
<text x="62.2" y="478.3" font-size="14.8" text-anchor="end" textLength="40.7" lengthAdjust="spacingAndGlyphs" fill="#111" stroke="#111" stroke-width="0.12">0.060</text>
<line x1="66.0" y1="516.5" x2="69.5" y2="516.5" stroke="#151515" stroke-width="1"/>
<text x="62.2" y="522.3" font-size="14.8" text-anchor="end" textLength="40.7" lengthAdjust="spacingAndGlyphs" fill="#111" stroke="#111" stroke-width="0.12">0.055</text>
<line x1="66.0" y1="560.5" x2="69.5" y2="560.5" stroke="#151515" stroke-width="1"/>
<text x="62.2" y="566.3" font-size="14.8" text-anchor="end" textLength="40.7" lengthAdjust="spacingAndGlyphs" fill="#111" stroke="#111" stroke-width="0.12">0.050</text>
<line x1="66.0" y1="604.5000000000001" x2="69.5" y2="604.5000000000001" stroke="#151515" stroke-width="1"/>
<text x="62.2" y="610.3" font-size="14.8" text-anchor="end" textLength="40.7" lengthAdjust="spacingAndGlyphs" fill="#111" stroke="#111" stroke-width="0.12">0.045</text>
<path d="M125.3,618.5 V615.0 H237.6 V618.5" stroke="#151515" stroke-width="1" fill="none"/>
<text x="125.3" y="632.5" font-size="14.8" text-anchor="middle" textLength="34.0" lengthAdjust="spacingAndGlyphs" fill="#111" stroke="#111" stroke-width="0.12">Easy</text>
<text x="237.6" y="632.5" font-size="14.8" text-anchor="middle" textLength="57.3" lengthAdjust="spacingAndGlyphs" fill="#111" stroke="#111" stroke-width="0.12">Difficult</text>
<text x="181.6" y="650.5" font-size="15.2" text-anchor="middle" textLength="69.8" lengthAdjust="spacingAndGlyphs" fill="#111" stroke="#111" stroke-width="0.12">Condition</text>
<text x="11.3" y="494.1" font-size="14.8" text-anchor="middle" textLength="153.0" lengthAdjust="spacingAndGlyphs" transform="rotate(-90 11.3 494.1)" fill="#111" stroke="#111" stroke-width="0.12">Acceleration time [s]</text>
<polyline points="120.2,422.0 232.2,455.0" fill="none" stroke="#1f78e2" stroke-width="2.8"/>
<line x1="120.2" y1="365.4" x2="120.2" y2="480.8" stroke="#1f78e2" stroke-width="2.8"/>
<circle cx="120.2" cy="422.0" r="4.2" fill="#1a7ae8"/>
<line x1="232.2" y1="398.8" x2="232.2" y2="511.4" stroke="#1f78e2" stroke-width="2.8"/>
<circle cx="232.2" cy="455.0" r="4.2" fill="#1a7ae8"/>
<polyline points="124.0,557.9 235.6,514.9" fill="none" stroke="#e86a2c" stroke-width="2.8"/>
<line x1="124.0" y1="514.2" x2="124.0" y2="604.3" stroke="#e86a2c" stroke-width="2.8"/>
<circle cx="124.0" cy="557.9" r="4.2" fill="#f26418"/>
<line x1="235.6" y1="464.7" x2="235.6" y2="562.6" stroke="#e86a2c" stroke-width="2.8"/>
<circle cx="235.6" cy="514.9" r="4.2" fill="#f26418"/>
<polyline points="127.5,443.1 239.2,461.3" fill="none" stroke="#20c428" stroke-width="2.8"/>
<line x1="127.5" y1="403.2" x2="127.5" y2="481.0" stroke="#20c428" stroke-width="2.8"/>
<circle cx="127.5" cy="443.1" r="4.2" fill="#16cc16"/>
<line x1="239.2" y1="413.6" x2="239.2" y2="507.7" stroke="#20c428" stroke-width="2.8"/>
<circle cx="239.2" cy="461.3" r="4.2" fill="#16cc16"/>
<polyline points="131.2,463.6 243.2,470.9" fill="none" stroke="#d8101e" stroke-width="2.8"/>
<line x1="131.2" y1="420.5" x2="131.2" y2="508.4" stroke="#d8101e" stroke-width="2.8"/>
<circle cx="131.2" cy="463.6" r="4.2" fill="#ee0a1a"/>
<line x1="243.2" y1="428.7" x2="243.2" y2="513.6" stroke="#d8101e" stroke-width="2.8"/>
<circle cx="243.2" cy="470.9" r="4.2" fill="#ee0a1a"/>
<text x="428.8" y="354.6" font-size="20.5" text-anchor="start" font-weight="bold" fill="#111" stroke="#111" stroke-width="0">d)</text>
<line x1="499.5" y1="360.3" x2="499.5" y2="569.9000000000002" stroke="#151515" stroke-width="1"/>
<line x1="496.0" y1="360.3" x2="499.5" y2="360.3" stroke="#151515" stroke-width="1"/>
<text x="492.2" y="366.1" font-size="14.8" text-anchor="end" textLength="31.5" lengthAdjust="spacingAndGlyphs" fill="#111" stroke="#111" stroke-width="0.12">1.06</text>
<line x1="496.0" y1="412.70000000000005" x2="499.5" y2="412.70000000000005" stroke="#151515" stroke-width="1"/>
<text x="492.2" y="418.5" font-size="14.8" text-anchor="end" textLength="31.5" lengthAdjust="spacingAndGlyphs" fill="#111" stroke="#111" stroke-width="0.12">1.04</text>
<line x1="496.0" y1="465.10000000000014" x2="499.5" y2="465.10000000000014" stroke="#151515" stroke-width="1"/>
<text x="492.2" y="470.9" font-size="14.8" text-anchor="end" textLength="31.5" lengthAdjust="spacingAndGlyphs" fill="#111" stroke="#111" stroke-width="0.12">1.02</text>
<line x1="496.0" y1="517.5000000000001" x2="499.5" y2="517.5000000000001" stroke="#151515" stroke-width="1"/>
<text x="492.2" y="523.3" font-size="14.8" text-anchor="end" textLength="31.5" lengthAdjust="spacingAndGlyphs" fill="#111" stroke="#111" stroke-width="0.12">1.00</text>
<line x1="496.0" y1="569.9000000000002" x2="499.5" y2="569.9000000000002" stroke="#151515" stroke-width="1"/>
<text x="492.2" y="575.7" font-size="14.8" text-anchor="end" textLength="31.5" lengthAdjust="spacingAndGlyphs" fill="#111" stroke="#111" stroke-width="0.12">0.98</text>
<path d="M559.6,618.5 V615.0 H679.2 V618.5" stroke="#151515" stroke-width="1" fill="none"/>
<text x="559.2" y="632.9" font-size="14.8" text-anchor="middle" textLength="34.0" lengthAdjust="spacingAndGlyphs" fill="#111" stroke="#111" stroke-width="0.12">Easy</text>
<text x="679.2" y="632.9" font-size="14.8" text-anchor="middle" textLength="57.3" lengthAdjust="spacingAndGlyphs" fill="#111" stroke="#111" stroke-width="0.12">Difficult</text>
<text x="619.7" y="650.5" font-size="15.2" text-anchor="middle" textLength="69.8" lengthAdjust="spacingAndGlyphs" fill="#111" stroke="#111" stroke-width="0.12">Condition</text>
<text x="448.6" y="494.0" font-size="14.8" text-anchor="middle" textLength="169.0" lengthAdjust="spacingAndGlyphs" transform="rotate(-90 448.6 494.0)" fill="#111" stroke="#111" stroke-width="0.12">Trajectory length [a.u.]</text>
<polyline points="553.4,503.9 673.4,508.5" fill="none" stroke="#1f78e2" stroke-width="2.8"/>
<line x1="553.4" y1="412.1" x2="553.4" y2="582.1" stroke="#1f78e2" stroke-width="2.8"/>
<circle cx="553.4" cy="503.9" r="4.2" fill="#1a7ae8"/>
<line x1="673.4" y1="419.5" x2="673.4" y2="585.3" stroke="#1f78e2" stroke-width="2.8"/>
<circle cx="673.4" cy="508.5" r="4.2" fill="#1a7ae8"/>
<polyline points="557.5,511.9 677.4,519.6" fill="none" stroke="#e86a2c" stroke-width="2.8"/>
<line x1="557.5" y1="425.3" x2="557.5" y2="593.5" stroke="#e86a2c" stroke-width="2.8"/>
<circle cx="557.5" cy="511.9" r="4.2" fill="#f26418"/>
<line x1="677.4" y1="433.0" x2="677.4" y2="603.7" stroke="#e86a2c" stroke-width="2.8"/>
<circle cx="677.4" cy="519.6" r="4.2" fill="#f26418"/>
<polyline points="561.5,467.4 681.4,504.8" fill="none" stroke="#20c428" stroke-width="2.8"/>
<line x1="561.5" y1="396.2" x2="561.5" y2="541.0" stroke="#20c428" stroke-width="2.8"/>
<circle cx="561.5" cy="467.4" r="4.2" fill="#16cc16"/>
<line x1="681.4" y1="423.2" x2="681.4" y2="585.3" stroke="#20c428" stroke-width="2.8"/>
<circle cx="681.4" cy="504.8" r="4.2" fill="#16cc16"/>
<polyline points="565.5,437.3 685.5,472.3" fill="none" stroke="#d8101e" stroke-width="2.8"/>
<line x1="565.5" y1="365.4" x2="565.5" y2="502.9" stroke="#d8101e" stroke-width="2.8"/>
<circle cx="565.5" cy="437.3" r="4.2" fill="#ee0a1a"/>
<line x1="685.5" y1="398.6" x2="685.5" y2="540.4" stroke="#d8101e" stroke-width="2.8"/>
<circle cx="685.5" cy="472.3" r="4.2" fill="#ee0a1a"/>
<text x="304.6" y="455.5" font-size="14.8" text-anchor="start" textLength="64.0" lengthAdjust="spacingAndGlyphs" fill="#111" stroke="#111" stroke-width="0.12">direction</text>
<circle cx="310.6" cy="473.0" r="4.1" fill="#1f77e4"/>
<text x="337.6" y="477.0" font-size="14.8" text-anchor="start" textLength="18.7" lengthAdjust="spacingAndGlyphs" fill="#111" stroke="#111" stroke-width="0.12">up</text>
<circle cx="310.6" cy="494.8" r="4.1" fill="#f26a26"/>
<text x="337.6" y="498.8" font-size="14.8" text-anchor="start" textLength="39.0" lengthAdjust="spacingAndGlyphs" fill="#111" stroke="#111" stroke-width="0.12">down</text>
<circle cx="310.6" cy="516.6" r="4.1" fill="#22c922"/>
<text x="337.6" y="520.6" font-size="14.8" text-anchor="start" textLength="24.0" lengthAdjust="spacingAndGlyphs" fill="#111" stroke="#111" stroke-width="0.12">left</text>
<circle cx="310.6" cy="538.4" r="4.1" fill="#e2101e"/>
<text x="337.6" y="542.4" font-size="14.8" text-anchor="start" textLength="34.5" lengthAdjust="spacingAndGlyphs" fill="#111" stroke="#111" stroke-width="0.12">right</text>
</svg></body></html>
